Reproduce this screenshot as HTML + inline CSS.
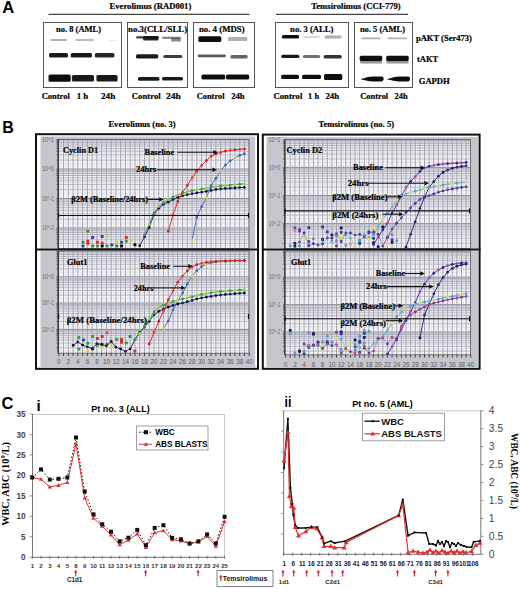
<!DOCTYPE html>
<html><head><meta charset="utf-8"><title>Figure</title>
<style>
html,body{margin:0;padding:0;background:#fff;width:520px;height:589px;overflow:hidden;}
svg.main{display:block;}
</style></head><body>
<svg class="main" width="520" height="589" viewBox="0 0 520 589">
<defs><filter id="bl" x="-20%" y="-80%" width="140%" height="260%"><feGaussianBlur stdDeviation="0.7"/></filter></defs>
<rect width="520" height="589" fill="#fff"/>
<text x="2.2" y="13.0" font-family="'Liberation Sans', sans-serif" font-size="16.5" font-weight="bold" fill="#000" text-anchor="start" >A</text>
<text x="109.5" y="9.0" font-family="'Liberation Serif', serif" font-size="8.6" font-weight="bold" fill="#000" stroke="#000" stroke-width="0.2" textLength="81.8" lengthAdjust="spacingAndGlyphs">Everolimus (RAD001)</text>
<line x1="48.5" y1="14.3" x2="249.5" y2="14.3" stroke="#444" stroke-width="1.2"/>
<text x="311.3" y="9.0" font-family="'Liberation Serif', serif" font-size="8.6" font-weight="bold" fill="#000" stroke="#000" stroke-width="0.2" textLength="89.4" lengthAdjust="spacingAndGlyphs">Temsirolimus (CCI-779)</text>
<line x1="276" y1="14.3" x2="408" y2="14.3" stroke="#444" stroke-width="1.2"/>
<rect x="43.5" y="22.5" width="78.0" height="65.0" fill="#fff" stroke="#555" stroke-width="1"/>
<text x="56.0" y="31.7" font-family="'Liberation Serif', serif" font-size="8.7" font-weight="bold" fill="#000" stroke="#000" stroke-width="0.2" textLength="45.1" lengthAdjust="spacingAndGlyphs">no. 8 (AML)</text>
<rect x="127.5" y="22.5" width="60.0" height="65.0" fill="#fff" stroke="#555" stroke-width="1"/>
<text x="128.1" y="31.7" font-family="'Liberation Serif', serif" font-size="8.7" font-weight="bold" fill="#000" stroke="#000" stroke-width="0.2" textLength="59.0" lengthAdjust="spacingAndGlyphs">no.3(CLL/SLL)</text>
<rect x="193.5" y="22.5" width="61.0" height="65.0" fill="#fff" stroke="#555" stroke-width="1"/>
<text x="198.9" y="31.7" font-family="'Liberation Serif', serif" font-size="8.7" font-weight="bold" fill="#000" stroke="#000" stroke-width="0.2" textLength="45.8" lengthAdjust="spacingAndGlyphs">no. 4 (MDS)</text>
<rect x="275.5" y="22.5" width="73.0" height="65.0" fill="#fff" stroke="#555" stroke-width="1"/>
<text x="290.1" y="31.7" font-family="'Liberation Serif', serif" font-size="8.7" font-weight="bold" fill="#000" stroke="#000" stroke-width="0.2" textLength="43.4" lengthAdjust="spacingAndGlyphs">no. 3 (ALL)</text>
<rect x="354.5" y="22.5" width="58.0" height="65.0" fill="#fff" stroke="#555" stroke-width="1"/>
<text x="359.9" y="31.7" font-family="'Liberation Serif', serif" font-size="8.7" font-weight="bold" fill="#000" stroke="#000" stroke-width="0.2" textLength="45.1" lengthAdjust="spacingAndGlyphs">no. 5 (AML)</text>
<rect x="50.0" y="39.2" width="17.0" height="1.6" rx="1.5" fill="#111" fill-opacity="0.45" filter="url(#bl)"/>
<rect x="75.0" y="39.2" width="19.0" height="1.6" rx="1.5" fill="#111" fill-opacity="0.35" filter="url(#bl)"/>
<rect x="108.0" y="40.0" width="10.0" height="1.0" rx="1.5" fill="#111" fill-opacity="0.08" filter="url(#bl)"/>
<rect x="49.0" y="53.1" width="19.0" height="4.3" rx="1.5" fill="#111" fill-opacity="0.95" filter="url(#bl)"/>
<rect x="70.7" y="53.1" width="21.3" height="4.3" rx="1.5" fill="#111" fill-opacity="0.95" filter="url(#bl)"/>
<rect x="94.8" y="53.1" width="19.6" height="4.3" rx="1.5" fill="#111" fill-opacity="0.9" filter="url(#bl)"/>
<rect x="48.5" y="74.4" width="22.2" height="7.3" rx="1.5" fill="#111" fill-opacity="1" filter="url(#bl)"/>
<rect x="71.9" y="75.0" width="22.1" height="6.5" rx="1.5" fill="#111" fill-opacity="0.95" filter="url(#bl)"/>
<rect x="96.4" y="75.0" width="21.2" height="6.5" rx="1.5" fill="#111" fill-opacity="0.95" filter="url(#bl)"/>
<rect x="136.0" y="36.3" width="23.0" height="2.3" rx="1.5" fill="#111" fill-opacity="0.8" filter="url(#bl)"/>
<rect x="143.0" y="36.0" width="15.5" height="4.6" rx="1.5" fill="#111" fill-opacity="0.9" filter="url(#bl)"/>
<rect x="162.0" y="36.8" width="19.0" height="2.0" rx="1.5" fill="#111" fill-opacity="0.55" filter="url(#bl)"/>
<rect x="171.0" y="38.0" width="10.0" height="3.6" rx="1.5" fill="#111" fill-opacity="0.5" filter="url(#bl)"/>
<rect x="136.0" y="54.2" width="22.3" height="4.4" rx="1.5" fill="#111" fill-opacity="0.95" filter="url(#bl)"/>
<rect x="163.3" y="55.0" width="19.1" height="3.0" rx="1.5" fill="#111" fill-opacity="0.8" filter="url(#bl)"/>
<rect x="138.0" y="77.0" width="21.5" height="3.8" rx="1.5" fill="#111" fill-opacity="0.95" filter="url(#bl)"/>
<rect x="162.0" y="77.0" width="21.0" height="3.5" rx="1.5" fill="#111" fill-opacity="0.95" filter="url(#bl)"/>
<rect x="198.3" y="36.2" width="23.0" height="5.7" rx="1.5" fill="#111" fill-opacity="1" filter="url(#bl)"/>
<rect x="228.0" y="37.0" width="19.3" height="4.0" rx="1.5" fill="#111" fill-opacity="0.35" filter="url(#bl)"/>
<rect x="197.7" y="54.4" width="28.3" height="2.9" rx="1.5" fill="#111" fill-opacity="0.7" filter="url(#bl)"/>
<rect x="230.4" y="55.0" width="17.3" height="3.6" rx="1.5" fill="#111" fill-opacity="0.65" filter="url(#bl)"/>
<rect x="201.5" y="74.6" width="23.7" height="5.0" rx="1.5" fill="#111" fill-opacity="1" filter="url(#bl)"/>
<rect x="226.0" y="74.6" width="23.2" height="5.0" rx="1.5" fill="#111" fill-opacity="1" filter="url(#bl)"/>
<rect x="281.8" y="34.9" width="17.3" height="3.5" rx="1.5" fill="#111" fill-opacity="1" filter="url(#bl)"/>
<rect x="302.9" y="36.0" width="17.3" height="2.0" rx="1.5" fill="#111" fill-opacity="0.15" filter="url(#bl)"/>
<rect x="324.5" y="35.5" width="17.3" height="3.0" rx="1.5" fill="#111" fill-opacity="0.35" filter="url(#bl)"/>
<rect x="281.2" y="54.8" width="18.2" height="3.1" rx="1.5" fill="#111" fill-opacity="0.95" filter="url(#bl)"/>
<rect x="302.9" y="55.0" width="17.3" height="3.0" rx="1.5" fill="#111" fill-opacity="0.6" filter="url(#bl)"/>
<rect x="323.7" y="55.0" width="18.1" height="3.5" rx="1.5" fill="#111" fill-opacity="0.85" filter="url(#bl)"/>
<rect x="281.0" y="74.7" width="18.0" height="4.3" rx="1.5" fill="#111" fill-opacity="1" filter="url(#bl)"/>
<rect x="302.0" y="74.7" width="19.0" height="4.3" rx="1.5" fill="#111" fill-opacity="1" filter="url(#bl)"/>
<rect x="324.0" y="74.0" width="18.3" height="6.0" rx="1.5" fill="#111" fill-opacity="1" filter="url(#bl)"/>
<rect x="361.0" y="37.5" width="19.5" height="1.7" rx="1.5" fill="#111" fill-opacity="0.35" filter="url(#bl)"/>
<rect x="387.4" y="37.5" width="19.9" height="1.7" rx="1.5" fill="#111" fill-opacity="0.3" filter="url(#bl)"/>
<rect x="359.7" y="55.7" width="22.5" height="5.3" rx="1.5" fill="#111" fill-opacity="1" filter="url(#bl)"/>
<rect x="386.2" y="55.7" width="22.5" height="5.3" rx="1.5" fill="#111" fill-opacity="1" filter="url(#bl)"/>
<rect x="360.0" y="60.5" width="22.2" height="3.0" rx="1.5" fill="#111" fill-opacity="0.45" filter="url(#bl)"/>
<rect x="386.2" y="60.5" width="22.5" height="3.0" rx="1.5" fill="#111" fill-opacity="0.45" filter="url(#bl)"/>
<path d="M361,79 C365,77.6 369,76.6 373,76.4 L382,76.6 C384,77 384.5,80.5 382,81.4 L373,81.6 C369,81.4 365,80.4 361,79.6 Z" fill="#111" filter="url(#bl)"/>
<path d="M387.4,79 C391.4,77.6 395.4,76.6 399.4,76.4 L408.4,76.6 C410.4,77 410.9,80.5 408.4,81.4 L399.4,81.6 C395.4,81.4 391.4,80.4 387.4,79.6 Z" fill="#111" filter="url(#bl)"/>
<text x="41.7" y="98.5" font-family="'Liberation Serif', serif" font-size="8.5" font-weight="bold" fill="#000" stroke="#000" stroke-width="0.2" textLength="28.1" lengthAdjust="spacingAndGlyphs">Control</text>
<text x="76.7" y="98.5" font-family="'Liberation Serif', serif" font-size="8.5" font-weight="bold" fill="#000" stroke="#000" stroke-width="0.2" textLength="11.6" lengthAdjust="spacingAndGlyphs">1 h</text>
<text x="100.9" y="98.5" font-family="'Liberation Serif', serif" font-size="8.5" font-weight="bold" fill="#000" stroke="#000" stroke-width="0.2" textLength="14.4" lengthAdjust="spacingAndGlyphs">24h</text>
<text x="131.8" y="98.5" font-family="'Liberation Serif', serif" font-size="8.5" font-weight="bold" fill="#000" stroke="#000" stroke-width="0.2" textLength="28.9" lengthAdjust="spacingAndGlyphs">Control</text>
<text x="166.0" y="98.5" font-family="'Liberation Serif', serif" font-size="8.5" font-weight="bold" fill="#000" stroke="#000" stroke-width="0.2" textLength="14.9" lengthAdjust="spacingAndGlyphs">24h</text>
<text x="196.7" y="98.5" font-family="'Liberation Serif', serif" font-size="8.5" font-weight="bold" fill="#000" stroke="#000" stroke-width="0.2" textLength="27.8" lengthAdjust="spacingAndGlyphs">Control</text>
<text x="231.2" y="98.5" font-family="'Liberation Serif', serif" font-size="8.5" font-weight="bold" fill="#000" stroke="#000" stroke-width="0.2" textLength="13.5" lengthAdjust="spacingAndGlyphs">24h</text>
<text x="273.5" y="98.5" font-family="'Liberation Serif', serif" font-size="8.5" font-weight="bold" fill="#000" stroke="#000" stroke-width="0.2" textLength="28.8" lengthAdjust="spacingAndGlyphs">Control</text>
<text x="308.1" y="98.5" font-family="'Liberation Serif', serif" font-size="8.5" font-weight="bold" fill="#000" stroke="#000" stroke-width="0.2" textLength="11.0" lengthAdjust="spacingAndGlyphs">1 h</text>
<text x="325.4" y="98.5" font-family="'Liberation Serif', serif" font-size="8.5" font-weight="bold" fill="#000" stroke="#000" stroke-width="0.2" textLength="13.8" lengthAdjust="spacingAndGlyphs">24h</text>
<text x="360.3" y="98.5" font-family="'Liberation Serif', serif" font-size="8.5" font-weight="bold" fill="#000" stroke="#000" stroke-width="0.2" textLength="27.9" lengthAdjust="spacingAndGlyphs">Control</text>
<text x="394.5" y="98.5" font-family="'Liberation Serif', serif" font-size="8.5" font-weight="bold" fill="#000" stroke="#000" stroke-width="0.2" textLength="13.1" lengthAdjust="spacingAndGlyphs">24h</text>
<text x="416.0" y="40.6" font-family="'Liberation Serif', serif" font-size="8.5" font-weight="bold" fill="#000" stroke="#000" stroke-width="0.2" textLength="55.8" lengthAdjust="spacingAndGlyphs">pAKT (Ser473)</text>
<text x="416.9" y="62.2" font-family="'Liberation Serif', serif" font-size="8.5" font-weight="bold" fill="#000" stroke="#000" stroke-width="0.2" textLength="21.3" lengthAdjust="spacingAndGlyphs">tAKT</text>
<text x="418.7" y="83.5" font-family="'Liberation Serif', serif" font-size="8.5" font-weight="bold" fill="#000" stroke="#000" stroke-width="0.2" textLength="31.1" lengthAdjust="spacingAndGlyphs">GAPDH</text>
<text x="2.2" y="132.5" font-family="'Liberation Sans', sans-serif" font-size="16" font-weight="bold" fill="#000" text-anchor="start" >B</text>
<text x="108.4" y="127.0" font-family="'Liberation Serif', serif" font-size="8.6" font-weight="bold" fill="#000" stroke="#000" stroke-width="0.2" textLength="67.3" lengthAdjust="spacingAndGlyphs">Everolimus (no. 3)</text>
<text x="318.5" y="127.0" font-family="'Liberation Serif', serif" font-size="8.6" font-weight="bold" fill="#000" stroke="#000" stroke-width="0.2" textLength="75.6" lengthAdjust="spacingAndGlyphs">Temsirolimus (no. 5)</text>
<rect x="36" y="134.2" width="222" height="234.6" fill="#fff" stroke="#111" stroke-width="2"/>
<rect x="262.8" y="134.6" width="216.8" height="234.2" fill="#fff" stroke="#111" stroke-width="2"/>
<rect x="40.5" y="136.5" width="214.7" height="112.0" fill="#c6c6cc"/>
<rect x="58" y="139.5" width="191" height="109.0" fill="#f8f8fb"/>
<svg x="58" y="139.5" width="191" height="109.0" overflow="hidden"><g transform="translate(-58,-139.5)">
<line x1="58" y1="163.81" x2="249" y2="163.81" stroke="#e2e2e8" stroke-width="0.8"/>
<line x1="58" y1="157.26" x2="249" y2="157.26" stroke="#e2e2e8" stroke-width="0.8"/>
<line x1="58" y1="152.95" x2="249" y2="152.95" stroke="#e2e2e8" stroke-width="0.8"/>
<line x1="58" y1="149.73" x2="249" y2="149.73" stroke="#e2e2e8" stroke-width="0.8"/>
<line x1="58" y1="193.31" x2="249" y2="193.31" stroke="#e2e2e8" stroke-width="0.8"/>
<line x1="58" y1="186.76" x2="249" y2="186.76" stroke="#e2e2e8" stroke-width="0.8"/>
<line x1="58" y1="182.45" x2="249" y2="182.45" stroke="#e2e2e8" stroke-width="0.8"/>
<line x1="58" y1="179.23" x2="249" y2="179.23" stroke="#e2e2e8" stroke-width="0.8"/>
<line x1="58" y1="222.81" x2="249" y2="222.81" stroke="#e2e2e8" stroke-width="0.8"/>
<line x1="58" y1="216.26" x2="249" y2="216.26" stroke="#e2e2e8" stroke-width="0.8"/>
<line x1="58" y1="211.95" x2="249" y2="211.95" stroke="#e2e2e8" stroke-width="0.8"/>
<line x1="58" y1="208.73" x2="249" y2="208.73" stroke="#e2e2e8" stroke-width="0.8"/>
<line x1="58" y1="245.76" x2="249" y2="245.76" stroke="#e2e2e8" stroke-width="0.8"/>
<line x1="58" y1="241.45" x2="249" y2="241.45" stroke="#e2e2e8" stroke-width="0.8"/>
<line x1="58" y1="238.23" x2="249" y2="238.23" stroke="#e2e2e8" stroke-width="0.8"/>
<line x1="61.18" y1="139.5" x2="61.18" y2="248.5" stroke="#e2e2e8" stroke-width="0.8"/>
<line x1="65.94" y1="139.5" x2="65.94" y2="248.5" stroke="#e2e2e8" stroke-width="0.8"/>
<line x1="70.70" y1="139.5" x2="70.70" y2="248.5" stroke="#e2e2e8" stroke-width="0.8"/>
<line x1="75.46" y1="139.5" x2="75.46" y2="248.5" stroke="#e2e2e8" stroke-width="0.8"/>
<line x1="80.22" y1="139.5" x2="80.22" y2="248.5" stroke="#e2e2e8" stroke-width="0.8"/>
<line x1="84.98" y1="139.5" x2="84.98" y2="248.5" stroke="#e2e2e8" stroke-width="0.8"/>
<line x1="89.74" y1="139.5" x2="89.74" y2="248.5" stroke="#e2e2e8" stroke-width="0.8"/>
<line x1="94.50" y1="139.5" x2="94.50" y2="248.5" stroke="#e2e2e8" stroke-width="0.8"/>
<line x1="99.26" y1="139.5" x2="99.26" y2="248.5" stroke="#e2e2e8" stroke-width="0.8"/>
<line x1="104.02" y1="139.5" x2="104.02" y2="248.5" stroke="#e2e2e8" stroke-width="0.8"/>
<line x1="108.78" y1="139.5" x2="108.78" y2="248.5" stroke="#e2e2e8" stroke-width="0.8"/>
<line x1="113.54" y1="139.5" x2="113.54" y2="248.5" stroke="#e2e2e8" stroke-width="0.8"/>
<line x1="118.30" y1="139.5" x2="118.30" y2="248.5" stroke="#e2e2e8" stroke-width="0.8"/>
<line x1="123.06" y1="139.5" x2="123.06" y2="248.5" stroke="#e2e2e8" stroke-width="0.8"/>
<line x1="127.82" y1="139.5" x2="127.82" y2="248.5" stroke="#e2e2e8" stroke-width="0.8"/>
<line x1="132.58" y1="139.5" x2="132.58" y2="248.5" stroke="#e2e2e8" stroke-width="0.8"/>
<line x1="137.34" y1="139.5" x2="137.34" y2="248.5" stroke="#e2e2e8" stroke-width="0.8"/>
<line x1="142.10" y1="139.5" x2="142.10" y2="248.5" stroke="#e2e2e8" stroke-width="0.8"/>
<line x1="146.86" y1="139.5" x2="146.86" y2="248.5" stroke="#e2e2e8" stroke-width="0.8"/>
<line x1="151.62" y1="139.5" x2="151.62" y2="248.5" stroke="#e2e2e8" stroke-width="0.8"/>
<line x1="156.38" y1="139.5" x2="156.38" y2="248.5" stroke="#e2e2e8" stroke-width="0.8"/>
<line x1="161.14" y1="139.5" x2="161.14" y2="248.5" stroke="#e2e2e8" stroke-width="0.8"/>
<line x1="165.90" y1="139.5" x2="165.90" y2="248.5" stroke="#e2e2e8" stroke-width="0.8"/>
<line x1="170.66" y1="139.5" x2="170.66" y2="248.5" stroke="#e2e2e8" stroke-width="0.8"/>
<line x1="175.42" y1="139.5" x2="175.42" y2="248.5" stroke="#e2e2e8" stroke-width="0.8"/>
<line x1="180.18" y1="139.5" x2="180.18" y2="248.5" stroke="#e2e2e8" stroke-width="0.8"/>
<line x1="184.94" y1="139.5" x2="184.94" y2="248.5" stroke="#e2e2e8" stroke-width="0.8"/>
<line x1="189.70" y1="139.5" x2="189.70" y2="248.5" stroke="#e2e2e8" stroke-width="0.8"/>
<line x1="194.46" y1="139.5" x2="194.46" y2="248.5" stroke="#e2e2e8" stroke-width="0.8"/>
<line x1="199.22" y1="139.5" x2="199.22" y2="248.5" stroke="#e2e2e8" stroke-width="0.8"/>
<line x1="203.98" y1="139.5" x2="203.98" y2="248.5" stroke="#e2e2e8" stroke-width="0.8"/>
<line x1="208.74" y1="139.5" x2="208.74" y2="248.5" stroke="#e2e2e8" stroke-width="0.8"/>
<line x1="213.50" y1="139.5" x2="213.50" y2="248.5" stroke="#e2e2e8" stroke-width="0.8"/>
<line x1="218.26" y1="139.5" x2="218.26" y2="248.5" stroke="#e2e2e8" stroke-width="0.8"/>
<line x1="223.02" y1="139.5" x2="223.02" y2="248.5" stroke="#e2e2e8" stroke-width="0.8"/>
<line x1="227.78" y1="139.5" x2="227.78" y2="248.5" stroke="#e2e2e8" stroke-width="0.8"/>
<line x1="232.54" y1="139.5" x2="232.54" y2="248.5" stroke="#e2e2e8" stroke-width="0.8"/>
<line x1="237.30" y1="139.5" x2="237.30" y2="248.5" stroke="#e2e2e8" stroke-width="0.8"/>
<line x1="242.06" y1="139.5" x2="242.06" y2="248.5" stroke="#e2e2e8" stroke-width="0.8"/>
<line x1="246.82" y1="139.5" x2="246.82" y2="248.5" stroke="#e2e2e8" stroke-width="0.8"/>
<line x1="58" y1="139.50" x2="249" y2="139.50" stroke="#8c8c98" stroke-width="1"/>
<line x1="58" y1="169.00" x2="249" y2="169.00" stroke="#8c8c98" stroke-width="1"/>
<line x1="58" y1="160.12" x2="249" y2="160.12" stroke="#bcbcc6" stroke-width="1"/>
<line x1="58" y1="154.92" x2="249" y2="154.92" stroke="#bcbcc6" stroke-width="1"/>
<line x1="58" y1="151.24" x2="249" y2="151.24" stroke="#bcbcc6" stroke-width="1"/>
<line x1="58" y1="148.38" x2="249" y2="148.38" stroke="#bcbcc6" stroke-width="1"/>
<line x1="58" y1="146.04" x2="249" y2="146.04" stroke="#b0b0bc" stroke-width="1"/>
<line x1="58" y1="144.07" x2="249" y2="144.07" stroke="#b0b0bc" stroke-width="1"/>
<line x1="58" y1="142.36" x2="249" y2="142.36" stroke="#b0b0bc" stroke-width="1"/>
<line x1="58" y1="140.85" x2="249" y2="140.85" stroke="#b0b0bc" stroke-width="1"/>
<line x1="58" y1="198.50" x2="249" y2="198.50" stroke="#8c8c98" stroke-width="1"/>
<line x1="58" y1="189.62" x2="249" y2="189.62" stroke="#bcbcc6" stroke-width="1"/>
<line x1="58" y1="184.42" x2="249" y2="184.42" stroke="#bcbcc6" stroke-width="1"/>
<line x1="58" y1="180.74" x2="249" y2="180.74" stroke="#bcbcc6" stroke-width="1"/>
<line x1="58" y1="177.88" x2="249" y2="177.88" stroke="#bcbcc6" stroke-width="1"/>
<line x1="58" y1="175.54" x2="249" y2="175.54" stroke="#b0b0bc" stroke-width="1"/>
<line x1="58" y1="173.57" x2="249" y2="173.57" stroke="#b0b0bc" stroke-width="1"/>
<line x1="58" y1="171.86" x2="249" y2="171.86" stroke="#b0b0bc" stroke-width="1"/>
<line x1="58" y1="170.35" x2="249" y2="170.35" stroke="#b0b0bc" stroke-width="1"/>
<line x1="58" y1="228.00" x2="249" y2="228.00" stroke="#8c8c98" stroke-width="1"/>
<line x1="58" y1="219.12" x2="249" y2="219.12" stroke="#bcbcc6" stroke-width="1"/>
<line x1="58" y1="213.92" x2="249" y2="213.92" stroke="#bcbcc6" stroke-width="1"/>
<line x1="58" y1="210.24" x2="249" y2="210.24" stroke="#bcbcc6" stroke-width="1"/>
<line x1="58" y1="207.38" x2="249" y2="207.38" stroke="#bcbcc6" stroke-width="1"/>
<line x1="58" y1="205.04" x2="249" y2="205.04" stroke="#b0b0bc" stroke-width="1"/>
<line x1="58" y1="203.07" x2="249" y2="203.07" stroke="#b0b0bc" stroke-width="1"/>
<line x1="58" y1="201.36" x2="249" y2="201.36" stroke="#b0b0bc" stroke-width="1"/>
<line x1="58" y1="199.85" x2="249" y2="199.85" stroke="#b0b0bc" stroke-width="1"/>
<line x1="58" y1="248.62" x2="249" y2="248.62" stroke="#bcbcc6" stroke-width="1"/>
<line x1="58" y1="243.42" x2="249" y2="243.42" stroke="#bcbcc6" stroke-width="1"/>
<line x1="58" y1="239.74" x2="249" y2="239.74" stroke="#bcbcc6" stroke-width="1"/>
<line x1="58" y1="236.88" x2="249" y2="236.88" stroke="#bcbcc6" stroke-width="1"/>
<line x1="58" y1="234.54" x2="249" y2="234.54" stroke="#b0b0bc" stroke-width="1"/>
<line x1="58" y1="232.57" x2="249" y2="232.57" stroke="#b0b0bc" stroke-width="1"/>
<line x1="58" y1="230.86" x2="249" y2="230.86" stroke="#b0b0bc" stroke-width="1"/>
<line x1="58" y1="229.35" x2="249" y2="229.35" stroke="#b0b0bc" stroke-width="1"/>
<line x1="58.80" y1="139.5" x2="58.80" y2="248.5" stroke="#a2a2ae" stroke-width="1"/>
<line x1="63.56" y1="139.5" x2="63.56" y2="248.5" stroke="#a2a2ae" stroke-width="1"/>
<line x1="68.32" y1="139.5" x2="68.32" y2="248.5" stroke="#a2a2ae" stroke-width="1"/>
<line x1="73.08" y1="139.5" x2="73.08" y2="248.5" stroke="#a2a2ae" stroke-width="1"/>
<line x1="77.84" y1="139.5" x2="77.84" y2="248.5" stroke="#a2a2ae" stroke-width="1"/>
<line x1="82.60" y1="139.5" x2="82.60" y2="248.5" stroke="#a2a2ae" stroke-width="1"/>
<line x1="87.36" y1="139.5" x2="87.36" y2="248.5" stroke="#a2a2ae" stroke-width="1"/>
<line x1="92.12" y1="139.5" x2="92.12" y2="248.5" stroke="#a2a2ae" stroke-width="1"/>
<line x1="96.88" y1="139.5" x2="96.88" y2="248.5" stroke="#a2a2ae" stroke-width="1"/>
<line x1="101.64" y1="139.5" x2="101.64" y2="248.5" stroke="#a2a2ae" stroke-width="1"/>
<line x1="106.40" y1="139.5" x2="106.40" y2="248.5" stroke="#a2a2ae" stroke-width="1"/>
<line x1="111.16" y1="139.5" x2="111.16" y2="248.5" stroke="#a2a2ae" stroke-width="1"/>
<line x1="115.92" y1="139.5" x2="115.92" y2="248.5" stroke="#a2a2ae" stroke-width="1"/>
<line x1="120.68" y1="139.5" x2="120.68" y2="248.5" stroke="#a2a2ae" stroke-width="1"/>
<line x1="125.44" y1="139.5" x2="125.44" y2="248.5" stroke="#a2a2ae" stroke-width="1"/>
<line x1="130.20" y1="139.5" x2="130.20" y2="248.5" stroke="#a2a2ae" stroke-width="1"/>
<line x1="134.96" y1="139.5" x2="134.96" y2="248.5" stroke="#a2a2ae" stroke-width="1"/>
<line x1="139.72" y1="139.5" x2="139.72" y2="248.5" stroke="#a2a2ae" stroke-width="1"/>
<line x1="144.48" y1="139.5" x2="144.48" y2="248.5" stroke="#a2a2ae" stroke-width="1"/>
<line x1="149.24" y1="139.5" x2="149.24" y2="248.5" stroke="#a2a2ae" stroke-width="1"/>
<line x1="154.00" y1="139.5" x2="154.00" y2="248.5" stroke="#a2a2ae" stroke-width="1"/>
<line x1="158.76" y1="139.5" x2="158.76" y2="248.5" stroke="#a2a2ae" stroke-width="1"/>
<line x1="163.52" y1="139.5" x2="163.52" y2="248.5" stroke="#a2a2ae" stroke-width="1"/>
<line x1="168.28" y1="139.5" x2="168.28" y2="248.5" stroke="#a2a2ae" stroke-width="1"/>
<line x1="173.04" y1="139.5" x2="173.04" y2="248.5" stroke="#a2a2ae" stroke-width="1"/>
<line x1="177.80" y1="139.5" x2="177.80" y2="248.5" stroke="#a2a2ae" stroke-width="1"/>
<line x1="182.56" y1="139.5" x2="182.56" y2="248.5" stroke="#a2a2ae" stroke-width="1"/>
<line x1="187.32" y1="139.5" x2="187.32" y2="248.5" stroke="#a2a2ae" stroke-width="1"/>
<line x1="192.08" y1="139.5" x2="192.08" y2="248.5" stroke="#a2a2ae" stroke-width="1"/>
<line x1="196.84" y1="139.5" x2="196.84" y2="248.5" stroke="#a2a2ae" stroke-width="1"/>
<line x1="201.60" y1="139.5" x2="201.60" y2="248.5" stroke="#a2a2ae" stroke-width="1"/>
<line x1="206.36" y1="139.5" x2="206.36" y2="248.5" stroke="#a2a2ae" stroke-width="1"/>
<line x1="211.12" y1="139.5" x2="211.12" y2="248.5" stroke="#a2a2ae" stroke-width="1"/>
<line x1="215.88" y1="139.5" x2="215.88" y2="248.5" stroke="#a2a2ae" stroke-width="1"/>
<line x1="220.64" y1="139.5" x2="220.64" y2="248.5" stroke="#a2a2ae" stroke-width="1"/>
<line x1="225.40" y1="139.5" x2="225.40" y2="248.5" stroke="#a2a2ae" stroke-width="1"/>
<line x1="230.16" y1="139.5" x2="230.16" y2="248.5" stroke="#a2a2ae" stroke-width="1"/>
<line x1="234.92" y1="139.5" x2="234.92" y2="248.5" stroke="#a2a2ae" stroke-width="1"/>
<line x1="239.68" y1="139.5" x2="239.68" y2="248.5" stroke="#a2a2ae" stroke-width="1"/>
<line x1="244.44" y1="139.5" x2="244.44" y2="248.5" stroke="#a2a2ae" stroke-width="1"/>
<line x1="249.20" y1="139.5" x2="249.20" y2="248.5" stroke="#a2a2ae" stroke-width="1"/>
</g></svg>
<rect x="58" y="139.5" width="191" height="109.0" fill="none" stroke="#555" stroke-width="0.8"/>
<line x1="58.3" y1="139.5" x2="58.3" y2="248.5" stroke="#444" stroke-width="1.4"/>
<line x1="56.5" y1="139.50" x2="58.5" y2="139.50" stroke="#444" stroke-width="0.8"/>
<line x1="56.5" y1="169.00" x2="58.5" y2="169.00" stroke="#444" stroke-width="0.8"/>
<line x1="56.5" y1="160.12" x2="58.5" y2="160.12" stroke="#444" stroke-width="0.8"/>
<line x1="56.5" y1="154.92" x2="58.5" y2="154.92" stroke="#444" stroke-width="0.8"/>
<line x1="56.5" y1="151.24" x2="58.5" y2="151.24" stroke="#444" stroke-width="0.8"/>
<line x1="56.5" y1="148.38" x2="58.5" y2="148.38" stroke="#444" stroke-width="0.8"/>
<line x1="56.5" y1="146.04" x2="58.5" y2="146.04" stroke="#444" stroke-width="0.8"/>
<line x1="56.5" y1="144.07" x2="58.5" y2="144.07" stroke="#444" stroke-width="0.8"/>
<line x1="56.5" y1="142.36" x2="58.5" y2="142.36" stroke="#444" stroke-width="0.8"/>
<line x1="56.5" y1="140.85" x2="58.5" y2="140.85" stroke="#444" stroke-width="0.8"/>
<line x1="56.5" y1="198.50" x2="58.5" y2="198.50" stroke="#444" stroke-width="0.8"/>
<line x1="56.5" y1="189.62" x2="58.5" y2="189.62" stroke="#444" stroke-width="0.8"/>
<line x1="56.5" y1="184.42" x2="58.5" y2="184.42" stroke="#444" stroke-width="0.8"/>
<line x1="56.5" y1="180.74" x2="58.5" y2="180.74" stroke="#444" stroke-width="0.8"/>
<line x1="56.5" y1="177.88" x2="58.5" y2="177.88" stroke="#444" stroke-width="0.8"/>
<line x1="56.5" y1="175.54" x2="58.5" y2="175.54" stroke="#444" stroke-width="0.8"/>
<line x1="56.5" y1="173.57" x2="58.5" y2="173.57" stroke="#444" stroke-width="0.8"/>
<line x1="56.5" y1="171.86" x2="58.5" y2="171.86" stroke="#444" stroke-width="0.8"/>
<line x1="56.5" y1="170.35" x2="58.5" y2="170.35" stroke="#444" stroke-width="0.8"/>
<line x1="56.5" y1="228.00" x2="58.5" y2="228.00" stroke="#444" stroke-width="0.8"/>
<line x1="56.5" y1="219.12" x2="58.5" y2="219.12" stroke="#444" stroke-width="0.8"/>
<line x1="56.5" y1="213.92" x2="58.5" y2="213.92" stroke="#444" stroke-width="0.8"/>
<line x1="56.5" y1="210.24" x2="58.5" y2="210.24" stroke="#444" stroke-width="0.8"/>
<line x1="56.5" y1="207.38" x2="58.5" y2="207.38" stroke="#444" stroke-width="0.8"/>
<line x1="56.5" y1="205.04" x2="58.5" y2="205.04" stroke="#444" stroke-width="0.8"/>
<line x1="56.5" y1="203.07" x2="58.5" y2="203.07" stroke="#444" stroke-width="0.8"/>
<line x1="56.5" y1="201.36" x2="58.5" y2="201.36" stroke="#444" stroke-width="0.8"/>
<line x1="56.5" y1="199.85" x2="58.5" y2="199.85" stroke="#444" stroke-width="0.8"/>
<line x1="56.5" y1="243.42" x2="58.5" y2="243.42" stroke="#444" stroke-width="0.8"/>
<line x1="56.5" y1="239.74" x2="58.5" y2="239.74" stroke="#444" stroke-width="0.8"/>
<line x1="56.5" y1="236.88" x2="58.5" y2="236.88" stroke="#444" stroke-width="0.8"/>
<line x1="56.5" y1="234.54" x2="58.5" y2="234.54" stroke="#444" stroke-width="0.8"/>
<line x1="56.5" y1="232.57" x2="58.5" y2="232.57" stroke="#444" stroke-width="0.8"/>
<line x1="56.5" y1="230.86" x2="58.5" y2="230.86" stroke="#444" stroke-width="0.8"/>
<line x1="56.5" y1="229.35" x2="58.5" y2="229.35" stroke="#444" stroke-width="0.8"/>
<text x="54.0" y="141.7" font-family="'Liberation Sans', sans-serif" font-size="6.3" font-weight="normal" fill="#66666e" text-anchor="end" textLength="12" lengthAdjust="spacingAndGlyphs">10^1</text>
<text x="54.0" y="171.2" font-family="'Liberation Sans', sans-serif" font-size="6.3" font-weight="normal" fill="#66666e" text-anchor="end" textLength="12" lengthAdjust="spacingAndGlyphs">10^0</text>
<text x="54.0" y="200.7" font-family="'Liberation Sans', sans-serif" font-size="6.3" font-weight="normal" fill="#66666e" text-anchor="end" textLength="12" lengthAdjust="spacingAndGlyphs">10^-1</text>
<text x="54.0" y="230.2" font-family="'Liberation Sans', sans-serif" font-size="6.3" font-weight="normal" fill="#66666e" text-anchor="end" textLength="12" lengthAdjust="spacingAndGlyphs">10^-2</text>
<rect x="40.5" y="250.5" width="214.7" height="117.0" fill="#c6c6cc"/>
<rect x="58" y="251" width="191" height="102.19999999999999" fill="#f8f8fb"/>
<svg x="58" y="251" width="191" height="102.19999999999999" overflow="hidden"><g transform="translate(-58,-251)">
<line x1="58" y1="272.17" x2="249" y2="272.17" stroke="#e2e2e8" stroke-width="0.8"/>
<line x1="58" y1="266.33" x2="249" y2="266.33" stroke="#e2e2e8" stroke-width="0.8"/>
<line x1="58" y1="262.49" x2="249" y2="262.49" stroke="#e2e2e8" stroke-width="0.8"/>
<line x1="58" y1="259.62" x2="249" y2="259.62" stroke="#e2e2e8" stroke-width="0.8"/>
<line x1="58" y1="298.47" x2="249" y2="298.47" stroke="#e2e2e8" stroke-width="0.8"/>
<line x1="58" y1="292.63" x2="249" y2="292.63" stroke="#e2e2e8" stroke-width="0.8"/>
<line x1="58" y1="288.79" x2="249" y2="288.79" stroke="#e2e2e8" stroke-width="0.8"/>
<line x1="58" y1="285.92" x2="249" y2="285.92" stroke="#e2e2e8" stroke-width="0.8"/>
<line x1="58" y1="324.77" x2="249" y2="324.77" stroke="#e2e2e8" stroke-width="0.8"/>
<line x1="58" y1="318.93" x2="249" y2="318.93" stroke="#e2e2e8" stroke-width="0.8"/>
<line x1="58" y1="315.09" x2="249" y2="315.09" stroke="#e2e2e8" stroke-width="0.8"/>
<line x1="58" y1="312.22" x2="249" y2="312.22" stroke="#e2e2e8" stroke-width="0.8"/>
<line x1="58" y1="351.07" x2="249" y2="351.07" stroke="#e2e2e8" stroke-width="0.8"/>
<line x1="58" y1="345.23" x2="249" y2="345.23" stroke="#e2e2e8" stroke-width="0.8"/>
<line x1="58" y1="341.39" x2="249" y2="341.39" stroke="#e2e2e8" stroke-width="0.8"/>
<line x1="58" y1="338.52" x2="249" y2="338.52" stroke="#e2e2e8" stroke-width="0.8"/>
<line x1="61.18" y1="251" x2="61.18" y2="353.2" stroke="#e2e2e8" stroke-width="0.8"/>
<line x1="65.94" y1="251" x2="65.94" y2="353.2" stroke="#e2e2e8" stroke-width="0.8"/>
<line x1="70.70" y1="251" x2="70.70" y2="353.2" stroke="#e2e2e8" stroke-width="0.8"/>
<line x1="75.46" y1="251" x2="75.46" y2="353.2" stroke="#e2e2e8" stroke-width="0.8"/>
<line x1="80.22" y1="251" x2="80.22" y2="353.2" stroke="#e2e2e8" stroke-width="0.8"/>
<line x1="84.98" y1="251" x2="84.98" y2="353.2" stroke="#e2e2e8" stroke-width="0.8"/>
<line x1="89.74" y1="251" x2="89.74" y2="353.2" stroke="#e2e2e8" stroke-width="0.8"/>
<line x1="94.50" y1="251" x2="94.50" y2="353.2" stroke="#e2e2e8" stroke-width="0.8"/>
<line x1="99.26" y1="251" x2="99.26" y2="353.2" stroke="#e2e2e8" stroke-width="0.8"/>
<line x1="104.02" y1="251" x2="104.02" y2="353.2" stroke="#e2e2e8" stroke-width="0.8"/>
<line x1="108.78" y1="251" x2="108.78" y2="353.2" stroke="#e2e2e8" stroke-width="0.8"/>
<line x1="113.54" y1="251" x2="113.54" y2="353.2" stroke="#e2e2e8" stroke-width="0.8"/>
<line x1="118.30" y1="251" x2="118.30" y2="353.2" stroke="#e2e2e8" stroke-width="0.8"/>
<line x1="123.06" y1="251" x2="123.06" y2="353.2" stroke="#e2e2e8" stroke-width="0.8"/>
<line x1="127.82" y1="251" x2="127.82" y2="353.2" stroke="#e2e2e8" stroke-width="0.8"/>
<line x1="132.58" y1="251" x2="132.58" y2="353.2" stroke="#e2e2e8" stroke-width="0.8"/>
<line x1="137.34" y1="251" x2="137.34" y2="353.2" stroke="#e2e2e8" stroke-width="0.8"/>
<line x1="142.10" y1="251" x2="142.10" y2="353.2" stroke="#e2e2e8" stroke-width="0.8"/>
<line x1="146.86" y1="251" x2="146.86" y2="353.2" stroke="#e2e2e8" stroke-width="0.8"/>
<line x1="151.62" y1="251" x2="151.62" y2="353.2" stroke="#e2e2e8" stroke-width="0.8"/>
<line x1="156.38" y1="251" x2="156.38" y2="353.2" stroke="#e2e2e8" stroke-width="0.8"/>
<line x1="161.14" y1="251" x2="161.14" y2="353.2" stroke="#e2e2e8" stroke-width="0.8"/>
<line x1="165.90" y1="251" x2="165.90" y2="353.2" stroke="#e2e2e8" stroke-width="0.8"/>
<line x1="170.66" y1="251" x2="170.66" y2="353.2" stroke="#e2e2e8" stroke-width="0.8"/>
<line x1="175.42" y1="251" x2="175.42" y2="353.2" stroke="#e2e2e8" stroke-width="0.8"/>
<line x1="180.18" y1="251" x2="180.18" y2="353.2" stroke="#e2e2e8" stroke-width="0.8"/>
<line x1="184.94" y1="251" x2="184.94" y2="353.2" stroke="#e2e2e8" stroke-width="0.8"/>
<line x1="189.70" y1="251" x2="189.70" y2="353.2" stroke="#e2e2e8" stroke-width="0.8"/>
<line x1="194.46" y1="251" x2="194.46" y2="353.2" stroke="#e2e2e8" stroke-width="0.8"/>
<line x1="199.22" y1="251" x2="199.22" y2="353.2" stroke="#e2e2e8" stroke-width="0.8"/>
<line x1="203.98" y1="251" x2="203.98" y2="353.2" stroke="#e2e2e8" stroke-width="0.8"/>
<line x1="208.74" y1="251" x2="208.74" y2="353.2" stroke="#e2e2e8" stroke-width="0.8"/>
<line x1="213.50" y1="251" x2="213.50" y2="353.2" stroke="#e2e2e8" stroke-width="0.8"/>
<line x1="218.26" y1="251" x2="218.26" y2="353.2" stroke="#e2e2e8" stroke-width="0.8"/>
<line x1="223.02" y1="251" x2="223.02" y2="353.2" stroke="#e2e2e8" stroke-width="0.8"/>
<line x1="227.78" y1="251" x2="227.78" y2="353.2" stroke="#e2e2e8" stroke-width="0.8"/>
<line x1="232.54" y1="251" x2="232.54" y2="353.2" stroke="#e2e2e8" stroke-width="0.8"/>
<line x1="237.30" y1="251" x2="237.30" y2="353.2" stroke="#e2e2e8" stroke-width="0.8"/>
<line x1="242.06" y1="251" x2="242.06" y2="353.2" stroke="#e2e2e8" stroke-width="0.8"/>
<line x1="246.82" y1="251" x2="246.82" y2="353.2" stroke="#e2e2e8" stroke-width="0.8"/>
<line x1="58" y1="250.50" x2="249" y2="250.50" stroke="#8c8c98" stroke-width="1"/>
<line x1="58" y1="276.80" x2="249" y2="276.80" stroke="#8c8c98" stroke-width="1"/>
<line x1="58" y1="268.88" x2="249" y2="268.88" stroke="#bcbcc6" stroke-width="1"/>
<line x1="58" y1="264.25" x2="249" y2="264.25" stroke="#bcbcc6" stroke-width="1"/>
<line x1="58" y1="260.97" x2="249" y2="260.97" stroke="#bcbcc6" stroke-width="1"/>
<line x1="58" y1="258.42" x2="249" y2="258.42" stroke="#bcbcc6" stroke-width="1"/>
<line x1="58" y1="256.33" x2="249" y2="256.33" stroke="#b0b0bc" stroke-width="1"/>
<line x1="58" y1="254.57" x2="249" y2="254.57" stroke="#b0b0bc" stroke-width="1"/>
<line x1="58" y1="253.05" x2="249" y2="253.05" stroke="#b0b0bc" stroke-width="1"/>
<line x1="58" y1="251.70" x2="249" y2="251.70" stroke="#b0b0bc" stroke-width="1"/>
<line x1="58" y1="303.10" x2="249" y2="303.10" stroke="#8c8c98" stroke-width="1"/>
<line x1="58" y1="295.18" x2="249" y2="295.18" stroke="#bcbcc6" stroke-width="1"/>
<line x1="58" y1="290.55" x2="249" y2="290.55" stroke="#bcbcc6" stroke-width="1"/>
<line x1="58" y1="287.27" x2="249" y2="287.27" stroke="#bcbcc6" stroke-width="1"/>
<line x1="58" y1="284.72" x2="249" y2="284.72" stroke="#bcbcc6" stroke-width="1"/>
<line x1="58" y1="282.63" x2="249" y2="282.63" stroke="#b0b0bc" stroke-width="1"/>
<line x1="58" y1="280.87" x2="249" y2="280.87" stroke="#b0b0bc" stroke-width="1"/>
<line x1="58" y1="279.35" x2="249" y2="279.35" stroke="#b0b0bc" stroke-width="1"/>
<line x1="58" y1="278.00" x2="249" y2="278.00" stroke="#b0b0bc" stroke-width="1"/>
<line x1="58" y1="329.40" x2="249" y2="329.40" stroke="#8c8c98" stroke-width="1"/>
<line x1="58" y1="321.48" x2="249" y2="321.48" stroke="#bcbcc6" stroke-width="1"/>
<line x1="58" y1="316.85" x2="249" y2="316.85" stroke="#bcbcc6" stroke-width="1"/>
<line x1="58" y1="313.57" x2="249" y2="313.57" stroke="#bcbcc6" stroke-width="1"/>
<line x1="58" y1="311.02" x2="249" y2="311.02" stroke="#bcbcc6" stroke-width="1"/>
<line x1="58" y1="308.93" x2="249" y2="308.93" stroke="#b0b0bc" stroke-width="1"/>
<line x1="58" y1="307.17" x2="249" y2="307.17" stroke="#b0b0bc" stroke-width="1"/>
<line x1="58" y1="305.65" x2="249" y2="305.65" stroke="#b0b0bc" stroke-width="1"/>
<line x1="58" y1="304.30" x2="249" y2="304.30" stroke="#b0b0bc" stroke-width="1"/>
<line x1="58" y1="347.78" x2="249" y2="347.78" stroke="#bcbcc6" stroke-width="1"/>
<line x1="58" y1="343.15" x2="249" y2="343.15" stroke="#bcbcc6" stroke-width="1"/>
<line x1="58" y1="339.87" x2="249" y2="339.87" stroke="#bcbcc6" stroke-width="1"/>
<line x1="58" y1="337.32" x2="249" y2="337.32" stroke="#bcbcc6" stroke-width="1"/>
<line x1="58" y1="335.23" x2="249" y2="335.23" stroke="#b0b0bc" stroke-width="1"/>
<line x1="58" y1="333.47" x2="249" y2="333.47" stroke="#b0b0bc" stroke-width="1"/>
<line x1="58" y1="331.95" x2="249" y2="331.95" stroke="#b0b0bc" stroke-width="1"/>
<line x1="58" y1="330.60" x2="249" y2="330.60" stroke="#b0b0bc" stroke-width="1"/>
<line x1="58.80" y1="251" x2="58.80" y2="353.2" stroke="#a2a2ae" stroke-width="1"/>
<line x1="63.56" y1="251" x2="63.56" y2="353.2" stroke="#a2a2ae" stroke-width="1"/>
<line x1="68.32" y1="251" x2="68.32" y2="353.2" stroke="#a2a2ae" stroke-width="1"/>
<line x1="73.08" y1="251" x2="73.08" y2="353.2" stroke="#a2a2ae" stroke-width="1"/>
<line x1="77.84" y1="251" x2="77.84" y2="353.2" stroke="#a2a2ae" stroke-width="1"/>
<line x1="82.60" y1="251" x2="82.60" y2="353.2" stroke="#a2a2ae" stroke-width="1"/>
<line x1="87.36" y1="251" x2="87.36" y2="353.2" stroke="#a2a2ae" stroke-width="1"/>
<line x1="92.12" y1="251" x2="92.12" y2="353.2" stroke="#a2a2ae" stroke-width="1"/>
<line x1="96.88" y1="251" x2="96.88" y2="353.2" stroke="#a2a2ae" stroke-width="1"/>
<line x1="101.64" y1="251" x2="101.64" y2="353.2" stroke="#a2a2ae" stroke-width="1"/>
<line x1="106.40" y1="251" x2="106.40" y2="353.2" stroke="#a2a2ae" stroke-width="1"/>
<line x1="111.16" y1="251" x2="111.16" y2="353.2" stroke="#a2a2ae" stroke-width="1"/>
<line x1="115.92" y1="251" x2="115.92" y2="353.2" stroke="#a2a2ae" stroke-width="1"/>
<line x1="120.68" y1="251" x2="120.68" y2="353.2" stroke="#a2a2ae" stroke-width="1"/>
<line x1="125.44" y1="251" x2="125.44" y2="353.2" stroke="#a2a2ae" stroke-width="1"/>
<line x1="130.20" y1="251" x2="130.20" y2="353.2" stroke="#a2a2ae" stroke-width="1"/>
<line x1="134.96" y1="251" x2="134.96" y2="353.2" stroke="#a2a2ae" stroke-width="1"/>
<line x1="139.72" y1="251" x2="139.72" y2="353.2" stroke="#a2a2ae" stroke-width="1"/>
<line x1="144.48" y1="251" x2="144.48" y2="353.2" stroke="#a2a2ae" stroke-width="1"/>
<line x1="149.24" y1="251" x2="149.24" y2="353.2" stroke="#a2a2ae" stroke-width="1"/>
<line x1="154.00" y1="251" x2="154.00" y2="353.2" stroke="#a2a2ae" stroke-width="1"/>
<line x1="158.76" y1="251" x2="158.76" y2="353.2" stroke="#a2a2ae" stroke-width="1"/>
<line x1="163.52" y1="251" x2="163.52" y2="353.2" stroke="#a2a2ae" stroke-width="1"/>
<line x1="168.28" y1="251" x2="168.28" y2="353.2" stroke="#a2a2ae" stroke-width="1"/>
<line x1="173.04" y1="251" x2="173.04" y2="353.2" stroke="#a2a2ae" stroke-width="1"/>
<line x1="177.80" y1="251" x2="177.80" y2="353.2" stroke="#a2a2ae" stroke-width="1"/>
<line x1="182.56" y1="251" x2="182.56" y2="353.2" stroke="#a2a2ae" stroke-width="1"/>
<line x1="187.32" y1="251" x2="187.32" y2="353.2" stroke="#a2a2ae" stroke-width="1"/>
<line x1="192.08" y1="251" x2="192.08" y2="353.2" stroke="#a2a2ae" stroke-width="1"/>
<line x1="196.84" y1="251" x2="196.84" y2="353.2" stroke="#a2a2ae" stroke-width="1"/>
<line x1="201.60" y1="251" x2="201.60" y2="353.2" stroke="#a2a2ae" stroke-width="1"/>
<line x1="206.36" y1="251" x2="206.36" y2="353.2" stroke="#a2a2ae" stroke-width="1"/>
<line x1="211.12" y1="251" x2="211.12" y2="353.2" stroke="#a2a2ae" stroke-width="1"/>
<line x1="215.88" y1="251" x2="215.88" y2="353.2" stroke="#a2a2ae" stroke-width="1"/>
<line x1="220.64" y1="251" x2="220.64" y2="353.2" stroke="#a2a2ae" stroke-width="1"/>
<line x1="225.40" y1="251" x2="225.40" y2="353.2" stroke="#a2a2ae" stroke-width="1"/>
<line x1="230.16" y1="251" x2="230.16" y2="353.2" stroke="#a2a2ae" stroke-width="1"/>
<line x1="234.92" y1="251" x2="234.92" y2="353.2" stroke="#a2a2ae" stroke-width="1"/>
<line x1="239.68" y1="251" x2="239.68" y2="353.2" stroke="#a2a2ae" stroke-width="1"/>
<line x1="244.44" y1="251" x2="244.44" y2="353.2" stroke="#a2a2ae" stroke-width="1"/>
<line x1="249.20" y1="251" x2="249.20" y2="353.2" stroke="#a2a2ae" stroke-width="1"/>
</g></svg>
<rect x="58" y="251" width="191" height="102.19999999999999" fill="none" stroke="#555" stroke-width="0.8"/>
<line x1="58.3" y1="251" x2="58.3" y2="353.2" stroke="#444" stroke-width="1.4"/>
<line x1="56.5" y1="276.80" x2="58.5" y2="276.80" stroke="#444" stroke-width="0.8"/>
<line x1="56.5" y1="268.88" x2="58.5" y2="268.88" stroke="#444" stroke-width="0.8"/>
<line x1="56.5" y1="264.25" x2="58.5" y2="264.25" stroke="#444" stroke-width="0.8"/>
<line x1="56.5" y1="260.97" x2="58.5" y2="260.97" stroke="#444" stroke-width="0.8"/>
<line x1="56.5" y1="258.42" x2="58.5" y2="258.42" stroke="#444" stroke-width="0.8"/>
<line x1="56.5" y1="256.33" x2="58.5" y2="256.33" stroke="#444" stroke-width="0.8"/>
<line x1="56.5" y1="254.57" x2="58.5" y2="254.57" stroke="#444" stroke-width="0.8"/>
<line x1="56.5" y1="253.05" x2="58.5" y2="253.05" stroke="#444" stroke-width="0.8"/>
<line x1="56.5" y1="251.70" x2="58.5" y2="251.70" stroke="#444" stroke-width="0.8"/>
<line x1="56.5" y1="303.10" x2="58.5" y2="303.10" stroke="#444" stroke-width="0.8"/>
<line x1="56.5" y1="295.18" x2="58.5" y2="295.18" stroke="#444" stroke-width="0.8"/>
<line x1="56.5" y1="290.55" x2="58.5" y2="290.55" stroke="#444" stroke-width="0.8"/>
<line x1="56.5" y1="287.27" x2="58.5" y2="287.27" stroke="#444" stroke-width="0.8"/>
<line x1="56.5" y1="284.72" x2="58.5" y2="284.72" stroke="#444" stroke-width="0.8"/>
<line x1="56.5" y1="282.63" x2="58.5" y2="282.63" stroke="#444" stroke-width="0.8"/>
<line x1="56.5" y1="280.87" x2="58.5" y2="280.87" stroke="#444" stroke-width="0.8"/>
<line x1="56.5" y1="279.35" x2="58.5" y2="279.35" stroke="#444" stroke-width="0.8"/>
<line x1="56.5" y1="278.00" x2="58.5" y2="278.00" stroke="#444" stroke-width="0.8"/>
<line x1="56.5" y1="329.40" x2="58.5" y2="329.40" stroke="#444" stroke-width="0.8"/>
<line x1="56.5" y1="321.48" x2="58.5" y2="321.48" stroke="#444" stroke-width="0.8"/>
<line x1="56.5" y1="316.85" x2="58.5" y2="316.85" stroke="#444" stroke-width="0.8"/>
<line x1="56.5" y1="313.57" x2="58.5" y2="313.57" stroke="#444" stroke-width="0.8"/>
<line x1="56.5" y1="311.02" x2="58.5" y2="311.02" stroke="#444" stroke-width="0.8"/>
<line x1="56.5" y1="308.93" x2="58.5" y2="308.93" stroke="#444" stroke-width="0.8"/>
<line x1="56.5" y1="307.17" x2="58.5" y2="307.17" stroke="#444" stroke-width="0.8"/>
<line x1="56.5" y1="305.65" x2="58.5" y2="305.65" stroke="#444" stroke-width="0.8"/>
<line x1="56.5" y1="304.30" x2="58.5" y2="304.30" stroke="#444" stroke-width="0.8"/>
<line x1="56.5" y1="347.78" x2="58.5" y2="347.78" stroke="#444" stroke-width="0.8"/>
<line x1="56.5" y1="343.15" x2="58.5" y2="343.15" stroke="#444" stroke-width="0.8"/>
<line x1="56.5" y1="339.87" x2="58.5" y2="339.87" stroke="#444" stroke-width="0.8"/>
<line x1="56.5" y1="337.32" x2="58.5" y2="337.32" stroke="#444" stroke-width="0.8"/>
<line x1="56.5" y1="335.23" x2="58.5" y2="335.23" stroke="#444" stroke-width="0.8"/>
<line x1="56.5" y1="333.47" x2="58.5" y2="333.47" stroke="#444" stroke-width="0.8"/>
<line x1="56.5" y1="331.95" x2="58.5" y2="331.95" stroke="#444" stroke-width="0.8"/>
<line x1="56.5" y1="330.60" x2="58.5" y2="330.60" stroke="#444" stroke-width="0.8"/>
<text x="54.0" y="279.0" font-family="'Liberation Sans', sans-serif" font-size="6.3" font-weight="normal" fill="#66666e" text-anchor="end" textLength="12" lengthAdjust="spacingAndGlyphs">10^0</text>
<text x="54.0" y="305.3" font-family="'Liberation Sans', sans-serif" font-size="6.3" font-weight="normal" fill="#66666e" text-anchor="end" textLength="12" lengthAdjust="spacingAndGlyphs">10^-1</text>
<text x="54.0" y="331.6" font-family="'Liberation Sans', sans-serif" font-size="6.3" font-weight="normal" fill="#66666e" text-anchor="end" textLength="12" lengthAdjust="spacingAndGlyphs">10^-2</text>
<text x="58.8" y="364.1" font-family="'Liberation Sans', sans-serif" font-size="6.3" font-weight="normal" fill="#5c5c64" text-anchor="middle" >0</text>
<text x="68.3" y="364.1" font-family="'Liberation Sans', sans-serif" font-size="6.3" font-weight="normal" fill="#5c5c64" text-anchor="middle" >2</text>
<text x="77.8" y="364.1" font-family="'Liberation Sans', sans-serif" font-size="6.3" font-weight="normal" fill="#5c5c64" text-anchor="middle" >4</text>
<text x="87.4" y="364.1" font-family="'Liberation Sans', sans-serif" font-size="6.3" font-weight="normal" fill="#5c5c64" text-anchor="middle" >6</text>
<text x="96.9" y="364.1" font-family="'Liberation Sans', sans-serif" font-size="6.3" font-weight="normal" fill="#5c5c64" text-anchor="middle" >8</text>
<text x="106.4" y="364.1" font-family="'Liberation Sans', sans-serif" font-size="6.3" font-weight="normal" fill="#5c5c64" text-anchor="middle" >10</text>
<text x="115.9" y="364.1" font-family="'Liberation Sans', sans-serif" font-size="6.3" font-weight="normal" fill="#5c5c64" text-anchor="middle" >12</text>
<text x="125.4" y="364.1" font-family="'Liberation Sans', sans-serif" font-size="6.3" font-weight="normal" fill="#5c5c64" text-anchor="middle" >14</text>
<text x="135.0" y="364.1" font-family="'Liberation Sans', sans-serif" font-size="6.3" font-weight="normal" fill="#5c5c64" text-anchor="middle" >16</text>
<text x="144.5" y="364.1" font-family="'Liberation Sans', sans-serif" font-size="6.3" font-weight="normal" fill="#5c5c64" text-anchor="middle" >18</text>
<text x="154.0" y="364.1" font-family="'Liberation Sans', sans-serif" font-size="6.3" font-weight="normal" fill="#5c5c64" text-anchor="middle" >20</text>
<text x="163.5" y="364.1" font-family="'Liberation Sans', sans-serif" font-size="6.3" font-weight="normal" fill="#5c5c64" text-anchor="middle" >22</text>
<text x="173.0" y="364.1" font-family="'Liberation Sans', sans-serif" font-size="6.3" font-weight="normal" fill="#5c5c64" text-anchor="middle" >24</text>
<text x="182.6" y="364.1" font-family="'Liberation Sans', sans-serif" font-size="6.3" font-weight="normal" fill="#5c5c64" text-anchor="middle" >26</text>
<text x="192.1" y="364.1" font-family="'Liberation Sans', sans-serif" font-size="6.3" font-weight="normal" fill="#5c5c64" text-anchor="middle" >28</text>
<text x="201.6" y="364.1" font-family="'Liberation Sans', sans-serif" font-size="6.3" font-weight="normal" fill="#5c5c64" text-anchor="middle" >30</text>
<text x="211.1" y="364.1" font-family="'Liberation Sans', sans-serif" font-size="6.3" font-weight="normal" fill="#5c5c64" text-anchor="middle" >32</text>
<text x="220.6" y="364.1" font-family="'Liberation Sans', sans-serif" font-size="6.3" font-weight="normal" fill="#5c5c64" text-anchor="middle" >34</text>
<text x="230.2" y="364.1" font-family="'Liberation Sans', sans-serif" font-size="6.3" font-weight="normal" fill="#5c5c64" text-anchor="middle" >36</text>
<text x="239.7" y="364.1" font-family="'Liberation Sans', sans-serif" font-size="6.3" font-weight="normal" fill="#5c5c64" text-anchor="middle" >38</text>
<text x="249.2" y="364.1" font-family="'Liberation Sans', sans-serif" font-size="6.3" font-weight="normal" fill="#5c5c64" text-anchor="middle" >40</text>
<line x1="58.80" y1="353.2" x2="58.80" y2="356.0" stroke="#333" stroke-width="0.9"/>
<line x1="63.56" y1="353.2" x2="63.56" y2="356.0" stroke="#333" stroke-width="0.9"/>
<line x1="68.32" y1="353.2" x2="68.32" y2="356.0" stroke="#333" stroke-width="0.9"/>
<line x1="73.08" y1="353.2" x2="73.08" y2="356.0" stroke="#333" stroke-width="0.9"/>
<line x1="77.84" y1="353.2" x2="77.84" y2="356.0" stroke="#333" stroke-width="0.9"/>
<line x1="82.60" y1="353.2" x2="82.60" y2="356.0" stroke="#333" stroke-width="0.9"/>
<line x1="87.36" y1="353.2" x2="87.36" y2="356.0" stroke="#333" stroke-width="0.9"/>
<line x1="92.12" y1="353.2" x2="92.12" y2="356.0" stroke="#333" stroke-width="0.9"/>
<line x1="96.88" y1="353.2" x2="96.88" y2="356.0" stroke="#333" stroke-width="0.9"/>
<line x1="101.64" y1="353.2" x2="101.64" y2="356.0" stroke="#333" stroke-width="0.9"/>
<line x1="106.40" y1="353.2" x2="106.40" y2="356.0" stroke="#333" stroke-width="0.9"/>
<line x1="111.16" y1="353.2" x2="111.16" y2="356.0" stroke="#333" stroke-width="0.9"/>
<line x1="115.92" y1="353.2" x2="115.92" y2="356.0" stroke="#333" stroke-width="0.9"/>
<line x1="120.68" y1="353.2" x2="120.68" y2="356.0" stroke="#333" stroke-width="0.9"/>
<line x1="125.44" y1="353.2" x2="125.44" y2="356.0" stroke="#333" stroke-width="0.9"/>
<line x1="130.20" y1="353.2" x2="130.20" y2="356.0" stroke="#333" stroke-width="0.9"/>
<line x1="134.96" y1="353.2" x2="134.96" y2="356.0" stroke="#333" stroke-width="0.9"/>
<line x1="139.72" y1="353.2" x2="139.72" y2="356.0" stroke="#333" stroke-width="0.9"/>
<line x1="144.48" y1="353.2" x2="144.48" y2="356.0" stroke="#333" stroke-width="0.9"/>
<line x1="149.24" y1="353.2" x2="149.24" y2="356.0" stroke="#333" stroke-width="0.9"/>
<line x1="154.00" y1="353.2" x2="154.00" y2="356.0" stroke="#333" stroke-width="0.9"/>
<line x1="158.76" y1="353.2" x2="158.76" y2="356.0" stroke="#333" stroke-width="0.9"/>
<line x1="163.52" y1="353.2" x2="163.52" y2="356.0" stroke="#333" stroke-width="0.9"/>
<line x1="168.28" y1="353.2" x2="168.28" y2="356.0" stroke="#333" stroke-width="0.9"/>
<line x1="173.04" y1="353.2" x2="173.04" y2="356.0" stroke="#333" stroke-width="0.9"/>
<line x1="177.80" y1="353.2" x2="177.80" y2="356.0" stroke="#333" stroke-width="0.9"/>
<line x1="182.56" y1="353.2" x2="182.56" y2="356.0" stroke="#333" stroke-width="0.9"/>
<line x1="187.32" y1="353.2" x2="187.32" y2="356.0" stroke="#333" stroke-width="0.9"/>
<line x1="192.08" y1="353.2" x2="192.08" y2="356.0" stroke="#333" stroke-width="0.9"/>
<line x1="196.84" y1="353.2" x2="196.84" y2="356.0" stroke="#333" stroke-width="0.9"/>
<line x1="201.60" y1="353.2" x2="201.60" y2="356.0" stroke="#333" stroke-width="0.9"/>
<line x1="206.36" y1="353.2" x2="206.36" y2="356.0" stroke="#333" stroke-width="0.9"/>
<line x1="211.12" y1="353.2" x2="211.12" y2="356.0" stroke="#333" stroke-width="0.9"/>
<line x1="215.88" y1="353.2" x2="215.88" y2="356.0" stroke="#333" stroke-width="0.9"/>
<line x1="220.64" y1="353.2" x2="220.64" y2="356.0" stroke="#333" stroke-width="0.9"/>
<line x1="225.40" y1="353.2" x2="225.40" y2="356.0" stroke="#333" stroke-width="0.9"/>
<line x1="230.16" y1="353.2" x2="230.16" y2="356.0" stroke="#333" stroke-width="0.9"/>
<line x1="234.92" y1="353.2" x2="234.92" y2="356.0" stroke="#333" stroke-width="0.9"/>
<line x1="239.68" y1="353.2" x2="239.68" y2="356.0" stroke="#333" stroke-width="0.9"/>
<line x1="244.44" y1="353.2" x2="244.44" y2="356.0" stroke="#333" stroke-width="0.9"/>
<line x1="249.20" y1="353.2" x2="249.20" y2="356.0" stroke="#333" stroke-width="0.9"/>
<rect x="266.5" y="137" width="211.5" height="111.5" fill="#c6c6cc"/>
<rect x="284.5" y="139.5" width="186.0" height="109.0" fill="#f8f8fb"/>
<svg x="284.5" y="139.5" width="186.0" height="109.0" overflow="hidden"><g transform="translate(-284.5,-139.5)">
<line x1="284.5" y1="162.45" x2="470.5" y2="162.45" stroke="#e2e2e8" stroke-width="0.8"/>
<line x1="284.5" y1="156.22" x2="470.5" y2="156.22" stroke="#e2e2e8" stroke-width="0.8"/>
<line x1="284.5" y1="152.11" x2="470.5" y2="152.11" stroke="#e2e2e8" stroke-width="0.8"/>
<line x1="284.5" y1="149.04" x2="470.5" y2="149.04" stroke="#e2e2e8" stroke-width="0.8"/>
<line x1="284.5" y1="190.55" x2="470.5" y2="190.55" stroke="#e2e2e8" stroke-width="0.8"/>
<line x1="284.5" y1="184.32" x2="470.5" y2="184.32" stroke="#e2e2e8" stroke-width="0.8"/>
<line x1="284.5" y1="180.21" x2="470.5" y2="180.21" stroke="#e2e2e8" stroke-width="0.8"/>
<line x1="284.5" y1="177.14" x2="470.5" y2="177.14" stroke="#e2e2e8" stroke-width="0.8"/>
<line x1="284.5" y1="218.65" x2="470.5" y2="218.65" stroke="#e2e2e8" stroke-width="0.8"/>
<line x1="284.5" y1="212.42" x2="470.5" y2="212.42" stroke="#e2e2e8" stroke-width="0.8"/>
<line x1="284.5" y1="208.31" x2="470.5" y2="208.31" stroke="#e2e2e8" stroke-width="0.8"/>
<line x1="284.5" y1="205.24" x2="470.5" y2="205.24" stroke="#e2e2e8" stroke-width="0.8"/>
<line x1="284.5" y1="246.75" x2="470.5" y2="246.75" stroke="#e2e2e8" stroke-width="0.8"/>
<line x1="284.5" y1="240.52" x2="470.5" y2="240.52" stroke="#e2e2e8" stroke-width="0.8"/>
<line x1="284.5" y1="236.41" x2="470.5" y2="236.41" stroke="#e2e2e8" stroke-width="0.8"/>
<line x1="284.5" y1="233.34" x2="470.5" y2="233.34" stroke="#e2e2e8" stroke-width="0.8"/>
<line x1="287.92" y1="139.5" x2="287.92" y2="248.5" stroke="#e2e2e8" stroke-width="0.8"/>
<line x1="292.55" y1="139.5" x2="292.55" y2="248.5" stroke="#e2e2e8" stroke-width="0.8"/>
<line x1="297.18" y1="139.5" x2="297.18" y2="248.5" stroke="#e2e2e8" stroke-width="0.8"/>
<line x1="301.81" y1="139.5" x2="301.81" y2="248.5" stroke="#e2e2e8" stroke-width="0.8"/>
<line x1="306.44" y1="139.5" x2="306.44" y2="248.5" stroke="#e2e2e8" stroke-width="0.8"/>
<line x1="311.06" y1="139.5" x2="311.06" y2="248.5" stroke="#e2e2e8" stroke-width="0.8"/>
<line x1="315.70" y1="139.5" x2="315.70" y2="248.5" stroke="#e2e2e8" stroke-width="0.8"/>
<line x1="320.33" y1="139.5" x2="320.33" y2="248.5" stroke="#e2e2e8" stroke-width="0.8"/>
<line x1="324.96" y1="139.5" x2="324.96" y2="248.5" stroke="#e2e2e8" stroke-width="0.8"/>
<line x1="329.59" y1="139.5" x2="329.59" y2="248.5" stroke="#e2e2e8" stroke-width="0.8"/>
<line x1="334.22" y1="139.5" x2="334.22" y2="248.5" stroke="#e2e2e8" stroke-width="0.8"/>
<line x1="338.85" y1="139.5" x2="338.85" y2="248.5" stroke="#e2e2e8" stroke-width="0.8"/>
<line x1="343.48" y1="139.5" x2="343.48" y2="248.5" stroke="#e2e2e8" stroke-width="0.8"/>
<line x1="348.11" y1="139.5" x2="348.11" y2="248.5" stroke="#e2e2e8" stroke-width="0.8"/>
<line x1="352.74" y1="139.5" x2="352.74" y2="248.5" stroke="#e2e2e8" stroke-width="0.8"/>
<line x1="357.37" y1="139.5" x2="357.37" y2="248.5" stroke="#e2e2e8" stroke-width="0.8"/>
<line x1="362.00" y1="139.5" x2="362.00" y2="248.5" stroke="#e2e2e8" stroke-width="0.8"/>
<line x1="366.62" y1="139.5" x2="366.62" y2="248.5" stroke="#e2e2e8" stroke-width="0.8"/>
<line x1="371.25" y1="139.5" x2="371.25" y2="248.5" stroke="#e2e2e8" stroke-width="0.8"/>
<line x1="375.88" y1="139.5" x2="375.88" y2="248.5" stroke="#e2e2e8" stroke-width="0.8"/>
<line x1="380.51" y1="139.5" x2="380.51" y2="248.5" stroke="#e2e2e8" stroke-width="0.8"/>
<line x1="385.15" y1="139.5" x2="385.15" y2="248.5" stroke="#e2e2e8" stroke-width="0.8"/>
<line x1="389.78" y1="139.5" x2="389.78" y2="248.5" stroke="#e2e2e8" stroke-width="0.8"/>
<line x1="394.41" y1="139.5" x2="394.41" y2="248.5" stroke="#e2e2e8" stroke-width="0.8"/>
<line x1="399.04" y1="139.5" x2="399.04" y2="248.5" stroke="#e2e2e8" stroke-width="0.8"/>
<line x1="403.67" y1="139.5" x2="403.67" y2="248.5" stroke="#e2e2e8" stroke-width="0.8"/>
<line x1="408.30" y1="139.5" x2="408.30" y2="248.5" stroke="#e2e2e8" stroke-width="0.8"/>
<line x1="412.93" y1="139.5" x2="412.93" y2="248.5" stroke="#e2e2e8" stroke-width="0.8"/>
<line x1="417.56" y1="139.5" x2="417.56" y2="248.5" stroke="#e2e2e8" stroke-width="0.8"/>
<line x1="422.19" y1="139.5" x2="422.19" y2="248.5" stroke="#e2e2e8" stroke-width="0.8"/>
<line x1="426.82" y1="139.5" x2="426.82" y2="248.5" stroke="#e2e2e8" stroke-width="0.8"/>
<line x1="431.45" y1="139.5" x2="431.45" y2="248.5" stroke="#e2e2e8" stroke-width="0.8"/>
<line x1="436.08" y1="139.5" x2="436.08" y2="248.5" stroke="#e2e2e8" stroke-width="0.8"/>
<line x1="440.71" y1="139.5" x2="440.71" y2="248.5" stroke="#e2e2e8" stroke-width="0.8"/>
<line x1="445.34" y1="139.5" x2="445.34" y2="248.5" stroke="#e2e2e8" stroke-width="0.8"/>
<line x1="449.97" y1="139.5" x2="449.97" y2="248.5" stroke="#e2e2e8" stroke-width="0.8"/>
<line x1="454.60" y1="139.5" x2="454.60" y2="248.5" stroke="#e2e2e8" stroke-width="0.8"/>
<line x1="459.23" y1="139.5" x2="459.23" y2="248.5" stroke="#e2e2e8" stroke-width="0.8"/>
<line x1="463.86" y1="139.5" x2="463.86" y2="248.5" stroke="#e2e2e8" stroke-width="0.8"/>
<line x1="468.49" y1="139.5" x2="468.49" y2="248.5" stroke="#e2e2e8" stroke-width="0.8"/>
<line x1="284.5" y1="139.30" x2="470.5" y2="139.30" stroke="#8c8c98" stroke-width="1"/>
<line x1="284.5" y1="167.40" x2="470.5" y2="167.40" stroke="#8c8c98" stroke-width="1"/>
<line x1="284.5" y1="158.94" x2="470.5" y2="158.94" stroke="#bcbcc6" stroke-width="1"/>
<line x1="284.5" y1="153.99" x2="470.5" y2="153.99" stroke="#bcbcc6" stroke-width="1"/>
<line x1="284.5" y1="150.48" x2="470.5" y2="150.48" stroke="#bcbcc6" stroke-width="1"/>
<line x1="284.5" y1="147.76" x2="470.5" y2="147.76" stroke="#bcbcc6" stroke-width="1"/>
<line x1="284.5" y1="145.53" x2="470.5" y2="145.53" stroke="#b0b0bc" stroke-width="1"/>
<line x1="284.5" y1="143.65" x2="470.5" y2="143.65" stroke="#b0b0bc" stroke-width="1"/>
<line x1="284.5" y1="142.02" x2="470.5" y2="142.02" stroke="#b0b0bc" stroke-width="1"/>
<line x1="284.5" y1="140.59" x2="470.5" y2="140.59" stroke="#b0b0bc" stroke-width="1"/>
<line x1="284.5" y1="195.50" x2="470.5" y2="195.50" stroke="#8c8c98" stroke-width="1"/>
<line x1="284.5" y1="187.04" x2="470.5" y2="187.04" stroke="#bcbcc6" stroke-width="1"/>
<line x1="284.5" y1="182.09" x2="470.5" y2="182.09" stroke="#bcbcc6" stroke-width="1"/>
<line x1="284.5" y1="178.58" x2="470.5" y2="178.58" stroke="#bcbcc6" stroke-width="1"/>
<line x1="284.5" y1="175.86" x2="470.5" y2="175.86" stroke="#bcbcc6" stroke-width="1"/>
<line x1="284.5" y1="173.63" x2="470.5" y2="173.63" stroke="#b0b0bc" stroke-width="1"/>
<line x1="284.5" y1="171.75" x2="470.5" y2="171.75" stroke="#b0b0bc" stroke-width="1"/>
<line x1="284.5" y1="170.12" x2="470.5" y2="170.12" stroke="#b0b0bc" stroke-width="1"/>
<line x1="284.5" y1="168.69" x2="470.5" y2="168.69" stroke="#b0b0bc" stroke-width="1"/>
<line x1="284.5" y1="223.60" x2="470.5" y2="223.60" stroke="#8c8c98" stroke-width="1"/>
<line x1="284.5" y1="215.14" x2="470.5" y2="215.14" stroke="#bcbcc6" stroke-width="1"/>
<line x1="284.5" y1="210.19" x2="470.5" y2="210.19" stroke="#bcbcc6" stroke-width="1"/>
<line x1="284.5" y1="206.68" x2="470.5" y2="206.68" stroke="#bcbcc6" stroke-width="1"/>
<line x1="284.5" y1="203.96" x2="470.5" y2="203.96" stroke="#bcbcc6" stroke-width="1"/>
<line x1="284.5" y1="201.73" x2="470.5" y2="201.73" stroke="#b0b0bc" stroke-width="1"/>
<line x1="284.5" y1="199.85" x2="470.5" y2="199.85" stroke="#b0b0bc" stroke-width="1"/>
<line x1="284.5" y1="198.22" x2="470.5" y2="198.22" stroke="#b0b0bc" stroke-width="1"/>
<line x1="284.5" y1="196.79" x2="470.5" y2="196.79" stroke="#b0b0bc" stroke-width="1"/>
<line x1="284.5" y1="243.24" x2="470.5" y2="243.24" stroke="#bcbcc6" stroke-width="1"/>
<line x1="284.5" y1="238.29" x2="470.5" y2="238.29" stroke="#bcbcc6" stroke-width="1"/>
<line x1="284.5" y1="234.78" x2="470.5" y2="234.78" stroke="#bcbcc6" stroke-width="1"/>
<line x1="284.5" y1="232.06" x2="470.5" y2="232.06" stroke="#bcbcc6" stroke-width="1"/>
<line x1="284.5" y1="229.83" x2="470.5" y2="229.83" stroke="#b0b0bc" stroke-width="1"/>
<line x1="284.5" y1="227.95" x2="470.5" y2="227.95" stroke="#b0b0bc" stroke-width="1"/>
<line x1="284.5" y1="226.32" x2="470.5" y2="226.32" stroke="#b0b0bc" stroke-width="1"/>
<line x1="284.5" y1="224.89" x2="470.5" y2="224.89" stroke="#b0b0bc" stroke-width="1"/>
<line x1="285.60" y1="139.5" x2="285.60" y2="248.5" stroke="#a2a2ae" stroke-width="1"/>
<line x1="290.23" y1="139.5" x2="290.23" y2="248.5" stroke="#a2a2ae" stroke-width="1"/>
<line x1="294.86" y1="139.5" x2="294.86" y2="248.5" stroke="#a2a2ae" stroke-width="1"/>
<line x1="299.49" y1="139.5" x2="299.49" y2="248.5" stroke="#a2a2ae" stroke-width="1"/>
<line x1="304.12" y1="139.5" x2="304.12" y2="248.5" stroke="#a2a2ae" stroke-width="1"/>
<line x1="308.75" y1="139.5" x2="308.75" y2="248.5" stroke="#a2a2ae" stroke-width="1"/>
<line x1="313.38" y1="139.5" x2="313.38" y2="248.5" stroke="#a2a2ae" stroke-width="1"/>
<line x1="318.01" y1="139.5" x2="318.01" y2="248.5" stroke="#a2a2ae" stroke-width="1"/>
<line x1="322.64" y1="139.5" x2="322.64" y2="248.5" stroke="#a2a2ae" stroke-width="1"/>
<line x1="327.27" y1="139.5" x2="327.27" y2="248.5" stroke="#a2a2ae" stroke-width="1"/>
<line x1="331.90" y1="139.5" x2="331.90" y2="248.5" stroke="#a2a2ae" stroke-width="1"/>
<line x1="336.53" y1="139.5" x2="336.53" y2="248.5" stroke="#a2a2ae" stroke-width="1"/>
<line x1="341.16" y1="139.5" x2="341.16" y2="248.5" stroke="#a2a2ae" stroke-width="1"/>
<line x1="345.79" y1="139.5" x2="345.79" y2="248.5" stroke="#a2a2ae" stroke-width="1"/>
<line x1="350.42" y1="139.5" x2="350.42" y2="248.5" stroke="#a2a2ae" stroke-width="1"/>
<line x1="355.05" y1="139.5" x2="355.05" y2="248.5" stroke="#a2a2ae" stroke-width="1"/>
<line x1="359.68" y1="139.5" x2="359.68" y2="248.5" stroke="#a2a2ae" stroke-width="1"/>
<line x1="364.31" y1="139.5" x2="364.31" y2="248.5" stroke="#a2a2ae" stroke-width="1"/>
<line x1="368.94" y1="139.5" x2="368.94" y2="248.5" stroke="#a2a2ae" stroke-width="1"/>
<line x1="373.57" y1="139.5" x2="373.57" y2="248.5" stroke="#a2a2ae" stroke-width="1"/>
<line x1="378.20" y1="139.5" x2="378.20" y2="248.5" stroke="#a2a2ae" stroke-width="1"/>
<line x1="382.83" y1="139.5" x2="382.83" y2="248.5" stroke="#a2a2ae" stroke-width="1"/>
<line x1="387.46" y1="139.5" x2="387.46" y2="248.5" stroke="#a2a2ae" stroke-width="1"/>
<line x1="392.09" y1="139.5" x2="392.09" y2="248.5" stroke="#a2a2ae" stroke-width="1"/>
<line x1="396.72" y1="139.5" x2="396.72" y2="248.5" stroke="#a2a2ae" stroke-width="1"/>
<line x1="401.35" y1="139.5" x2="401.35" y2="248.5" stroke="#a2a2ae" stroke-width="1"/>
<line x1="405.98" y1="139.5" x2="405.98" y2="248.5" stroke="#a2a2ae" stroke-width="1"/>
<line x1="410.61" y1="139.5" x2="410.61" y2="248.5" stroke="#a2a2ae" stroke-width="1"/>
<line x1="415.24" y1="139.5" x2="415.24" y2="248.5" stroke="#a2a2ae" stroke-width="1"/>
<line x1="419.87" y1="139.5" x2="419.87" y2="248.5" stroke="#a2a2ae" stroke-width="1"/>
<line x1="424.50" y1="139.5" x2="424.50" y2="248.5" stroke="#a2a2ae" stroke-width="1"/>
<line x1="429.13" y1="139.5" x2="429.13" y2="248.5" stroke="#a2a2ae" stroke-width="1"/>
<line x1="433.76" y1="139.5" x2="433.76" y2="248.5" stroke="#a2a2ae" stroke-width="1"/>
<line x1="438.39" y1="139.5" x2="438.39" y2="248.5" stroke="#a2a2ae" stroke-width="1"/>
<line x1="443.02" y1="139.5" x2="443.02" y2="248.5" stroke="#a2a2ae" stroke-width="1"/>
<line x1="447.65" y1="139.5" x2="447.65" y2="248.5" stroke="#a2a2ae" stroke-width="1"/>
<line x1="452.28" y1="139.5" x2="452.28" y2="248.5" stroke="#a2a2ae" stroke-width="1"/>
<line x1="456.91" y1="139.5" x2="456.91" y2="248.5" stroke="#a2a2ae" stroke-width="1"/>
<line x1="461.54" y1="139.5" x2="461.54" y2="248.5" stroke="#a2a2ae" stroke-width="1"/>
<line x1="466.17" y1="139.5" x2="466.17" y2="248.5" stroke="#a2a2ae" stroke-width="1"/>
<line x1="470.80" y1="139.5" x2="470.80" y2="248.5" stroke="#a2a2ae" stroke-width="1"/>
</g></svg>
<rect x="284.5" y="139.5" width="186.0" height="109.0" fill="none" stroke="#555" stroke-width="0.8"/>
<line x1="284.8" y1="139.5" x2="284.8" y2="248.5" stroke="#444" stroke-width="1.4"/>
<line x1="283.0" y1="167.40" x2="285.0" y2="167.40" stroke="#444" stroke-width="0.8"/>
<line x1="283.0" y1="158.94" x2="285.0" y2="158.94" stroke="#444" stroke-width="0.8"/>
<line x1="283.0" y1="153.99" x2="285.0" y2="153.99" stroke="#444" stroke-width="0.8"/>
<line x1="283.0" y1="150.48" x2="285.0" y2="150.48" stroke="#444" stroke-width="0.8"/>
<line x1="283.0" y1="147.76" x2="285.0" y2="147.76" stroke="#444" stroke-width="0.8"/>
<line x1="283.0" y1="145.53" x2="285.0" y2="145.53" stroke="#444" stroke-width="0.8"/>
<line x1="283.0" y1="143.65" x2="285.0" y2="143.65" stroke="#444" stroke-width="0.8"/>
<line x1="283.0" y1="142.02" x2="285.0" y2="142.02" stroke="#444" stroke-width="0.8"/>
<line x1="283.0" y1="140.59" x2="285.0" y2="140.59" stroke="#444" stroke-width="0.8"/>
<line x1="283.0" y1="195.50" x2="285.0" y2="195.50" stroke="#444" stroke-width="0.8"/>
<line x1="283.0" y1="187.04" x2="285.0" y2="187.04" stroke="#444" stroke-width="0.8"/>
<line x1="283.0" y1="182.09" x2="285.0" y2="182.09" stroke="#444" stroke-width="0.8"/>
<line x1="283.0" y1="178.58" x2="285.0" y2="178.58" stroke="#444" stroke-width="0.8"/>
<line x1="283.0" y1="175.86" x2="285.0" y2="175.86" stroke="#444" stroke-width="0.8"/>
<line x1="283.0" y1="173.63" x2="285.0" y2="173.63" stroke="#444" stroke-width="0.8"/>
<line x1="283.0" y1="171.75" x2="285.0" y2="171.75" stroke="#444" stroke-width="0.8"/>
<line x1="283.0" y1="170.12" x2="285.0" y2="170.12" stroke="#444" stroke-width="0.8"/>
<line x1="283.0" y1="168.69" x2="285.0" y2="168.69" stroke="#444" stroke-width="0.8"/>
<line x1="283.0" y1="223.60" x2="285.0" y2="223.60" stroke="#444" stroke-width="0.8"/>
<line x1="283.0" y1="215.14" x2="285.0" y2="215.14" stroke="#444" stroke-width="0.8"/>
<line x1="283.0" y1="210.19" x2="285.0" y2="210.19" stroke="#444" stroke-width="0.8"/>
<line x1="283.0" y1="206.68" x2="285.0" y2="206.68" stroke="#444" stroke-width="0.8"/>
<line x1="283.0" y1="203.96" x2="285.0" y2="203.96" stroke="#444" stroke-width="0.8"/>
<line x1="283.0" y1="201.73" x2="285.0" y2="201.73" stroke="#444" stroke-width="0.8"/>
<line x1="283.0" y1="199.85" x2="285.0" y2="199.85" stroke="#444" stroke-width="0.8"/>
<line x1="283.0" y1="198.22" x2="285.0" y2="198.22" stroke="#444" stroke-width="0.8"/>
<line x1="283.0" y1="196.79" x2="285.0" y2="196.79" stroke="#444" stroke-width="0.8"/>
<line x1="283.0" y1="243.24" x2="285.0" y2="243.24" stroke="#444" stroke-width="0.8"/>
<line x1="283.0" y1="238.29" x2="285.0" y2="238.29" stroke="#444" stroke-width="0.8"/>
<line x1="283.0" y1="234.78" x2="285.0" y2="234.78" stroke="#444" stroke-width="0.8"/>
<line x1="283.0" y1="232.06" x2="285.0" y2="232.06" stroke="#444" stroke-width="0.8"/>
<line x1="283.0" y1="229.83" x2="285.0" y2="229.83" stroke="#444" stroke-width="0.8"/>
<line x1="283.0" y1="227.95" x2="285.0" y2="227.95" stroke="#444" stroke-width="0.8"/>
<line x1="283.0" y1="226.32" x2="285.0" y2="226.32" stroke="#444" stroke-width="0.8"/>
<line x1="283.0" y1="224.89" x2="285.0" y2="224.89" stroke="#444" stroke-width="0.8"/>
<text x="280.5" y="141.5" font-family="'Liberation Sans', sans-serif" font-size="6.3" font-weight="normal" fill="#66666e" text-anchor="end" textLength="12" lengthAdjust="spacingAndGlyphs">10^1</text>
<text x="280.5" y="169.6" font-family="'Liberation Sans', sans-serif" font-size="6.3" font-weight="normal" fill="#66666e" text-anchor="end" textLength="12" lengthAdjust="spacingAndGlyphs">10^0</text>
<text x="280.5" y="197.7" font-family="'Liberation Sans', sans-serif" font-size="6.3" font-weight="normal" fill="#66666e" text-anchor="end" textLength="12" lengthAdjust="spacingAndGlyphs">10^-1</text>
<text x="280.5" y="225.8" font-family="'Liberation Sans', sans-serif" font-size="6.3" font-weight="normal" fill="#66666e" text-anchor="end" textLength="12" lengthAdjust="spacingAndGlyphs">10^-2</text>
<rect x="266.5" y="250.5" width="211.5" height="117.0" fill="#c6c6cc"/>
<rect x="284.5" y="251" width="186.0" height="103.80000000000001" fill="#f8f8fb"/>
<svg x="284.5" y="251" width="186.0" height="103.80000000000001" overflow="hidden"><g transform="translate(-284.5,-251)">
<line x1="284.5" y1="272.38" x2="470.5" y2="272.38" stroke="#e2e2e8" stroke-width="0.8"/>
<line x1="284.5" y1="266.30" x2="470.5" y2="266.30" stroke="#e2e2e8" stroke-width="0.8"/>
<line x1="284.5" y1="262.29" x2="470.5" y2="262.29" stroke="#e2e2e8" stroke-width="0.8"/>
<line x1="284.5" y1="259.30" x2="470.5" y2="259.30" stroke="#e2e2e8" stroke-width="0.8"/>
<line x1="284.5" y1="299.78" x2="470.5" y2="299.78" stroke="#e2e2e8" stroke-width="0.8"/>
<line x1="284.5" y1="293.70" x2="470.5" y2="293.70" stroke="#e2e2e8" stroke-width="0.8"/>
<line x1="284.5" y1="289.69" x2="470.5" y2="289.69" stroke="#e2e2e8" stroke-width="0.8"/>
<line x1="284.5" y1="286.70" x2="470.5" y2="286.70" stroke="#e2e2e8" stroke-width="0.8"/>
<line x1="284.5" y1="327.18" x2="470.5" y2="327.18" stroke="#e2e2e8" stroke-width="0.8"/>
<line x1="284.5" y1="321.10" x2="470.5" y2="321.10" stroke="#e2e2e8" stroke-width="0.8"/>
<line x1="284.5" y1="317.09" x2="470.5" y2="317.09" stroke="#e2e2e8" stroke-width="0.8"/>
<line x1="284.5" y1="314.10" x2="470.5" y2="314.10" stroke="#e2e2e8" stroke-width="0.8"/>
<line x1="284.5" y1="354.58" x2="470.5" y2="354.58" stroke="#e2e2e8" stroke-width="0.8"/>
<line x1="284.5" y1="348.50" x2="470.5" y2="348.50" stroke="#e2e2e8" stroke-width="0.8"/>
<line x1="284.5" y1="344.49" x2="470.5" y2="344.49" stroke="#e2e2e8" stroke-width="0.8"/>
<line x1="284.5" y1="341.50" x2="470.5" y2="341.50" stroke="#e2e2e8" stroke-width="0.8"/>
<line x1="287.92" y1="251" x2="287.92" y2="354.8" stroke="#e2e2e8" stroke-width="0.8"/>
<line x1="292.55" y1="251" x2="292.55" y2="354.8" stroke="#e2e2e8" stroke-width="0.8"/>
<line x1="297.18" y1="251" x2="297.18" y2="354.8" stroke="#e2e2e8" stroke-width="0.8"/>
<line x1="301.81" y1="251" x2="301.81" y2="354.8" stroke="#e2e2e8" stroke-width="0.8"/>
<line x1="306.44" y1="251" x2="306.44" y2="354.8" stroke="#e2e2e8" stroke-width="0.8"/>
<line x1="311.06" y1="251" x2="311.06" y2="354.8" stroke="#e2e2e8" stroke-width="0.8"/>
<line x1="315.70" y1="251" x2="315.70" y2="354.8" stroke="#e2e2e8" stroke-width="0.8"/>
<line x1="320.33" y1="251" x2="320.33" y2="354.8" stroke="#e2e2e8" stroke-width="0.8"/>
<line x1="324.96" y1="251" x2="324.96" y2="354.8" stroke="#e2e2e8" stroke-width="0.8"/>
<line x1="329.59" y1="251" x2="329.59" y2="354.8" stroke="#e2e2e8" stroke-width="0.8"/>
<line x1="334.22" y1="251" x2="334.22" y2="354.8" stroke="#e2e2e8" stroke-width="0.8"/>
<line x1="338.85" y1="251" x2="338.85" y2="354.8" stroke="#e2e2e8" stroke-width="0.8"/>
<line x1="343.48" y1="251" x2="343.48" y2="354.8" stroke="#e2e2e8" stroke-width="0.8"/>
<line x1="348.11" y1="251" x2="348.11" y2="354.8" stroke="#e2e2e8" stroke-width="0.8"/>
<line x1="352.74" y1="251" x2="352.74" y2="354.8" stroke="#e2e2e8" stroke-width="0.8"/>
<line x1="357.37" y1="251" x2="357.37" y2="354.8" stroke="#e2e2e8" stroke-width="0.8"/>
<line x1="362.00" y1="251" x2="362.00" y2="354.8" stroke="#e2e2e8" stroke-width="0.8"/>
<line x1="366.62" y1="251" x2="366.62" y2="354.8" stroke="#e2e2e8" stroke-width="0.8"/>
<line x1="371.25" y1="251" x2="371.25" y2="354.8" stroke="#e2e2e8" stroke-width="0.8"/>
<line x1="375.88" y1="251" x2="375.88" y2="354.8" stroke="#e2e2e8" stroke-width="0.8"/>
<line x1="380.51" y1="251" x2="380.51" y2="354.8" stroke="#e2e2e8" stroke-width="0.8"/>
<line x1="385.15" y1="251" x2="385.15" y2="354.8" stroke="#e2e2e8" stroke-width="0.8"/>
<line x1="389.78" y1="251" x2="389.78" y2="354.8" stroke="#e2e2e8" stroke-width="0.8"/>
<line x1="394.41" y1="251" x2="394.41" y2="354.8" stroke="#e2e2e8" stroke-width="0.8"/>
<line x1="399.04" y1="251" x2="399.04" y2="354.8" stroke="#e2e2e8" stroke-width="0.8"/>
<line x1="403.67" y1="251" x2="403.67" y2="354.8" stroke="#e2e2e8" stroke-width="0.8"/>
<line x1="408.30" y1="251" x2="408.30" y2="354.8" stroke="#e2e2e8" stroke-width="0.8"/>
<line x1="412.93" y1="251" x2="412.93" y2="354.8" stroke="#e2e2e8" stroke-width="0.8"/>
<line x1="417.56" y1="251" x2="417.56" y2="354.8" stroke="#e2e2e8" stroke-width="0.8"/>
<line x1="422.19" y1="251" x2="422.19" y2="354.8" stroke="#e2e2e8" stroke-width="0.8"/>
<line x1="426.82" y1="251" x2="426.82" y2="354.8" stroke="#e2e2e8" stroke-width="0.8"/>
<line x1="431.45" y1="251" x2="431.45" y2="354.8" stroke="#e2e2e8" stroke-width="0.8"/>
<line x1="436.08" y1="251" x2="436.08" y2="354.8" stroke="#e2e2e8" stroke-width="0.8"/>
<line x1="440.71" y1="251" x2="440.71" y2="354.8" stroke="#e2e2e8" stroke-width="0.8"/>
<line x1="445.34" y1="251" x2="445.34" y2="354.8" stroke="#e2e2e8" stroke-width="0.8"/>
<line x1="449.97" y1="251" x2="449.97" y2="354.8" stroke="#e2e2e8" stroke-width="0.8"/>
<line x1="454.60" y1="251" x2="454.60" y2="354.8" stroke="#e2e2e8" stroke-width="0.8"/>
<line x1="459.23" y1="251" x2="459.23" y2="354.8" stroke="#e2e2e8" stroke-width="0.8"/>
<line x1="463.86" y1="251" x2="463.86" y2="354.8" stroke="#e2e2e8" stroke-width="0.8"/>
<line x1="468.49" y1="251" x2="468.49" y2="354.8" stroke="#e2e2e8" stroke-width="0.8"/>
<line x1="284.5" y1="277.20" x2="470.5" y2="277.20" stroke="#8c8c98" stroke-width="1"/>
<line x1="284.5" y1="268.95" x2="470.5" y2="268.95" stroke="#bcbcc6" stroke-width="1"/>
<line x1="284.5" y1="264.13" x2="470.5" y2="264.13" stroke="#bcbcc6" stroke-width="1"/>
<line x1="284.5" y1="260.70" x2="470.5" y2="260.70" stroke="#bcbcc6" stroke-width="1"/>
<line x1="284.5" y1="258.05" x2="470.5" y2="258.05" stroke="#bcbcc6" stroke-width="1"/>
<line x1="284.5" y1="255.88" x2="470.5" y2="255.88" stroke="#b0b0bc" stroke-width="1"/>
<line x1="284.5" y1="254.04" x2="470.5" y2="254.04" stroke="#b0b0bc" stroke-width="1"/>
<line x1="284.5" y1="252.46" x2="470.5" y2="252.46" stroke="#b0b0bc" stroke-width="1"/>
<line x1="284.5" y1="251.05" x2="470.5" y2="251.05" stroke="#b0b0bc" stroke-width="1"/>
<line x1="284.5" y1="304.60" x2="470.5" y2="304.60" stroke="#8c8c98" stroke-width="1"/>
<line x1="284.5" y1="296.35" x2="470.5" y2="296.35" stroke="#bcbcc6" stroke-width="1"/>
<line x1="284.5" y1="291.53" x2="470.5" y2="291.53" stroke="#bcbcc6" stroke-width="1"/>
<line x1="284.5" y1="288.10" x2="470.5" y2="288.10" stroke="#bcbcc6" stroke-width="1"/>
<line x1="284.5" y1="285.45" x2="470.5" y2="285.45" stroke="#bcbcc6" stroke-width="1"/>
<line x1="284.5" y1="283.28" x2="470.5" y2="283.28" stroke="#b0b0bc" stroke-width="1"/>
<line x1="284.5" y1="281.44" x2="470.5" y2="281.44" stroke="#b0b0bc" stroke-width="1"/>
<line x1="284.5" y1="279.86" x2="470.5" y2="279.86" stroke="#b0b0bc" stroke-width="1"/>
<line x1="284.5" y1="278.45" x2="470.5" y2="278.45" stroke="#b0b0bc" stroke-width="1"/>
<line x1="284.5" y1="332.00" x2="470.5" y2="332.00" stroke="#8c8c98" stroke-width="1"/>
<line x1="284.5" y1="323.75" x2="470.5" y2="323.75" stroke="#bcbcc6" stroke-width="1"/>
<line x1="284.5" y1="318.93" x2="470.5" y2="318.93" stroke="#bcbcc6" stroke-width="1"/>
<line x1="284.5" y1="315.50" x2="470.5" y2="315.50" stroke="#bcbcc6" stroke-width="1"/>
<line x1="284.5" y1="312.85" x2="470.5" y2="312.85" stroke="#bcbcc6" stroke-width="1"/>
<line x1="284.5" y1="310.68" x2="470.5" y2="310.68" stroke="#b0b0bc" stroke-width="1"/>
<line x1="284.5" y1="308.84" x2="470.5" y2="308.84" stroke="#b0b0bc" stroke-width="1"/>
<line x1="284.5" y1="307.26" x2="470.5" y2="307.26" stroke="#b0b0bc" stroke-width="1"/>
<line x1="284.5" y1="305.85" x2="470.5" y2="305.85" stroke="#b0b0bc" stroke-width="1"/>
<line x1="284.5" y1="351.15" x2="470.5" y2="351.15" stroke="#bcbcc6" stroke-width="1"/>
<line x1="284.5" y1="346.33" x2="470.5" y2="346.33" stroke="#bcbcc6" stroke-width="1"/>
<line x1="284.5" y1="342.90" x2="470.5" y2="342.90" stroke="#bcbcc6" stroke-width="1"/>
<line x1="284.5" y1="340.25" x2="470.5" y2="340.25" stroke="#bcbcc6" stroke-width="1"/>
<line x1="284.5" y1="338.08" x2="470.5" y2="338.08" stroke="#b0b0bc" stroke-width="1"/>
<line x1="284.5" y1="336.24" x2="470.5" y2="336.24" stroke="#b0b0bc" stroke-width="1"/>
<line x1="284.5" y1="334.66" x2="470.5" y2="334.66" stroke="#b0b0bc" stroke-width="1"/>
<line x1="284.5" y1="333.25" x2="470.5" y2="333.25" stroke="#b0b0bc" stroke-width="1"/>
<line x1="285.60" y1="251" x2="285.60" y2="354.8" stroke="#a2a2ae" stroke-width="1"/>
<line x1="290.23" y1="251" x2="290.23" y2="354.8" stroke="#a2a2ae" stroke-width="1"/>
<line x1="294.86" y1="251" x2="294.86" y2="354.8" stroke="#a2a2ae" stroke-width="1"/>
<line x1="299.49" y1="251" x2="299.49" y2="354.8" stroke="#a2a2ae" stroke-width="1"/>
<line x1="304.12" y1="251" x2="304.12" y2="354.8" stroke="#a2a2ae" stroke-width="1"/>
<line x1="308.75" y1="251" x2="308.75" y2="354.8" stroke="#a2a2ae" stroke-width="1"/>
<line x1="313.38" y1="251" x2="313.38" y2="354.8" stroke="#a2a2ae" stroke-width="1"/>
<line x1="318.01" y1="251" x2="318.01" y2="354.8" stroke="#a2a2ae" stroke-width="1"/>
<line x1="322.64" y1="251" x2="322.64" y2="354.8" stroke="#a2a2ae" stroke-width="1"/>
<line x1="327.27" y1="251" x2="327.27" y2="354.8" stroke="#a2a2ae" stroke-width="1"/>
<line x1="331.90" y1="251" x2="331.90" y2="354.8" stroke="#a2a2ae" stroke-width="1"/>
<line x1="336.53" y1="251" x2="336.53" y2="354.8" stroke="#a2a2ae" stroke-width="1"/>
<line x1="341.16" y1="251" x2="341.16" y2="354.8" stroke="#a2a2ae" stroke-width="1"/>
<line x1="345.79" y1="251" x2="345.79" y2="354.8" stroke="#a2a2ae" stroke-width="1"/>
<line x1="350.42" y1="251" x2="350.42" y2="354.8" stroke="#a2a2ae" stroke-width="1"/>
<line x1="355.05" y1="251" x2="355.05" y2="354.8" stroke="#a2a2ae" stroke-width="1"/>
<line x1="359.68" y1="251" x2="359.68" y2="354.8" stroke="#a2a2ae" stroke-width="1"/>
<line x1="364.31" y1="251" x2="364.31" y2="354.8" stroke="#a2a2ae" stroke-width="1"/>
<line x1="368.94" y1="251" x2="368.94" y2="354.8" stroke="#a2a2ae" stroke-width="1"/>
<line x1="373.57" y1="251" x2="373.57" y2="354.8" stroke="#a2a2ae" stroke-width="1"/>
<line x1="378.20" y1="251" x2="378.20" y2="354.8" stroke="#a2a2ae" stroke-width="1"/>
<line x1="382.83" y1="251" x2="382.83" y2="354.8" stroke="#a2a2ae" stroke-width="1"/>
<line x1="387.46" y1="251" x2="387.46" y2="354.8" stroke="#a2a2ae" stroke-width="1"/>
<line x1="392.09" y1="251" x2="392.09" y2="354.8" stroke="#a2a2ae" stroke-width="1"/>
<line x1="396.72" y1="251" x2="396.72" y2="354.8" stroke="#a2a2ae" stroke-width="1"/>
<line x1="401.35" y1="251" x2="401.35" y2="354.8" stroke="#a2a2ae" stroke-width="1"/>
<line x1="405.98" y1="251" x2="405.98" y2="354.8" stroke="#a2a2ae" stroke-width="1"/>
<line x1="410.61" y1="251" x2="410.61" y2="354.8" stroke="#a2a2ae" stroke-width="1"/>
<line x1="415.24" y1="251" x2="415.24" y2="354.8" stroke="#a2a2ae" stroke-width="1"/>
<line x1="419.87" y1="251" x2="419.87" y2="354.8" stroke="#a2a2ae" stroke-width="1"/>
<line x1="424.50" y1="251" x2="424.50" y2="354.8" stroke="#a2a2ae" stroke-width="1"/>
<line x1="429.13" y1="251" x2="429.13" y2="354.8" stroke="#a2a2ae" stroke-width="1"/>
<line x1="433.76" y1="251" x2="433.76" y2="354.8" stroke="#a2a2ae" stroke-width="1"/>
<line x1="438.39" y1="251" x2="438.39" y2="354.8" stroke="#a2a2ae" stroke-width="1"/>
<line x1="443.02" y1="251" x2="443.02" y2="354.8" stroke="#a2a2ae" stroke-width="1"/>
<line x1="447.65" y1="251" x2="447.65" y2="354.8" stroke="#a2a2ae" stroke-width="1"/>
<line x1="452.28" y1="251" x2="452.28" y2="354.8" stroke="#a2a2ae" stroke-width="1"/>
<line x1="456.91" y1="251" x2="456.91" y2="354.8" stroke="#a2a2ae" stroke-width="1"/>
<line x1="461.54" y1="251" x2="461.54" y2="354.8" stroke="#a2a2ae" stroke-width="1"/>
<line x1="466.17" y1="251" x2="466.17" y2="354.8" stroke="#a2a2ae" stroke-width="1"/>
<line x1="470.80" y1="251" x2="470.80" y2="354.8" stroke="#a2a2ae" stroke-width="1"/>
</g></svg>
<rect x="284.5" y="251" width="186.0" height="103.80000000000001" fill="none" stroke="#555" stroke-width="0.8"/>
<line x1="284.8" y1="251" x2="284.8" y2="354.8" stroke="#444" stroke-width="1.4"/>
<line x1="283.0" y1="277.20" x2="285.0" y2="277.20" stroke="#444" stroke-width="0.8"/>
<line x1="283.0" y1="268.95" x2="285.0" y2="268.95" stroke="#444" stroke-width="0.8"/>
<line x1="283.0" y1="264.13" x2="285.0" y2="264.13" stroke="#444" stroke-width="0.8"/>
<line x1="283.0" y1="260.70" x2="285.0" y2="260.70" stroke="#444" stroke-width="0.8"/>
<line x1="283.0" y1="258.05" x2="285.0" y2="258.05" stroke="#444" stroke-width="0.8"/>
<line x1="283.0" y1="255.88" x2="285.0" y2="255.88" stroke="#444" stroke-width="0.8"/>
<line x1="283.0" y1="254.04" x2="285.0" y2="254.04" stroke="#444" stroke-width="0.8"/>
<line x1="283.0" y1="252.46" x2="285.0" y2="252.46" stroke="#444" stroke-width="0.8"/>
<line x1="283.0" y1="251.05" x2="285.0" y2="251.05" stroke="#444" stroke-width="0.8"/>
<line x1="283.0" y1="304.60" x2="285.0" y2="304.60" stroke="#444" stroke-width="0.8"/>
<line x1="283.0" y1="296.35" x2="285.0" y2="296.35" stroke="#444" stroke-width="0.8"/>
<line x1="283.0" y1="291.53" x2="285.0" y2="291.53" stroke="#444" stroke-width="0.8"/>
<line x1="283.0" y1="288.10" x2="285.0" y2="288.10" stroke="#444" stroke-width="0.8"/>
<line x1="283.0" y1="285.45" x2="285.0" y2="285.45" stroke="#444" stroke-width="0.8"/>
<line x1="283.0" y1="283.28" x2="285.0" y2="283.28" stroke="#444" stroke-width="0.8"/>
<line x1="283.0" y1="281.44" x2="285.0" y2="281.44" stroke="#444" stroke-width="0.8"/>
<line x1="283.0" y1="279.86" x2="285.0" y2="279.86" stroke="#444" stroke-width="0.8"/>
<line x1="283.0" y1="278.45" x2="285.0" y2="278.45" stroke="#444" stroke-width="0.8"/>
<line x1="283.0" y1="332.00" x2="285.0" y2="332.00" stroke="#444" stroke-width="0.8"/>
<line x1="283.0" y1="323.75" x2="285.0" y2="323.75" stroke="#444" stroke-width="0.8"/>
<line x1="283.0" y1="318.93" x2="285.0" y2="318.93" stroke="#444" stroke-width="0.8"/>
<line x1="283.0" y1="315.50" x2="285.0" y2="315.50" stroke="#444" stroke-width="0.8"/>
<line x1="283.0" y1="312.85" x2="285.0" y2="312.85" stroke="#444" stroke-width="0.8"/>
<line x1="283.0" y1="310.68" x2="285.0" y2="310.68" stroke="#444" stroke-width="0.8"/>
<line x1="283.0" y1="308.84" x2="285.0" y2="308.84" stroke="#444" stroke-width="0.8"/>
<line x1="283.0" y1="307.26" x2="285.0" y2="307.26" stroke="#444" stroke-width="0.8"/>
<line x1="283.0" y1="305.85" x2="285.0" y2="305.85" stroke="#444" stroke-width="0.8"/>
<line x1="283.0" y1="351.15" x2="285.0" y2="351.15" stroke="#444" stroke-width="0.8"/>
<line x1="283.0" y1="346.33" x2="285.0" y2="346.33" stroke="#444" stroke-width="0.8"/>
<line x1="283.0" y1="342.90" x2="285.0" y2="342.90" stroke="#444" stroke-width="0.8"/>
<line x1="283.0" y1="340.25" x2="285.0" y2="340.25" stroke="#444" stroke-width="0.8"/>
<line x1="283.0" y1="338.08" x2="285.0" y2="338.08" stroke="#444" stroke-width="0.8"/>
<line x1="283.0" y1="336.24" x2="285.0" y2="336.24" stroke="#444" stroke-width="0.8"/>
<line x1="283.0" y1="334.66" x2="285.0" y2="334.66" stroke="#444" stroke-width="0.8"/>
<line x1="283.0" y1="333.25" x2="285.0" y2="333.25" stroke="#444" stroke-width="0.8"/>
<text x="280.5" y="279.4" font-family="'Liberation Sans', sans-serif" font-size="6.3" font-weight="normal" fill="#66666e" text-anchor="end" textLength="12" lengthAdjust="spacingAndGlyphs">10^0</text>
<text x="280.5" y="306.8" font-family="'Liberation Sans', sans-serif" font-size="6.3" font-weight="normal" fill="#66666e" text-anchor="end" textLength="12" lengthAdjust="spacingAndGlyphs">10^-1</text>
<text x="280.5" y="334.2" font-family="'Liberation Sans', sans-serif" font-size="6.3" font-weight="normal" fill="#66666e" text-anchor="end" textLength="12" lengthAdjust="spacingAndGlyphs">10^-2</text>
<text x="285.6" y="366.9" font-family="'Liberation Sans', sans-serif" font-size="6.3" font-weight="normal" fill="#5c5c64" text-anchor="middle" >0</text>
<text x="294.9" y="366.9" font-family="'Liberation Sans', sans-serif" font-size="6.3" font-weight="normal" fill="#5c5c64" text-anchor="middle" >2</text>
<text x="304.1" y="366.9" font-family="'Liberation Sans', sans-serif" font-size="6.3" font-weight="normal" fill="#5c5c64" text-anchor="middle" >4</text>
<text x="313.4" y="366.9" font-family="'Liberation Sans', sans-serif" font-size="6.3" font-weight="normal" fill="#5c5c64" text-anchor="middle" >6</text>
<text x="322.6" y="366.9" font-family="'Liberation Sans', sans-serif" font-size="6.3" font-weight="normal" fill="#5c5c64" text-anchor="middle" >8</text>
<text x="331.9" y="366.9" font-family="'Liberation Sans', sans-serif" font-size="6.3" font-weight="normal" fill="#5c5c64" text-anchor="middle" >10</text>
<text x="341.2" y="366.9" font-family="'Liberation Sans', sans-serif" font-size="6.3" font-weight="normal" fill="#5c5c64" text-anchor="middle" >12</text>
<text x="350.4" y="366.9" font-family="'Liberation Sans', sans-serif" font-size="6.3" font-weight="normal" fill="#5c5c64" text-anchor="middle" >14</text>
<text x="359.7" y="366.9" font-family="'Liberation Sans', sans-serif" font-size="6.3" font-weight="normal" fill="#5c5c64" text-anchor="middle" >16</text>
<text x="368.9" y="366.9" font-family="'Liberation Sans', sans-serif" font-size="6.3" font-weight="normal" fill="#5c5c64" text-anchor="middle" >18</text>
<text x="378.2" y="366.9" font-family="'Liberation Sans', sans-serif" font-size="6.3" font-weight="normal" fill="#5c5c64" text-anchor="middle" >20</text>
<text x="387.5" y="366.9" font-family="'Liberation Sans', sans-serif" font-size="6.3" font-weight="normal" fill="#5c5c64" text-anchor="middle" >22</text>
<text x="396.7" y="366.9" font-family="'Liberation Sans', sans-serif" font-size="6.3" font-weight="normal" fill="#5c5c64" text-anchor="middle" >24</text>
<text x="406.0" y="366.9" font-family="'Liberation Sans', sans-serif" font-size="6.3" font-weight="normal" fill="#5c5c64" text-anchor="middle" >26</text>
<text x="415.2" y="366.9" font-family="'Liberation Sans', sans-serif" font-size="6.3" font-weight="normal" fill="#5c5c64" text-anchor="middle" >28</text>
<text x="424.5" y="366.9" font-family="'Liberation Sans', sans-serif" font-size="6.3" font-weight="normal" fill="#5c5c64" text-anchor="middle" >30</text>
<text x="433.8" y="366.9" font-family="'Liberation Sans', sans-serif" font-size="6.3" font-weight="normal" fill="#5c5c64" text-anchor="middle" >32</text>
<text x="443.0" y="366.9" font-family="'Liberation Sans', sans-serif" font-size="6.3" font-weight="normal" fill="#5c5c64" text-anchor="middle" >34</text>
<text x="452.3" y="366.9" font-family="'Liberation Sans', sans-serif" font-size="6.3" font-weight="normal" fill="#5c5c64" text-anchor="middle" >36</text>
<text x="461.5" y="366.9" font-family="'Liberation Sans', sans-serif" font-size="6.3" font-weight="normal" fill="#5c5c64" text-anchor="middle" >38</text>
<text x="470.8" y="366.9" font-family="'Liberation Sans', sans-serif" font-size="6.3" font-weight="normal" fill="#5c5c64" text-anchor="middle" >40</text>
<line x1="285.60" y1="354.8" x2="285.60" y2="357.6" stroke="#333" stroke-width="0.9"/>
<line x1="290.23" y1="354.8" x2="290.23" y2="357.6" stroke="#333" stroke-width="0.9"/>
<line x1="294.86" y1="354.8" x2="294.86" y2="357.6" stroke="#333" stroke-width="0.9"/>
<line x1="299.49" y1="354.8" x2="299.49" y2="357.6" stroke="#333" stroke-width="0.9"/>
<line x1="304.12" y1="354.8" x2="304.12" y2="357.6" stroke="#333" stroke-width="0.9"/>
<line x1="308.75" y1="354.8" x2="308.75" y2="357.6" stroke="#333" stroke-width="0.9"/>
<line x1="313.38" y1="354.8" x2="313.38" y2="357.6" stroke="#333" stroke-width="0.9"/>
<line x1="318.01" y1="354.8" x2="318.01" y2="357.6" stroke="#333" stroke-width="0.9"/>
<line x1="322.64" y1="354.8" x2="322.64" y2="357.6" stroke="#333" stroke-width="0.9"/>
<line x1="327.27" y1="354.8" x2="327.27" y2="357.6" stroke="#333" stroke-width="0.9"/>
<line x1="331.90" y1="354.8" x2="331.90" y2="357.6" stroke="#333" stroke-width="0.9"/>
<line x1="336.53" y1="354.8" x2="336.53" y2="357.6" stroke="#333" stroke-width="0.9"/>
<line x1="341.16" y1="354.8" x2="341.16" y2="357.6" stroke="#333" stroke-width="0.9"/>
<line x1="345.79" y1="354.8" x2="345.79" y2="357.6" stroke="#333" stroke-width="0.9"/>
<line x1="350.42" y1="354.8" x2="350.42" y2="357.6" stroke="#333" stroke-width="0.9"/>
<line x1="355.05" y1="354.8" x2="355.05" y2="357.6" stroke="#333" stroke-width="0.9"/>
<line x1="359.68" y1="354.8" x2="359.68" y2="357.6" stroke="#333" stroke-width="0.9"/>
<line x1="364.31" y1="354.8" x2="364.31" y2="357.6" stroke="#333" stroke-width="0.9"/>
<line x1="368.94" y1="354.8" x2="368.94" y2="357.6" stroke="#333" stroke-width="0.9"/>
<line x1="373.57" y1="354.8" x2="373.57" y2="357.6" stroke="#333" stroke-width="0.9"/>
<line x1="378.20" y1="354.8" x2="378.20" y2="357.6" stroke="#333" stroke-width="0.9"/>
<line x1="382.83" y1="354.8" x2="382.83" y2="357.6" stroke="#333" stroke-width="0.9"/>
<line x1="387.46" y1="354.8" x2="387.46" y2="357.6" stroke="#333" stroke-width="0.9"/>
<line x1="392.09" y1="354.8" x2="392.09" y2="357.6" stroke="#333" stroke-width="0.9"/>
<line x1="396.72" y1="354.8" x2="396.72" y2="357.6" stroke="#333" stroke-width="0.9"/>
<line x1="401.35" y1="354.8" x2="401.35" y2="357.6" stroke="#333" stroke-width="0.9"/>
<line x1="405.98" y1="354.8" x2="405.98" y2="357.6" stroke="#333" stroke-width="0.9"/>
<line x1="410.61" y1="354.8" x2="410.61" y2="357.6" stroke="#333" stroke-width="0.9"/>
<line x1="415.24" y1="354.8" x2="415.24" y2="357.6" stroke="#333" stroke-width="0.9"/>
<line x1="419.87" y1="354.8" x2="419.87" y2="357.6" stroke="#333" stroke-width="0.9"/>
<line x1="424.50" y1="354.8" x2="424.50" y2="357.6" stroke="#333" stroke-width="0.9"/>
<line x1="429.13" y1="354.8" x2="429.13" y2="357.6" stroke="#333" stroke-width="0.9"/>
<line x1="433.76" y1="354.8" x2="433.76" y2="357.6" stroke="#333" stroke-width="0.9"/>
<line x1="438.39" y1="354.8" x2="438.39" y2="357.6" stroke="#333" stroke-width="0.9"/>
<line x1="443.02" y1="354.8" x2="443.02" y2="357.6" stroke="#333" stroke-width="0.9"/>
<line x1="447.65" y1="354.8" x2="447.65" y2="357.6" stroke="#333" stroke-width="0.9"/>
<line x1="452.28" y1="354.8" x2="452.28" y2="357.6" stroke="#333" stroke-width="0.9"/>
<line x1="456.91" y1="354.8" x2="456.91" y2="357.6" stroke="#333" stroke-width="0.9"/>
<line x1="461.54" y1="354.8" x2="461.54" y2="357.6" stroke="#333" stroke-width="0.9"/>
<line x1="466.17" y1="354.8" x2="466.17" y2="357.6" stroke="#333" stroke-width="0.9"/>
<line x1="470.80" y1="354.8" x2="470.80" y2="357.6" stroke="#333" stroke-width="0.9"/>
<line x1="35" y1="249.5" x2="258.5" y2="249.5" stroke="#111" stroke-width="2"/>
<line x1="262" y1="249.5" x2="480.5" y2="249.5" stroke="#111" stroke-width="2"/>
<svg x="58" y="139.5" width="191" height="109" overflow="hidden"><g transform="translate(-58,-139.5)">
<rect x="86.3" y="229.7" width="3" height="3" rx="0.7" fill="#3a9a3a"/>
<rect x="86.3" y="239.7" width="3" height="3" rx="0.7" fill="#d03030"/>
<rect x="86.3" y="242.0" width="3" height="3" rx="0.7" fill="#d03030"/>
<rect x="81.5" y="240.7" width="3" height="3" rx="0.7" fill="#2a8a7a"/>
<rect x="91.1" y="235.9" width="3" height="3" rx="0.7" fill="#2a4aa0"/>
<rect x="91.1" y="244.5" width="3" height="3" rx="0.7" fill="#3a9a3a"/>
<rect x="95.9" y="240.7" width="3" height="3" rx="0.7" fill="#d03030"/>
<rect x="95.9" y="244.5" width="3" height="3" rx="0.7" fill="#3a9a3a"/>
<rect x="100.7" y="234.9" width="3" height="3" rx="0.7" fill="#2a4aa0"/>
<rect x="100.7" y="244.5" width="3" height="3" rx="0.7" fill="#111"/>
<rect x="100.7" y="241.7" width="3" height="3" rx="0.7" fill="#d03030"/>
<rect x="105.5" y="234.9" width="3" height="3" rx="0.7" fill="#e0d040"/>
<rect x="105.5" y="244.5" width="3" height="3" rx="0.7" fill="#3a9a3a"/>
<rect x="115.2" y="240.7" width="3" height="3" rx="0.7" fill="#e0d040"/>
<rect x="115.2" y="244.5" width="3" height="3" rx="0.7" fill="#2a8a7a"/>
<rect x="120.0" y="240.7" width="3" height="3" rx="0.7" fill="#2a4aa0"/>
<rect x="120.0" y="244.5" width="3" height="3" rx="0.7" fill="#111"/>
<rect x="124.8" y="235.9" width="3" height="3" rx="0.7" fill="#d03030"/>
<rect x="124.8" y="239.7" width="3" height="3" rx="0.7" fill="#3a9a3a"/>
<rect x="133.4" y="243.2" width="3" height="3" rx="0.7" fill="#111"/>
<rect x="110.3" y="243.5" width="3" height="3" rx="0.7" fill="#2a4aa0"/>
<rect x="129.5" y="238.5" width="3" height="3" rx="0.7" fill="#e0d040"/>
<rect x="81.5" y="244.5" width="3" height="3" rx="0.7" fill="#2a4aa0"/>
<path d="M139.7,245.7 L144.5,237.0 L149.2,227.4 L154.0,214.6 L158.8,208.2 L163.5,204.3 L168.3,202.0 L173.0,199.5 L177.8,197.3 L182.6,195.8 L187.3,194.6 L192.1,193.7 L196.8,192.9 L201.6,192.2 L206.4,191.4 L211.1,190.5 L215.9,189.5 L220.6,188.9 L225.4,188.5 L230.2,188.2 L234.9,188.0 L239.7,187.6 L244.4,187.4" fill="none" stroke="#1a1a60" stroke-width="0.9"/>
<circle cx="139.7" cy="245.7" r="1.4" fill="#111"/>
<circle cx="144.5" cy="237.0" r="1.4" fill="#1a1a80"/>
<circle cx="149.2" cy="227.4" r="1.4" fill="#111"/>
<circle cx="154.0" cy="214.6" r="1.4" fill="#1a1a80"/>
<circle cx="158.8" cy="208.2" r="1.4" fill="#111"/>
<circle cx="163.5" cy="204.3" r="1.4" fill="#1a1a80"/>
<circle cx="168.3" cy="202.0" r="1.4" fill="#111"/>
<circle cx="173.0" cy="199.5" r="1.4" fill="#1a1a80"/>
<circle cx="177.8" cy="197.3" r="1.4" fill="#111"/>
<circle cx="182.6" cy="195.8" r="1.4" fill="#1a1a80"/>
<circle cx="187.3" cy="194.6" r="1.4" fill="#111"/>
<circle cx="192.1" cy="193.7" r="1.4" fill="#1a1a80"/>
<circle cx="196.8" cy="192.9" r="1.4" fill="#111"/>
<circle cx="201.6" cy="192.2" r="1.4" fill="#1a1a80"/>
<circle cx="206.4" cy="191.4" r="1.4" fill="#111"/>
<circle cx="211.1" cy="190.5" r="1.4" fill="#1a1a80"/>
<circle cx="215.9" cy="189.5" r="1.4" fill="#111"/>
<circle cx="220.6" cy="188.9" r="1.4" fill="#1a1a80"/>
<circle cx="225.4" cy="188.5" r="1.4" fill="#111"/>
<circle cx="230.2" cy="188.2" r="1.4" fill="#1a1a80"/>
<circle cx="234.9" cy="188.0" r="1.4" fill="#111"/>
<circle cx="239.7" cy="187.6" r="1.4" fill="#1a1a80"/>
<circle cx="244.4" cy="187.4" r="1.4" fill="#111"/>
<path d="M144.5,234.9 L149.2,224.4 L154.0,213.0 L158.8,206.4 L163.5,202.7 L168.3,199.8 L173.0,197.0 L177.8,195.1 L182.6,193.2 L187.3,191.7 L192.1,190.7 L196.8,189.7 L201.6,189.1 L206.4,188.3 L211.1,187.4 L215.9,186.6 L220.6,186.0 L225.4,185.6 L230.2,185.1 L234.9,184.6 L239.7,184.2 L244.4,183.9" fill="none" stroke="#3a9a3a" stroke-width="0.9"/>
<circle cx="144.5" cy="234.9" r="1.4" fill="#3aa03a"/>
<circle cx="149.2" cy="224.4" r="1.4" fill="#9ad040"/>
<circle cx="154.0" cy="213.0" r="1.4" fill="#3aa03a"/>
<circle cx="158.8" cy="206.4" r="1.4" fill="#9ad040"/>
<circle cx="163.5" cy="202.7" r="1.4" fill="#3aa03a"/>
<circle cx="168.3" cy="199.8" r="1.4" fill="#9ad040"/>
<circle cx="173.0" cy="197.0" r="1.4" fill="#3aa03a"/>
<circle cx="177.8" cy="195.1" r="1.4" fill="#9ad040"/>
<circle cx="182.6" cy="193.2" r="1.4" fill="#3aa03a"/>
<circle cx="187.3" cy="191.7" r="1.4" fill="#9ad040"/>
<circle cx="192.1" cy="190.7" r="1.4" fill="#3aa03a"/>
<circle cx="196.8" cy="189.7" r="1.4" fill="#9ad040"/>
<circle cx="201.6" cy="189.1" r="1.4" fill="#3aa03a"/>
<circle cx="206.4" cy="188.3" r="1.4" fill="#9ad040"/>
<circle cx="211.1" cy="187.4" r="1.4" fill="#3aa03a"/>
<circle cx="215.9" cy="186.6" r="1.4" fill="#9ad040"/>
<circle cx="220.6" cy="186.0" r="1.4" fill="#3aa03a"/>
<circle cx="225.4" cy="185.6" r="1.4" fill="#9ad040"/>
<circle cx="230.2" cy="185.1" r="1.4" fill="#3aa03a"/>
<circle cx="234.9" cy="184.6" r="1.4" fill="#9ad040"/>
<circle cx="239.7" cy="184.2" r="1.4" fill="#3aa03a"/>
<circle cx="244.4" cy="183.9" r="1.4" fill="#9ad040"/>
<path d="M168.3,231.2 L173.0,214.9 L177.8,201.4 L182.6,192.2 L187.3,185.4 L192.1,177.9 L196.8,171.2 L201.6,165.5 L206.4,160.6 L211.1,156.4 L215.9,153.9 L220.6,152.4 L225.4,151.2 L230.2,150.4 L234.9,149.9 L239.7,149.4 L244.4,149.1" fill="none" stroke="#d02020" stroke-width="0.9"/>
<circle cx="168.3" cy="231.2" r="1.4" fill="#d02020"/>
<circle cx="173.0" cy="214.9" r="1.4" fill="#e04030"/>
<circle cx="177.8" cy="201.4" r="1.4" fill="#d02020"/>
<circle cx="182.6" cy="192.2" r="1.4" fill="#e04030"/>
<circle cx="187.3" cy="185.4" r="1.4" fill="#d02020"/>
<circle cx="192.1" cy="177.9" r="1.4" fill="#e04030"/>
<circle cx="196.8" cy="171.2" r="1.4" fill="#d02020"/>
<circle cx="201.6" cy="165.5" r="1.4" fill="#e04030"/>
<circle cx="206.4" cy="160.6" r="1.4" fill="#d02020"/>
<circle cx="211.1" cy="156.4" r="1.4" fill="#e04030"/>
<circle cx="215.9" cy="153.9" r="1.4" fill="#d02020"/>
<circle cx="220.6" cy="152.4" r="1.4" fill="#e04030"/>
<circle cx="225.4" cy="151.2" r="1.4" fill="#d02020"/>
<circle cx="230.2" cy="150.4" r="1.4" fill="#e04030"/>
<circle cx="234.9" cy="149.9" r="1.4" fill="#d02020"/>
<circle cx="239.7" cy="149.4" r="1.4" fill="#e04030"/>
<circle cx="244.4" cy="149.1" r="1.4" fill="#d02020"/>
<path d="M192.1,240.1 L196.8,217.3 L201.6,206.7 L206.4,197.9 L211.1,185.6 L215.9,178.3 L220.6,171.2 L225.4,165.1 L230.2,160.9 L234.9,157.9 L239.7,155.3 L244.4,153.7" fill="none" stroke="#3a6ab0" stroke-width="0.9"/>
<circle cx="192.1" cy="240.1" r="1.4" fill="#e0d040"/>
<circle cx="196.8" cy="217.3" r="1.4" fill="#3a6ab0"/>
<circle cx="201.6" cy="206.7" r="1.4" fill="#3a6ab0"/>
<circle cx="206.4" cy="197.9" r="1.4" fill="#e0d040"/>
<circle cx="211.1" cy="185.6" r="1.4" fill="#3a6ab0"/>
<circle cx="215.9" cy="178.3" r="1.4" fill="#3a6ab0"/>
<circle cx="220.6" cy="171.2" r="1.4" fill="#e0d040"/>
<circle cx="225.4" cy="165.1" r="1.4" fill="#3a6ab0"/>
<circle cx="230.2" cy="160.9" r="1.4" fill="#3a6ab0"/>
<circle cx="234.9" cy="157.9" r="1.4" fill="#e0d040"/>
<circle cx="239.7" cy="155.3" r="1.4" fill="#3a6ab0"/>
<circle cx="244.4" cy="153.7" r="1.4" fill="#3a6ab0"/>
</g></svg>
<line x1="58" y1="215.5" x2="249" y2="215.5" stroke="#111" stroke-width="1.1"/>
<line x1="58.5" y1="213.0" x2="58.5" y2="218.0" stroke="#111" stroke-width="1.2"/>
<line x1="248.5" y1="213.0" x2="248.5" y2="218.0" stroke="#111" stroke-width="1.2"/>
<text x="63.0" y="153.2" font-family="'Liberation Serif', serif" font-size="8.5" font-weight="bold" fill="#000" stroke="#000" stroke-width="0.2" textLength="35.2" lengthAdjust="spacingAndGlyphs">Cyclin D1</text>
<text x="144.6" y="155.0" font-family="'Liberation Serif', serif" font-size="8.5" font-weight="bold" fill="#000" stroke="#000" stroke-width="0.2" textLength="29.5" lengthAdjust="spacingAndGlyphs">Baseline</text>
<line x1="177.0" y1="152.2" x2="215.0" y2="152.2" stroke="#111" stroke-width="1.1"/>
<path d="M218.0,152.2 L213.5,150.0 L213.5,154.4 Z" fill="#111"/>
<text x="135.9" y="171.9" font-family="'Liberation Serif', serif" font-size="8.5" font-weight="bold" fill="#000" stroke="#000" stroke-width="0.2" textLength="20.4" lengthAdjust="spacingAndGlyphs">24hrs</text>
<line x1="157.0" y1="169.8" x2="214.0" y2="169.8" stroke="#111" stroke-width="1.1"/>
<path d="M217.0,169.8 L212.5,167.6 L212.5,172.0 Z" fill="#111"/>
<text x="71.3" y="201.6" font-family="'Liberation Serif', serif" font-size="8.4" font-weight="bold" fill="#000" stroke="#000" stroke-width="0.2" textLength="76.8" lengthAdjust="spacingAndGlyphs">β2M (Baseline/24hrs)</text>
<line x1="148.0" y1="199.4" x2="160.7" y2="199.4" stroke="#111" stroke-width="1.1"/>
<path d="M163.7,199.4 L159.2,197.2 L159.2,201.6 Z" fill="#111"/>
<svg x="58" y="251" width="191" height="102.2" overflow="hidden"><g transform="translate(-58,-251)">
<rect x="77.3" y="336.0" width="3" height="3" rx="0.7" fill="#3a9a3a"/>
<rect x="77.3" y="347.5" width="3" height="3" rx="0.7" fill="#3a9a3a"/>
<rect x="86.3" y="341.8" width="3" height="3" rx="0.7" fill="#3a9a3a"/>
<rect x="86.3" y="349.5" width="3" height="3" rx="0.7" fill="#e0d040"/>
<rect x="91.1" y="335.0" width="3" height="3" rx="0.7" fill="#3a9a3a"/>
<rect x="91.1" y="347.5" width="3" height="3" rx="0.7" fill="#2a4aa0"/>
<rect x="95.9" y="337.0" width="3" height="3" rx="0.7" fill="#d03030"/>
<rect x="95.9" y="343.7" width="3" height="3" rx="0.7" fill="#3a9a3a"/>
<rect x="100.7" y="335.0" width="3" height="3" rx="0.7" fill="#d03030"/>
<rect x="100.7" y="342.7" width="3" height="3" rx="0.7" fill="#d03030"/>
<rect x="100.7" y="345.5" width="3" height="3" rx="0.7" fill="#e0d040"/>
<rect x="105.5" y="331.2" width="3" height="3" rx="0.7" fill="#e04070"/>
<rect x="105.5" y="342.7" width="3" height="3" rx="0.7" fill="#3a9a3a"/>
<rect x="115.2" y="337.9" width="3" height="3" rx="0.7" fill="#3a9a3a"/>
<rect x="120.0" y="337.9" width="3" height="3" rx="0.7" fill="#d03030"/>
<rect x="120.0" y="340.8" width="3" height="3" rx="0.7" fill="#d03030"/>
<rect x="128.6" y="335.0" width="3" height="3" rx="0.7" fill="#2a8a7a"/>
<rect x="133.4" y="349.5" width="3" height="3" rx="0.7" fill="#d03030"/>
<rect x="82.0" y="338.5" width="3" height="3" rx="0.7" fill="#2a4aa0"/>
<rect x="110.3" y="345.5" width="3" height="3" rx="0.7" fill="#e0d040"/>
<rect x="124.8" y="341.5" width="3" height="3" rx="0.7" fill="#3a9a3a"/>
<path d="M73.1,345.4 L77.8,342.0 L82.6,345.1 L87.4,346.8 L92.1,348.6 L96.9,343.6 L101.6,344.5 L106.4,345.8 L111.2,341.5 L115.9,347.2 L120.7,349.0 L125.4,351.4 L130.2,348.8 L135.0,339.6 L139.7,332.3 L144.5,327.1 L149.2,321.3 L154.0,314.8 L158.8,311.3 L163.5,309.2 L168.3,307.0 L173.0,305.5 L177.8,303.9 L182.6,303.0 L187.3,301.7 L192.1,300.5 L196.8,298.9 L201.6,297.9 L206.4,297.1 L211.1,296.4 L215.9,295.6 L220.6,295.0 L225.4,294.5 L230.2,294.1 L234.9,293.7 L239.7,293.3 L244.4,293.0" fill="none" stroke="#1a1a60" stroke-width="0.9"/>
<circle cx="73.1" cy="345.4" r="1.4" fill="#111"/>
<circle cx="77.8" cy="342.0" r="1.4" fill="#1a1a80"/>
<circle cx="82.6" cy="345.1" r="1.4" fill="#111"/>
<circle cx="87.4" cy="346.8" r="1.4" fill="#1a1a80"/>
<circle cx="92.1" cy="348.6" r="1.4" fill="#111"/>
<circle cx="96.9" cy="343.6" r="1.4" fill="#1a1a80"/>
<circle cx="101.6" cy="344.5" r="1.4" fill="#111"/>
<circle cx="106.4" cy="345.8" r="1.4" fill="#1a1a80"/>
<circle cx="111.2" cy="341.5" r="1.4" fill="#111"/>
<circle cx="115.9" cy="347.2" r="1.4" fill="#1a1a80"/>
<circle cx="120.7" cy="349.0" r="1.4" fill="#111"/>
<circle cx="125.4" cy="351.4" r="1.4" fill="#1a1a80"/>
<circle cx="130.2" cy="348.8" r="1.4" fill="#111"/>
<circle cx="135.0" cy="339.6" r="1.4" fill="#1a1a80"/>
<circle cx="139.7" cy="332.3" r="1.4" fill="#111"/>
<circle cx="144.5" cy="327.1" r="1.4" fill="#1a1a80"/>
<circle cx="149.2" cy="321.3" r="1.4" fill="#111"/>
<circle cx="154.0" cy="314.8" r="1.4" fill="#1a1a80"/>
<circle cx="158.8" cy="311.3" r="1.4" fill="#111"/>
<circle cx="163.5" cy="309.2" r="1.4" fill="#1a1a80"/>
<circle cx="168.3" cy="307.0" r="1.4" fill="#111"/>
<circle cx="173.0" cy="305.5" r="1.4" fill="#1a1a80"/>
<circle cx="177.8" cy="303.9" r="1.4" fill="#111"/>
<circle cx="182.6" cy="303.0" r="1.4" fill="#1a1a80"/>
<circle cx="187.3" cy="301.7" r="1.4" fill="#111"/>
<circle cx="192.1" cy="300.5" r="1.4" fill="#1a1a80"/>
<circle cx="196.8" cy="298.9" r="1.4" fill="#111"/>
<circle cx="201.6" cy="297.9" r="1.4" fill="#1a1a80"/>
<circle cx="206.4" cy="297.1" r="1.4" fill="#111"/>
<circle cx="211.1" cy="296.4" r="1.4" fill="#1a1a80"/>
<circle cx="215.9" cy="295.6" r="1.4" fill="#111"/>
<circle cx="220.6" cy="295.0" r="1.4" fill="#1a1a80"/>
<circle cx="225.4" cy="294.5" r="1.4" fill="#111"/>
<circle cx="230.2" cy="294.1" r="1.4" fill="#1a1a80"/>
<circle cx="234.9" cy="293.7" r="1.4" fill="#111"/>
<circle cx="239.7" cy="293.3" r="1.4" fill="#1a1a80"/>
<circle cx="244.4" cy="293.0" r="1.4" fill="#111"/>
<path d="M135.0,339.6 L139.7,333.4 L144.5,326.3 L149.2,319.1 L154.0,311.9 L158.8,307.4 L163.5,305.2 L168.3,303.0 L173.0,301.5 L177.8,300.2 L182.6,299.0 L187.3,297.9 L192.1,296.8 L196.8,295.5 L201.6,294.4 L206.4,293.5 L211.1,292.8 L215.9,292.0 L220.6,291.5 L225.4,291.1 L230.2,290.7 L234.9,290.4 L239.7,290.1 L244.4,289.8" fill="none" stroke="#3a9a3a" stroke-width="0.9"/>
<circle cx="135.0" cy="339.6" r="1.4" fill="#3aa03a"/>
<circle cx="139.7" cy="333.4" r="1.4" fill="#9ad040"/>
<circle cx="144.5" cy="326.3" r="1.4" fill="#3aa03a"/>
<circle cx="149.2" cy="319.1" r="1.4" fill="#9ad040"/>
<circle cx="154.0" cy="311.9" r="1.4" fill="#3aa03a"/>
<circle cx="158.8" cy="307.4" r="1.4" fill="#9ad040"/>
<circle cx="163.5" cy="305.2" r="1.4" fill="#3aa03a"/>
<circle cx="168.3" cy="303.0" r="1.4" fill="#9ad040"/>
<circle cx="173.0" cy="301.5" r="1.4" fill="#3aa03a"/>
<circle cx="177.8" cy="300.2" r="1.4" fill="#9ad040"/>
<circle cx="182.6" cy="299.0" r="1.4" fill="#3aa03a"/>
<circle cx="187.3" cy="297.9" r="1.4" fill="#9ad040"/>
<circle cx="192.1" cy="296.8" r="1.4" fill="#3aa03a"/>
<circle cx="196.8" cy="295.5" r="1.4" fill="#9ad040"/>
<circle cx="201.6" cy="294.4" r="1.4" fill="#3aa03a"/>
<circle cx="206.4" cy="293.5" r="1.4" fill="#9ad040"/>
<circle cx="211.1" cy="292.8" r="1.4" fill="#3aa03a"/>
<circle cx="215.9" cy="292.0" r="1.4" fill="#9ad040"/>
<circle cx="220.6" cy="291.5" r="1.4" fill="#3aa03a"/>
<circle cx="225.4" cy="291.1" r="1.4" fill="#9ad040"/>
<circle cx="230.2" cy="290.7" r="1.4" fill="#3aa03a"/>
<circle cx="234.9" cy="290.4" r="1.4" fill="#9ad040"/>
<circle cx="239.7" cy="290.1" r="1.4" fill="#3aa03a"/>
<circle cx="244.4" cy="289.8" r="1.4" fill="#9ad040"/>
<path d="M163.5,328.7 L168.3,320.9 L173.0,309.9 L177.8,300.9 L182.6,292.9 L187.3,284.0 L192.1,276.2 L196.8,270.7 L201.6,266.6 L206.4,264.1 L211.1,262.6 L215.9,261.8 L220.6,261.4 L225.4,261.1 L230.2,260.9 L234.9,260.8 L239.7,260.7 L244.4,260.6" fill="none" stroke="#3a6ab0" stroke-width="0.9"/>
<circle cx="163.5" cy="328.7" r="1.4" fill="#e0d040"/>
<circle cx="168.3" cy="320.9" r="1.4" fill="#3a6ab0"/>
<circle cx="173.0" cy="309.9" r="1.4" fill="#3a6ab0"/>
<circle cx="177.8" cy="300.9" r="1.4" fill="#e0d040"/>
<circle cx="182.6" cy="292.9" r="1.4" fill="#3a6ab0"/>
<circle cx="187.3" cy="284.0" r="1.4" fill="#3a6ab0"/>
<circle cx="192.1" cy="276.2" r="1.4" fill="#e0d040"/>
<circle cx="196.8" cy="270.7" r="1.4" fill="#3a6ab0"/>
<circle cx="201.6" cy="266.6" r="1.4" fill="#3a6ab0"/>
<circle cx="206.4" cy="264.1" r="1.4" fill="#e0d040"/>
<circle cx="211.1" cy="262.6" r="1.4" fill="#3a6ab0"/>
<circle cx="215.9" cy="261.8" r="1.4" fill="#3a6ab0"/>
<circle cx="220.6" cy="261.4" r="1.4" fill="#e0d040"/>
<circle cx="225.4" cy="261.1" r="1.4" fill="#3a6ab0"/>
<circle cx="230.2" cy="260.9" r="1.4" fill="#3a6ab0"/>
<circle cx="234.9" cy="260.8" r="1.4" fill="#e0d040"/>
<circle cx="239.7" cy="260.7" r="1.4" fill="#3a6ab0"/>
<circle cx="244.4" cy="260.6" r="1.4" fill="#3a6ab0"/>
<path d="M149.2,344.0 L154.0,332.4 L158.8,321.3 L163.5,311.0 L168.3,299.9 L173.0,290.9 L177.8,282.2 L182.6,276.1 L187.3,270.8 L192.1,267.0 L196.8,264.7 L201.6,263.3 L206.4,262.3 L211.1,261.7 L215.9,261.3 L220.6,261.1 L225.4,261.0 L230.2,260.8 L234.9,260.7 L239.7,260.6 L244.4,260.6" fill="none" stroke="#d02020" stroke-width="0.9"/>
<circle cx="149.2" cy="344.0" r="1.4" fill="#d02020"/>
<circle cx="154.0" cy="332.4" r="1.4" fill="#e04030"/>
<circle cx="158.8" cy="321.3" r="1.4" fill="#d02020"/>
<circle cx="163.5" cy="311.0" r="1.4" fill="#e04030"/>
<circle cx="168.3" cy="299.9" r="1.4" fill="#d02020"/>
<circle cx="173.0" cy="290.9" r="1.4" fill="#e04030"/>
<circle cx="177.8" cy="282.2" r="1.4" fill="#d02020"/>
<circle cx="182.6" cy="276.1" r="1.4" fill="#e04030"/>
<circle cx="187.3" cy="270.8" r="1.4" fill="#d02020"/>
<circle cx="192.1" cy="267.0" r="1.4" fill="#e04030"/>
<circle cx="196.8" cy="264.7" r="1.4" fill="#d02020"/>
<circle cx="201.6" cy="263.3" r="1.4" fill="#e04030"/>
<circle cx="206.4" cy="262.3" r="1.4" fill="#d02020"/>
<circle cx="211.1" cy="261.7" r="1.4" fill="#e04030"/>
<circle cx="215.9" cy="261.3" r="1.4" fill="#d02020"/>
<circle cx="220.6" cy="261.1" r="1.4" fill="#e04030"/>
<circle cx="225.4" cy="261.0" r="1.4" fill="#d02020"/>
<circle cx="230.2" cy="260.8" r="1.4" fill="#e04030"/>
<circle cx="234.9" cy="260.7" r="1.4" fill="#d02020"/>
<circle cx="239.7" cy="260.6" r="1.4" fill="#e04030"/>
<circle cx="244.4" cy="260.6" r="1.4" fill="#d02020"/>
</g></svg>
<line x1="58.5" y1="314" x2="58.5" y2="319" stroke="#111" stroke-width="1.2"/>
<line x1="248.5" y1="314" x2="248.5" y2="319" stroke="#111" stroke-width="1.2"/>
<text x="67.1" y="264.8" font-family="'Liberation Serif', serif" font-size="8.5" font-weight="bold" fill="#000" stroke="#000" stroke-width="0.2" textLength="20.2" lengthAdjust="spacingAndGlyphs">Glut1</text>
<text x="140.3" y="269.1" font-family="'Liberation Serif', serif" font-size="8.5" font-weight="bold" fill="#000" stroke="#000" stroke-width="0.2" textLength="29.7" lengthAdjust="spacingAndGlyphs">Baseline</text>
<line x1="173.3" y1="266.3" x2="189.8" y2="266.3" stroke="#111" stroke-width="1.1"/>
<path d="M192.8,266.3 L188.3,264.1 L188.3,268.5 Z" fill="#111"/>
<text x="133.7" y="291.1" font-family="'Liberation Serif', serif" font-size="8.5" font-weight="bold" fill="#000" stroke="#000" stroke-width="0.2" textLength="19.7" lengthAdjust="spacingAndGlyphs">24hrs</text>
<line x1="153.0" y1="287.9" x2="182.6" y2="287.9" stroke="#111" stroke-width="1.1"/>
<path d="M185.6,287.9 L181.1,285.7 L181.1,290.1 Z" fill="#111"/>
<text x="66.7" y="322.6" font-family="'Liberation Serif', serif" font-size="8.4" font-weight="bold" fill="#000" stroke="#000" stroke-width="0.2" textLength="80.2" lengthAdjust="spacingAndGlyphs">β2M (Baseline/24hrs)</text>
<svg x="284.5" y="139.5" width="186" height="109" overflow="hidden"><g transform="translate(-284.5,-139.5)">
<rect x="335.1" y="244.5" width="2.8" height="2.8" rx="0.6" fill="#6a40a0"/>
<rect x="381.4" y="225.6" width="2.8" height="2.8" rx="0.6" fill="#1a1a60"/>
<rect x="339.8" y="236.8" width="2.8" height="2.8" rx="0.6" fill="#e0e060"/>
<rect x="293.5" y="226.4" width="2.8" height="2.8" rx="0.6" fill="#6a40a0"/>
<rect x="298.1" y="229.7" width="2.8" height="2.8" rx="0.6" fill="#6a40a0"/>
<rect x="293.5" y="242.0" width="2.8" height="2.8" rx="0.6" fill="#1a1a60"/>
<rect x="321.2" y="237.8" width="2.8" height="2.8" rx="0.6" fill="#2a3a9a"/>
<rect x="372.2" y="236.9" width="2.8" height="2.8" rx="0.6" fill="#2a3a9a"/>
<rect x="321.2" y="225.6" width="2.8" height="2.8" rx="0.6" fill="#2a3a9a"/>
<rect x="330.5" y="233.4" width="2.8" height="2.8" rx="0.6" fill="#1a1a60"/>
<rect x="372.2" y="231.1" width="2.8" height="2.8" rx="0.6" fill="#2a3a9a"/>
<rect x="302.7" y="236.8" width="2.8" height="2.8" rx="0.6" fill="#e0e060"/>
<rect x="339.8" y="226.6" width="2.8" height="2.8" rx="0.6" fill="#1a1a60"/>
<rect x="372.2" y="225.9" width="2.8" height="2.8" rx="0.6" fill="#e0e060"/>
<rect x="358.3" y="238.9" width="2.8" height="2.8" rx="0.6" fill="#6a40a0"/>
<rect x="335.1" y="234.4" width="2.8" height="2.8" rx="0.6" fill="#60a0a0"/>
<rect x="339.8" y="230.9" width="2.8" height="2.8" rx="0.6" fill="#2a3a9a"/>
<rect x="390.7" y="241.0" width="2.8" height="2.8" rx="0.6" fill="#1a1a60"/>
<rect x="372.2" y="230.9" width="2.8" height="2.8" rx="0.6" fill="#60a0a0"/>
<rect x="335.1" y="239.9" width="2.8" height="2.8" rx="0.6" fill="#e080c0"/>
<rect x="376.8" y="245.2" width="2.8" height="2.8" rx="0.6" fill="#1a1a60"/>
<rect x="362.9" y="233.4" width="2.8" height="2.8" rx="0.6" fill="#5a9ad8"/>
<rect x="307.4" y="244.2" width="2.8" height="2.8" rx="0.6" fill="#6a40a0"/>
<rect x="293.5" y="244.8" width="2.8" height="2.8" rx="0.6" fill="#1a1a60"/>
<rect x="367.5" y="236.6" width="2.8" height="2.8" rx="0.6" fill="#5a9ad8"/>
<rect x="335.1" y="239.2" width="2.8" height="2.8" rx="0.6" fill="#60a0a0"/>
<rect x="372.2" y="241.3" width="2.8" height="2.8" rx="0.6" fill="#1a1a60"/>
<rect x="298.1" y="244.4" width="2.8" height="2.8" rx="0.6" fill="#60a0a0"/>
<rect x="390.7" y="238.5" width="2.8" height="2.8" rx="0.6" fill="#2a3a9a"/>
<rect x="395.3" y="239.3" width="2.8" height="2.8" rx="0.6" fill="#60a0a0"/>
<rect x="330.5" y="239.6" width="2.8" height="2.8" rx="0.6" fill="#5a9ad8"/>
<rect x="288.8" y="244.4" width="2.8" height="2.8" rx="0.6" fill="#5a9ad8"/>
<rect x="312.0" y="237.4" width="2.8" height="2.8" rx="0.6" fill="#60a0a0"/>
<rect x="293.5" y="229.2" width="2.8" height="2.8" rx="0.6" fill="#e080c0"/>
<rect x="307.4" y="240.1" width="2.8" height="2.8" rx="0.6" fill="#6a40a0"/>
<rect x="344.4" y="243.9" width="2.8" height="2.8" rx="0.6" fill="#60a0a0"/>
<rect x="298.1" y="228.1" width="2.8" height="2.8" rx="0.6" fill="#6a40a0"/>
<rect x="367.5" y="230.4" width="2.8" height="2.8" rx="0.6" fill="#2a3a9a"/>
<rect x="349.0" y="242.7" width="2.8" height="2.8" rx="0.6" fill="#e080c0"/>
<rect x="390.7" y="233.3" width="2.8" height="2.8" rx="0.6" fill="#5a9ad8"/>
<rect x="386.1" y="243.2" width="2.8" height="2.8" rx="0.6" fill="#e0e060"/>
<rect x="307.4" y="226.3" width="2.8" height="2.8" rx="0.6" fill="#2a3a9a"/>
<rect x="321.2" y="238.4" width="2.8" height="2.8" rx="0.6" fill="#2a3a9a"/>
<rect x="358.3" y="242.1" width="2.8" height="2.8" rx="0.6" fill="#2a3a9a"/>
<rect x="325.9" y="230.5" width="2.8" height="2.8" rx="0.6" fill="#2a3a9a"/>
<path d="M373.6,244.5 L378.2,237.2 L382.8,229.9 L387.5,223.1 L392.1,213.1 L396.7,204.9 L401.4,195.9 L406.0,187.7 L410.6,181.4 L415.2,176.7 L419.9,171.3 L424.5,167.9 L429.1,166.3 L433.8,165.3 L438.4,164.6 L443.0,164.0 L447.6,163.6 L452.3,163.3 L456.9,163.1 L461.5,162.8 L466.2,162.5" fill="none" stroke="#2a2a90" stroke-width="0.9"/>
<circle cx="373.6" cy="244.5" r="1.4" fill="#2a2a90"/>
<circle cx="378.2" cy="237.2" r="1.4" fill="#c040a0"/>
<circle cx="382.8" cy="229.9" r="1.4" fill="#2a2a90"/>
<circle cx="387.5" cy="223.1" r="1.4" fill="#c040a0"/>
<circle cx="392.1" cy="213.1" r="1.4" fill="#2a2a90"/>
<circle cx="396.7" cy="204.9" r="1.4" fill="#c040a0"/>
<circle cx="401.4" cy="195.9" r="1.4" fill="#2a2a90"/>
<circle cx="406.0" cy="187.7" r="1.4" fill="#c040a0"/>
<circle cx="410.6" cy="181.4" r="1.4" fill="#2a2a90"/>
<circle cx="415.2" cy="176.7" r="1.4" fill="#c040a0"/>
<circle cx="419.9" cy="171.3" r="1.4" fill="#2a2a90"/>
<circle cx="424.5" cy="167.9" r="1.4" fill="#c040a0"/>
<circle cx="429.1" cy="166.3" r="1.4" fill="#2a2a90"/>
<circle cx="433.8" cy="165.3" r="1.4" fill="#c040a0"/>
<circle cx="438.4" cy="164.6" r="1.4" fill="#2a2a90"/>
<circle cx="443.0" cy="164.0" r="1.4" fill="#c040a0"/>
<circle cx="447.6" cy="163.6" r="1.4" fill="#2a2a90"/>
<circle cx="452.3" cy="163.3" r="1.4" fill="#c040a0"/>
<circle cx="456.9" cy="163.1" r="1.4" fill="#2a2a90"/>
<circle cx="461.5" cy="162.8" r="1.4" fill="#c040a0"/>
<circle cx="466.2" cy="162.5" r="1.4" fill="#2a2a90"/>
<path d="M406.0,247.1 L410.6,234.3 L415.2,221.8 L419.9,208.6 L424.5,197.2 L429.1,187.2 L433.8,181.7 L438.4,176.2 L443.0,172.4 L447.6,170.0 L452.3,168.3 L456.9,167.2 L461.5,166.4 L466.2,165.8" fill="none" stroke="#1a1a60" stroke-width="0.9"/>
<circle cx="406.0" cy="247.1" r="1.4" fill="#1a1a60"/>
<circle cx="410.6" cy="234.3" r="1.4" fill="#2a2a90"/>
<circle cx="415.2" cy="221.8" r="1.4" fill="#1a1a60"/>
<circle cx="419.9" cy="208.6" r="1.4" fill="#2a2a90"/>
<circle cx="424.5" cy="197.2" r="1.4" fill="#1a1a60"/>
<circle cx="429.1" cy="187.2" r="1.4" fill="#2a2a90"/>
<circle cx="433.8" cy="181.7" r="1.4" fill="#1a1a60"/>
<circle cx="438.4" cy="176.2" r="1.4" fill="#2a2a90"/>
<circle cx="443.0" cy="172.4" r="1.4" fill="#1a1a60"/>
<circle cx="447.6" cy="170.0" r="1.4" fill="#2a2a90"/>
<circle cx="452.3" cy="168.3" r="1.4" fill="#1a1a60"/>
<circle cx="456.9" cy="167.2" r="1.4" fill="#2a2a90"/>
<circle cx="461.5" cy="166.4" r="1.4" fill="#1a1a60"/>
<circle cx="466.2" cy="165.8" r="1.4" fill="#2a2a90"/>
<path d="M341.2,235.5 L345.8,234.6 L350.4,238.2 L355.1,245.2 L359.7,240.4 L364.3,237.3 L368.9,239.1 L373.6,235.1" fill="none" stroke="#6aa0c0" stroke-width="0.7" stroke-opacity="0.6"/>
<path d="M373.6,235.1 L378.2,226.5 L382.8,219.3 L387.5,213.1 L392.1,206.8 L396.7,200.2 L401.4,196.0 L406.0,193.9 L410.6,192.5 L415.2,191.2 L419.9,190.0 L424.5,188.6 L429.1,187.6 L433.8,186.6 L438.4,185.8 L443.0,184.9 L447.6,184.2 L452.3,183.6 L456.9,183.1 L461.5,182.6 L466.2,182.3" fill="none" stroke="#6aa0c0" stroke-width="0.9"/>
<circle cx="341.2" cy="235.5" r="1.4" fill="#e0e040"/>
<circle cx="345.8" cy="234.6" r="1.4" fill="#5a9ad8"/>
<circle cx="350.4" cy="238.2" r="1.4" fill="#60c0c0"/>
<circle cx="355.1" cy="245.2" r="1.4" fill="#e0e040"/>
<circle cx="359.7" cy="240.4" r="1.4" fill="#5a9ad8"/>
<circle cx="364.3" cy="237.3" r="1.4" fill="#60c0c0"/>
<circle cx="368.9" cy="239.1" r="1.4" fill="#e0e040"/>
<circle cx="373.6" cy="235.1" r="1.4" fill="#5a9ad8"/>
<circle cx="378.2" cy="226.5" r="1.4" fill="#60c0c0"/>
<circle cx="382.8" cy="219.3" r="1.4" fill="#e0e040"/>
<circle cx="387.5" cy="213.1" r="1.4" fill="#5a9ad8"/>
<circle cx="392.1" cy="206.8" r="1.4" fill="#60c0c0"/>
<circle cx="396.7" cy="200.2" r="1.4" fill="#e0e040"/>
<circle cx="401.4" cy="196.0" r="1.4" fill="#5a9ad8"/>
<circle cx="406.0" cy="193.9" r="1.4" fill="#60c0c0"/>
<circle cx="410.6" cy="192.5" r="1.4" fill="#e0e040"/>
<circle cx="415.2" cy="191.2" r="1.4" fill="#5a9ad8"/>
<circle cx="419.9" cy="190.0" r="1.4" fill="#60c0c0"/>
<circle cx="424.5" cy="188.6" r="1.4" fill="#e0e040"/>
<circle cx="429.1" cy="187.6" r="1.4" fill="#5a9ad8"/>
<circle cx="433.8" cy="186.6" r="1.4" fill="#60c0c0"/>
<circle cx="438.4" cy="185.8" r="1.4" fill="#e0e040"/>
<circle cx="443.0" cy="184.9" r="1.4" fill="#5a9ad8"/>
<circle cx="447.6" cy="184.2" r="1.4" fill="#60c0c0"/>
<circle cx="452.3" cy="183.6" r="1.4" fill="#e0e040"/>
<circle cx="456.9" cy="183.1" r="1.4" fill="#5a9ad8"/>
<circle cx="461.5" cy="182.6" r="1.4" fill="#60c0c0"/>
<circle cx="466.2" cy="182.3" r="1.4" fill="#e0e040"/>
<path d="M299.5,242.1 L304.1,232.8 L308.8,245.5 L313.4,243.7 L318.0,245.1 L322.6,244.0 L327.3,237.9 L331.9,238.0 L336.5,233.6 L341.2,241.5 L345.8,232.9 L350.4,233.0 L355.1,235.1 L359.7,234.4 L364.3,237.1 L368.9,232.8 L373.6,232.0 L378.2,234.3 L382.8,246.2" fill="none" stroke="#6a40a0" stroke-width="0.7" stroke-opacity="0.6"/>
<path d="M382.8,246.2 L387.5,237.2 L392.1,229.1 L396.7,223.2 L401.4,217.9 L406.0,212.5 L410.6,207.8 L415.2,203.3 L419.9,199.5 L424.5,197.2 L429.1,195.6 L433.8,193.9 L438.4,192.2 L443.0,190.8 L447.6,189.7 L452.3,188.9 L456.9,188.2 L461.5,187.4 L466.2,186.8" fill="none" stroke="#6a40a0" stroke-width="0.9"/>
<circle cx="299.5" cy="242.1" r="1.4" fill="#6a40a0"/>
<circle cx="304.1" cy="232.8" r="1.4" fill="#3a3aa0"/>
<circle cx="308.8" cy="245.5" r="1.4" fill="#6a40a0"/>
<circle cx="313.4" cy="243.7" r="1.4" fill="#3a3aa0"/>
<circle cx="318.0" cy="245.1" r="1.4" fill="#6a40a0"/>
<circle cx="322.6" cy="244.0" r="1.4" fill="#3a3aa0"/>
<circle cx="327.3" cy="237.9" r="1.4" fill="#6a40a0"/>
<circle cx="331.9" cy="238.0" r="1.4" fill="#3a3aa0"/>
<circle cx="336.5" cy="233.6" r="1.4" fill="#6a40a0"/>
<circle cx="341.2" cy="241.5" r="1.4" fill="#3a3aa0"/>
<circle cx="345.8" cy="232.9" r="1.4" fill="#6a40a0"/>
<circle cx="350.4" cy="233.0" r="1.4" fill="#3a3aa0"/>
<circle cx="355.1" cy="235.1" r="1.4" fill="#6a40a0"/>
<circle cx="359.7" cy="234.4" r="1.4" fill="#3a3aa0"/>
<circle cx="364.3" cy="237.1" r="1.4" fill="#6a40a0"/>
<circle cx="368.9" cy="232.8" r="1.4" fill="#3a3aa0"/>
<circle cx="373.6" cy="232.0" r="1.4" fill="#6a40a0"/>
<circle cx="378.2" cy="234.3" r="1.4" fill="#3a3aa0"/>
<circle cx="382.8" cy="246.2" r="1.4" fill="#6a40a0"/>
<circle cx="387.5" cy="237.2" r="1.4" fill="#3a3aa0"/>
<circle cx="392.1" cy="229.1" r="1.4" fill="#6a40a0"/>
<circle cx="396.7" cy="223.2" r="1.4" fill="#3a3aa0"/>
<circle cx="401.4" cy="217.9" r="1.4" fill="#6a40a0"/>
<circle cx="406.0" cy="212.5" r="1.4" fill="#3a3aa0"/>
<circle cx="410.6" cy="207.8" r="1.4" fill="#6a40a0"/>
<circle cx="415.2" cy="203.3" r="1.4" fill="#3a3aa0"/>
<circle cx="419.9" cy="199.5" r="1.4" fill="#6a40a0"/>
<circle cx="424.5" cy="197.2" r="1.4" fill="#3a3aa0"/>
<circle cx="429.1" cy="195.6" r="1.4" fill="#6a40a0"/>
<circle cx="433.8" cy="193.9" r="1.4" fill="#3a3aa0"/>
<circle cx="438.4" cy="192.2" r="1.4" fill="#6a40a0"/>
<circle cx="443.0" cy="190.8" r="1.4" fill="#3a3aa0"/>
<circle cx="447.6" cy="189.7" r="1.4" fill="#6a40a0"/>
<circle cx="452.3" cy="188.9" r="1.4" fill="#3a3aa0"/>
<circle cx="456.9" cy="188.2" r="1.4" fill="#6a40a0"/>
<circle cx="461.5" cy="187.4" r="1.4" fill="#3a3aa0"/>
<circle cx="466.2" cy="186.8" r="1.4" fill="#6a40a0"/>
</g></svg>
<line x1="284.5" y1="210.9" x2="470" y2="210.9" stroke="#111" stroke-width="1.1"/>
<line x1="285.0" y1="208.4" x2="285.0" y2="213.4" stroke="#111" stroke-width="1.2"/>
<line x1="469.5" y1="208.4" x2="469.5" y2="213.4" stroke="#111" stroke-width="1.2"/>
<text x="286.5" y="153.4" font-family="'Liberation Serif', serif" font-size="8.5" font-weight="bold" fill="#000" stroke="#000" stroke-width="0.2" textLength="35.8" lengthAdjust="spacingAndGlyphs">Cyclin D2</text>
<text x="353.1" y="170.2" font-family="'Liberation Serif', serif" font-size="8.5" font-weight="bold" fill="#000" stroke="#000" stroke-width="0.2" textLength="29.8" lengthAdjust="spacingAndGlyphs">Baseline</text>
<line x1="385.7" y1="167.7" x2="422.0" y2="167.7" stroke="#111" stroke-width="1.1"/>
<path d="M425.0,167.7 L420.5,165.5 L420.5,169.9 Z" fill="#111"/>
<text x="347.7" y="186.2" font-family="'Liberation Serif', serif" font-size="8.5" font-weight="bold" fill="#000" stroke="#000" stroke-width="0.2" textLength="20.9" lengthAdjust="spacingAndGlyphs">24hrs</text>
<line x1="368.0" y1="183.2" x2="426.0" y2="183.2" stroke="#111" stroke-width="1.1"/>
<path d="M429.0,183.2 L424.5,181.0 L424.5,185.4 Z" fill="#111"/>
<text x="332.3" y="199.5" font-family="'Liberation Serif', serif" font-size="8.4" font-weight="bold" fill="#000" stroke="#000" stroke-width="0.2" textLength="55.2" lengthAdjust="spacingAndGlyphs">β2M (Baseline)</text>
<line x1="387.2" y1="196.8" x2="399.6" y2="196.8" stroke="#111" stroke-width="1.1"/>
<path d="M402.6,196.8 L398.1,194.6 L398.1,199.0 Z" fill="#111"/>
<text x="332.3" y="217.6" font-family="'Liberation Serif', serif" font-size="8.4" font-weight="bold" fill="#000" stroke="#000" stroke-width="0.2" textLength="46.0" lengthAdjust="spacingAndGlyphs">β2M (24hrs)</text>
<line x1="382.6" y1="214.2" x2="400.4" y2="214.2" stroke="#111" stroke-width="1.1"/>
<path d="M403.4,214.2 L398.9,212.0 L398.9,216.4 Z" fill="#111"/>
<svg x="284.5" y="251" width="186" height="103.8" overflow="hidden"><g transform="translate(-284.5,-251)">
<rect x="302.7" y="352.3" width="2.8" height="2.8" rx="0.6" fill="#2a3a9a"/>
<rect x="298.1" y="350.5" width="2.8" height="2.8" rx="0.6" fill="#6a40a0"/>
<rect x="307.4" y="344.5" width="2.8" height="2.8" rx="0.6" fill="#5a9ad8"/>
<rect x="376.8" y="337.7" width="2.8" height="2.8" rx="0.6" fill="#1a1a60"/>
<rect x="302.7" y="349.8" width="2.8" height="2.8" rx="0.6" fill="#60a0a0"/>
<rect x="358.3" y="340.7" width="2.8" height="2.8" rx="0.6" fill="#1a1a60"/>
<rect x="307.4" y="331.2" width="2.8" height="2.8" rx="0.6" fill="#5a9ad8"/>
<rect x="325.9" y="340.6" width="2.8" height="2.8" rx="0.6" fill="#2a3a9a"/>
<rect x="362.9" y="329.2" width="2.8" height="2.8" rx="0.6" fill="#5a9ad8"/>
<rect x="307.4" y="345.9" width="2.8" height="2.8" rx="0.6" fill="#2a3a9a"/>
<rect x="362.9" y="336.1" width="2.8" height="2.8" rx="0.6" fill="#1a1a60"/>
<rect x="325.9" y="341.6" width="2.8" height="2.8" rx="0.6" fill="#2a3a9a"/>
<rect x="339.8" y="347.9" width="2.8" height="2.8" rx="0.6" fill="#5a9ad8"/>
<rect x="321.2" y="343.9" width="2.8" height="2.8" rx="0.6" fill="#e0e060"/>
<rect x="321.2" y="349.1" width="2.8" height="2.8" rx="0.6" fill="#e0e060"/>
<rect x="316.6" y="341.5" width="2.8" height="2.8" rx="0.6" fill="#5a9ad8"/>
<rect x="288.8" y="353.3" width="2.8" height="2.8" rx="0.6" fill="#e080c0"/>
<rect x="358.3" y="335.1" width="2.8" height="2.8" rx="0.6" fill="#5a9ad8"/>
<rect x="353.7" y="348.8" width="2.8" height="2.8" rx="0.6" fill="#5a9ad8"/>
<rect x="339.8" y="330.6" width="2.8" height="2.8" rx="0.6" fill="#1a1a60"/>
<rect x="321.2" y="340.4" width="2.8" height="2.8" rx="0.6" fill="#5a9ad8"/>
<rect x="316.6" y="340.7" width="2.8" height="2.8" rx="0.6" fill="#2a3a9a"/>
<rect x="358.3" y="351.3" width="2.8" height="2.8" rx="0.6" fill="#5a9ad8"/>
<rect x="298.1" y="349.5" width="2.8" height="2.8" rx="0.6" fill="#1a1a60"/>
<rect x="344.4" y="348.2" width="2.8" height="2.8" rx="0.6" fill="#e0e060"/>
<rect x="358.3" y="350.8" width="2.8" height="2.8" rx="0.6" fill="#6a40a0"/>
<rect x="335.1" y="330.8" width="2.8" height="2.8" rx="0.6" fill="#6a40a0"/>
<rect x="353.7" y="338.6" width="2.8" height="2.8" rx="0.6" fill="#1a1a60"/>
<rect x="312.0" y="332.9" width="2.8" height="2.8" rx="0.6" fill="#2a3a9a"/>
<rect x="288.8" y="332.4" width="2.8" height="2.8" rx="0.6" fill="#60a0a0"/>
<rect x="307.4" y="343.9" width="2.8" height="2.8" rx="0.6" fill="#60a0a0"/>
<rect x="339.8" y="332.5" width="2.8" height="2.8" rx="0.6" fill="#2a3a9a"/>
<rect x="288.8" y="329.0" width="2.8" height="2.8" rx="0.6" fill="#1a1a60"/>
<rect x="362.9" y="347.3" width="2.8" height="2.8" rx="0.6" fill="#2a3a9a"/>
<rect x="349.0" y="353.3" width="2.8" height="2.8" rx="0.6" fill="#e0e060"/>
<rect x="316.6" y="329.3" width="2.8" height="2.8" rx="0.6" fill="#e0e060"/>
<rect x="330.5" y="341.1" width="2.8" height="2.8" rx="0.6" fill="#5a9ad8"/>
<rect x="325.9" y="342.2" width="2.8" height="2.8" rx="0.6" fill="#2a3a9a"/>
<rect x="293.5" y="351.4" width="2.8" height="2.8" rx="0.6" fill="#5a9ad8"/>
<rect x="353.7" y="345.2" width="2.8" height="2.8" rx="0.6" fill="#6a40a0"/>
<rect x="362.9" y="331.9" width="2.8" height="2.8" rx="0.6" fill="#2a3a9a"/>
<rect x="362.9" y="341.4" width="2.8" height="2.8" rx="0.6" fill="#60a0a0"/>
<rect x="312.0" y="343.8" width="2.8" height="2.8" rx="0.6" fill="#2a3a9a"/>
<rect x="312.0" y="332.1" width="2.8" height="2.8" rx="0.6" fill="#1a1a60"/>
<rect x="367.5" y="330.1" width="2.8" height="2.8" rx="0.6" fill="#60a0a0"/>
<path d="M387.5,354.1 L392.1,346.5 L396.7,338.7 L401.4,329.4 L406.0,320.4 L410.6,311.3 L415.2,302.8 L419.9,291.7 L424.5,284.2 L429.1,277.7 L433.8,273.2 L438.4,269.9 L443.0,267.5 L447.6,265.6 L452.3,264.4 L456.9,263.6 L461.5,263.0 L466.2,262.6" fill="none" stroke="#2a2a90" stroke-width="0.9"/>
<circle cx="387.5" cy="354.1" r="1.4" fill="#2a2a90"/>
<circle cx="392.1" cy="346.5" r="1.4" fill="#c040a0"/>
<circle cx="396.7" cy="338.7" r="1.4" fill="#2a2a90"/>
<circle cx="401.4" cy="329.4" r="1.4" fill="#c040a0"/>
<circle cx="406.0" cy="320.4" r="1.4" fill="#2a2a90"/>
<circle cx="410.6" cy="311.3" r="1.4" fill="#c040a0"/>
<circle cx="415.2" cy="302.8" r="1.4" fill="#2a2a90"/>
<circle cx="419.9" cy="291.7" r="1.4" fill="#c040a0"/>
<circle cx="424.5" cy="284.2" r="1.4" fill="#2a2a90"/>
<circle cx="429.1" cy="277.7" r="1.4" fill="#c040a0"/>
<circle cx="433.8" cy="273.2" r="1.4" fill="#2a2a90"/>
<circle cx="438.4" cy="269.9" r="1.4" fill="#c040a0"/>
<circle cx="443.0" cy="267.5" r="1.4" fill="#2a2a90"/>
<circle cx="447.6" cy="265.6" r="1.4" fill="#c040a0"/>
<circle cx="452.3" cy="264.4" r="1.4" fill="#2a2a90"/>
<circle cx="456.9" cy="263.6" r="1.4" fill="#c040a0"/>
<circle cx="461.5" cy="263.0" r="1.4" fill="#2a2a90"/>
<circle cx="466.2" cy="262.6" r="1.4" fill="#c040a0"/>
<path d="M419.9,338.0 L424.5,315.0 L429.1,304.6 L433.8,293.8 L438.4,284.8 L443.0,277.6 L447.6,272.1 L452.3,268.4 L456.9,266.3 L461.5,264.9 L466.2,264.0" fill="none" stroke="#1a1a60" stroke-width="0.9"/>
<circle cx="419.9" cy="338.0" r="1.4" fill="#1a1a60"/>
<circle cx="424.5" cy="315.0" r="1.4" fill="#2a2a90"/>
<circle cx="429.1" cy="304.6" r="1.4" fill="#1a1a60"/>
<circle cx="433.8" cy="293.8" r="1.4" fill="#2a2a90"/>
<circle cx="438.4" cy="284.8" r="1.4" fill="#1a1a60"/>
<circle cx="443.0" cy="277.6" r="1.4" fill="#2a2a90"/>
<circle cx="447.6" cy="272.1" r="1.4" fill="#1a1a60"/>
<circle cx="452.3" cy="268.4" r="1.4" fill="#2a2a90"/>
<circle cx="456.9" cy="266.3" r="1.4" fill="#1a1a60"/>
<circle cx="461.5" cy="264.9" r="1.4" fill="#2a2a90"/>
<circle cx="466.2" cy="264.0" r="1.4" fill="#1a1a60"/>
<path d="M322.6,348.1 L327.3,335.9 L331.9,344.1 L336.5,338.5 L341.2,339.0 L345.8,347.9 L350.4,343.1 L355.1,344.1 L359.7,347.7 L364.3,350.4 L368.9,348.6" fill="none" stroke="#6aa0c0" stroke-width="0.7" stroke-opacity="0.6"/>
<path d="M368.9,348.6 L373.6,343.7 L378.2,339.9 L382.8,336.8 L387.5,330.1 L392.1,323.0 L396.7,317.0 L401.4,312.2 L406.0,308.7 L410.6,305.7 L415.2,304.2 L419.9,303.1 L424.5,302.2 L429.1,301.2 L433.8,300.1 L438.4,299.1 L443.0,298.1 L447.6,297.3 L452.3,296.3 L456.9,295.4 L461.5,294.5 L466.2,293.6" fill="none" stroke="#6aa0c0" stroke-width="0.9"/>
<circle cx="322.6" cy="348.1" r="1.4" fill="#e0e040"/>
<circle cx="327.3" cy="335.9" r="1.4" fill="#5a9ad8"/>
<circle cx="331.9" cy="344.1" r="1.4" fill="#60c0c0"/>
<circle cx="336.5" cy="338.5" r="1.4" fill="#e0e040"/>
<circle cx="341.2" cy="339.0" r="1.4" fill="#5a9ad8"/>
<circle cx="345.8" cy="347.9" r="1.4" fill="#60c0c0"/>
<circle cx="350.4" cy="343.1" r="1.4" fill="#e0e040"/>
<circle cx="355.1" cy="344.1" r="1.4" fill="#5a9ad8"/>
<circle cx="359.7" cy="347.7" r="1.4" fill="#60c0c0"/>
<circle cx="364.3" cy="350.4" r="1.4" fill="#e0e040"/>
<circle cx="368.9" cy="348.6" r="1.4" fill="#5a9ad8"/>
<circle cx="373.6" cy="343.7" r="1.4" fill="#60c0c0"/>
<circle cx="378.2" cy="339.9" r="1.4" fill="#e0e040"/>
<circle cx="382.8" cy="336.8" r="1.4" fill="#5a9ad8"/>
<circle cx="387.5" cy="330.1" r="1.4" fill="#60c0c0"/>
<circle cx="392.1" cy="323.0" r="1.4" fill="#e0e040"/>
<circle cx="396.7" cy="317.0" r="1.4" fill="#5a9ad8"/>
<circle cx="401.4" cy="312.2" r="1.4" fill="#60c0c0"/>
<circle cx="406.0" cy="308.7" r="1.4" fill="#e0e040"/>
<circle cx="410.6" cy="305.7" r="1.4" fill="#5a9ad8"/>
<circle cx="415.2" cy="304.2" r="1.4" fill="#60c0c0"/>
<circle cx="419.9" cy="303.1" r="1.4" fill="#e0e040"/>
<circle cx="424.5" cy="302.2" r="1.4" fill="#5a9ad8"/>
<circle cx="429.1" cy="301.2" r="1.4" fill="#60c0c0"/>
<circle cx="433.8" cy="300.1" r="1.4" fill="#e0e040"/>
<circle cx="438.4" cy="299.1" r="1.4" fill="#5a9ad8"/>
<circle cx="443.0" cy="298.1" r="1.4" fill="#60c0c0"/>
<circle cx="447.6" cy="297.3" r="1.4" fill="#e0e040"/>
<circle cx="452.3" cy="296.3" r="1.4" fill="#5a9ad8"/>
<circle cx="456.9" cy="295.4" r="1.4" fill="#60c0c0"/>
<circle cx="461.5" cy="294.5" r="1.4" fill="#e0e040"/>
<circle cx="466.2" cy="293.6" r="1.4" fill="#5a9ad8"/>
<path d="M304.1,344.0 L308.8,347.0 L313.4,345.1 L318.0,345.2 L322.6,348.5 L327.3,344.1 L331.9,345.6 L336.5,344.6 L341.2,352.9 L345.8,348.6 L350.4,351.8 L355.1,353.0 L359.7,340.7 L364.3,346.1 L368.9,353.0 L373.6,351.1 L378.2,338.5 L382.8,338.2 L387.5,344.0 L392.1,337.3 L396.7,340.0" fill="none" stroke="#6a40a0" stroke-width="0.7" stroke-opacity="0.6"/>
<path d="M396.7,340.0 L401.4,326.4 L406.0,318.9 L410.6,315.0 L415.2,312.0 L419.9,309.3 L424.5,306.8 L429.1,304.6 L433.8,303.1 L438.4,302.0 L443.0,300.8 L447.6,299.8 L452.3,298.8 L456.9,298.0 L461.5,297.2 L466.2,296.5" fill="none" stroke="#6a40a0" stroke-width="0.9"/>
<circle cx="304.1" cy="344.0" r="1.4" fill="#6a40a0"/>
<circle cx="308.8" cy="347.0" r="1.4" fill="#c04080"/>
<circle cx="313.4" cy="345.1" r="1.4" fill="#6a40a0"/>
<circle cx="318.0" cy="345.2" r="1.4" fill="#c04080"/>
<circle cx="322.6" cy="348.5" r="1.4" fill="#6a40a0"/>
<circle cx="327.3" cy="344.1" r="1.4" fill="#c04080"/>
<circle cx="331.9" cy="345.6" r="1.4" fill="#6a40a0"/>
<circle cx="336.5" cy="344.6" r="1.4" fill="#c04080"/>
<circle cx="341.2" cy="352.9" r="1.4" fill="#6a40a0"/>
<circle cx="345.8" cy="348.6" r="1.4" fill="#c04080"/>
<circle cx="350.4" cy="351.8" r="1.4" fill="#6a40a0"/>
<circle cx="355.1" cy="353.0" r="1.4" fill="#c04080"/>
<circle cx="359.7" cy="340.7" r="1.4" fill="#6a40a0"/>
<circle cx="364.3" cy="346.1" r="1.4" fill="#c04080"/>
<circle cx="368.9" cy="353.0" r="1.4" fill="#6a40a0"/>
<circle cx="373.6" cy="351.1" r="1.4" fill="#c04080"/>
<circle cx="378.2" cy="338.5" r="1.4" fill="#6a40a0"/>
<circle cx="382.8" cy="338.2" r="1.4" fill="#c04080"/>
<circle cx="387.5" cy="344.0" r="1.4" fill="#6a40a0"/>
<circle cx="392.1" cy="337.3" r="1.4" fill="#c04080"/>
<circle cx="396.7" cy="340.0" r="1.4" fill="#6a40a0"/>
<circle cx="401.4" cy="326.4" r="1.4" fill="#c04080"/>
<circle cx="406.0" cy="318.9" r="1.4" fill="#6a40a0"/>
<circle cx="410.6" cy="315.0" r="1.4" fill="#c04080"/>
<circle cx="415.2" cy="312.0" r="1.4" fill="#6a40a0"/>
<circle cx="419.9" cy="309.3" r="1.4" fill="#c04080"/>
<circle cx="424.5" cy="306.8" r="1.4" fill="#6a40a0"/>
<circle cx="429.1" cy="304.6" r="1.4" fill="#c04080"/>
<circle cx="433.8" cy="303.1" r="1.4" fill="#6a40a0"/>
<circle cx="438.4" cy="302.0" r="1.4" fill="#c04080"/>
<circle cx="443.0" cy="300.8" r="1.4" fill="#6a40a0"/>
<circle cx="447.6" cy="299.8" r="1.4" fill="#c04080"/>
<circle cx="452.3" cy="298.8" r="1.4" fill="#6a40a0"/>
<circle cx="456.9" cy="298.0" r="1.4" fill="#c04080"/>
<circle cx="461.5" cy="297.2" r="1.4" fill="#6a40a0"/>
<circle cx="466.2" cy="296.5" r="1.4" fill="#c04080"/>
</g></svg>
<line x1="284.5" y1="318.7" x2="470" y2="318.7" stroke="#111" stroke-width="1.1"/>
<line x1="285.0" y1="316.2" x2="285.0" y2="321.2" stroke="#111" stroke-width="1.2"/>
<line x1="469.5" y1="316.2" x2="469.5" y2="321.2" stroke="#111" stroke-width="1.2"/>
<text x="291.0" y="265.2" font-family="'Liberation Serif', serif" font-size="8.5" font-weight="bold" fill="#000" stroke="#000" stroke-width="0.2" textLength="20.2" lengthAdjust="spacingAndGlyphs">Glut1</text>
<text x="375.7" y="276.3" font-family="'Liberation Serif', serif" font-size="8.5" font-weight="bold" fill="#000" stroke="#000" stroke-width="0.2" textLength="29.4" lengthAdjust="spacingAndGlyphs">Baseline</text>
<line x1="404.8" y1="273.5" x2="421.8" y2="273.5" stroke="#111" stroke-width="1.1"/>
<path d="M424.8,273.5 L420.3,271.3 L420.3,275.7 Z" fill="#111"/>
<text x="366.1" y="289.4" font-family="'Liberation Serif', serif" font-size="8.5" font-weight="bold" fill="#000" stroke="#000" stroke-width="0.2" textLength="20.6" lengthAdjust="spacingAndGlyphs">24hrs</text>
<line x1="386.4" y1="286.6" x2="430.7" y2="286.6" stroke="#111" stroke-width="1.1"/>
<path d="M433.7,286.6 L429.2,284.4 L429.2,288.8 Z" fill="#111"/>
<text x="340.5" y="308.8" font-family="'Liberation Serif', serif" font-size="8.4" font-weight="bold" fill="#000" stroke="#000" stroke-width="0.2" textLength="54.5" lengthAdjust="spacingAndGlyphs">β2M (Baseline)</text>
<line x1="394.7" y1="305.8" x2="400.3" y2="305.8" stroke="#111" stroke-width="1.1"/>
<path d="M403.3,305.8 L398.8,303.6 L398.8,308.0 Z" fill="#111"/>
<text x="340.5" y="325.8" font-family="'Liberation Serif', serif" font-size="8.4" font-weight="bold" fill="#000" stroke="#000" stroke-width="0.2" textLength="45.4" lengthAdjust="spacingAndGlyphs">β2M (24hrs)</text>
<line x1="385.6" y1="320.7" x2="400.3" y2="320.7" stroke="#111" stroke-width="1.1"/>
<path d="M403.3,320.7 L398.8,318.5 L398.8,322.9 Z" fill="#111"/>
<text x="1.5" y="408.5" font-family="'Liberation Sans', sans-serif" font-size="16.5" font-weight="bold" fill="#000" text-anchor="start" >C</text>
<text x="36.6" y="410.8" font-family="'Liberation Sans', sans-serif" font-size="15" font-weight="bold" fill="#000" text-anchor="start" >i</text>
<text x="284.6" y="406.8" font-family="'Liberation Sans', sans-serif" font-size="14.5" font-weight="bold" fill="#000" textLength="6.8" lengthAdjust="spacingAndGlyphs">ii</text>
<rect x="32.5" y="414.5" width="192" height="142.8" fill="none" stroke="#bbb" stroke-width="0.8"/>
<line x1="32.5" y1="414" x2="32.5" y2="557.5" stroke="#777" stroke-width="1"/>
<line x1="32" y1="557.3" x2="224.8" y2="557.3" stroke="#777" stroke-width="1"/>
<line x1="29.5" y1="557.3" x2="32.5" y2="557.3" stroke="#777" stroke-width="0.8"/>
<text x="25.6" y="560.2" font-family="'Liberation Sans', sans-serif" font-size="8.2" font-weight="bold" fill="#444" text-anchor="end" >0</text>
<line x1="29.5" y1="536.8" x2="32.5" y2="536.8" stroke="#777" stroke-width="0.8"/>
<text x="25.6" y="539.7" font-family="'Liberation Sans', sans-serif" font-size="8.2" font-weight="bold" fill="#444" text-anchor="end" >5</text>
<line x1="29.5" y1="516.4" x2="32.5" y2="516.4" stroke="#777" stroke-width="0.8"/>
<text x="25.6" y="519.3" font-family="'Liberation Sans', sans-serif" font-size="8.2" font-weight="bold" fill="#444" text-anchor="end" >10</text>
<line x1="29.5" y1="495.9" x2="32.5" y2="495.9" stroke="#777" stroke-width="0.8"/>
<text x="25.6" y="498.8" font-family="'Liberation Sans', sans-serif" font-size="8.2" font-weight="bold" fill="#444" text-anchor="end" >15</text>
<line x1="29.5" y1="475.5" x2="32.5" y2="475.5" stroke="#777" stroke-width="0.8"/>
<text x="25.6" y="478.4" font-family="'Liberation Sans', sans-serif" font-size="8.2" font-weight="bold" fill="#444" text-anchor="end" >20</text>
<line x1="29.5" y1="455.0" x2="32.5" y2="455.0" stroke="#777" stroke-width="0.8"/>
<text x="25.6" y="457.9" font-family="'Liberation Sans', sans-serif" font-size="8.2" font-weight="bold" fill="#444" text-anchor="end" >25</text>
<line x1="29.5" y1="434.6" x2="32.5" y2="434.6" stroke="#777" stroke-width="0.8"/>
<text x="25.6" y="437.5" font-family="'Liberation Sans', sans-serif" font-size="8.2" font-weight="bold" fill="#444" text-anchor="end" >30</text>
<line x1="29.5" y1="414.1" x2="32.5" y2="414.1" stroke="#777" stroke-width="0.8"/>
<text x="25.6" y="417.0" font-family="'Liberation Sans', sans-serif" font-size="8.2" font-weight="bold" fill="#444" text-anchor="end" >35</text>
<line x1="32.3" y1="555.8" x2="32.3" y2="558.8" stroke="#666" stroke-width="0.8"/>
<text x="32.3" y="567.8" font-family="'Liberation Sans', sans-serif" font-size="6.0" font-weight="bold" fill="#333" text-anchor="middle" >1</text>
<line x1="41.0" y1="555.8" x2="41.0" y2="558.8" stroke="#666" stroke-width="0.8"/>
<text x="41.0" y="567.8" font-family="'Liberation Sans', sans-serif" font-size="6.0" font-weight="bold" fill="#333" text-anchor="middle" >2</text>
<line x1="49.8" y1="555.8" x2="49.8" y2="558.8" stroke="#666" stroke-width="0.8"/>
<text x="49.8" y="567.8" font-family="'Liberation Sans', sans-serif" font-size="6.0" font-weight="bold" fill="#333" text-anchor="middle" >3</text>
<line x1="58.5" y1="555.8" x2="58.5" y2="558.8" stroke="#666" stroke-width="0.8"/>
<text x="58.5" y="567.8" font-family="'Liberation Sans', sans-serif" font-size="6.0" font-weight="bold" fill="#333" text-anchor="middle" >4</text>
<line x1="67.3" y1="555.8" x2="67.3" y2="558.8" stroke="#666" stroke-width="0.8"/>
<text x="67.3" y="567.8" font-family="'Liberation Sans', sans-serif" font-size="6.0" font-weight="bold" fill="#333" text-anchor="middle" >5</text>
<line x1="76.0" y1="555.8" x2="76.0" y2="558.8" stroke="#666" stroke-width="0.8"/>
<text x="76.0" y="567.8" font-family="'Liberation Sans', sans-serif" font-size="6.0" font-weight="bold" fill="#333" text-anchor="middle" >8</text>
<line x1="84.7" y1="555.8" x2="84.7" y2="558.8" stroke="#666" stroke-width="0.8"/>
<text x="84.7" y="567.8" font-family="'Liberation Sans', sans-serif" font-size="6.0" font-weight="bold" fill="#333" text-anchor="middle" >9</text>
<line x1="93.5" y1="555.8" x2="93.5" y2="558.8" stroke="#666" stroke-width="0.8"/>
<text x="93.5" y="567.8" font-family="'Liberation Sans', sans-serif" font-size="6.0" font-weight="bold" fill="#333" text-anchor="middle" >10</text>
<line x1="102.2" y1="555.8" x2="102.2" y2="558.8" stroke="#666" stroke-width="0.8"/>
<text x="102.2" y="567.8" font-family="'Liberation Sans', sans-serif" font-size="6.0" font-weight="bold" fill="#333" text-anchor="middle" >11</text>
<line x1="111.0" y1="555.8" x2="111.0" y2="558.8" stroke="#666" stroke-width="0.8"/>
<text x="111.0" y="567.8" font-family="'Liberation Sans', sans-serif" font-size="6.0" font-weight="bold" fill="#333" text-anchor="middle" >12</text>
<line x1="119.7" y1="555.8" x2="119.7" y2="558.8" stroke="#666" stroke-width="0.8"/>
<text x="119.7" y="567.8" font-family="'Liberation Sans', sans-serif" font-size="6.0" font-weight="bold" fill="#333" text-anchor="middle" >13</text>
<line x1="128.4" y1="555.8" x2="128.4" y2="558.8" stroke="#666" stroke-width="0.8"/>
<text x="128.4" y="567.8" font-family="'Liberation Sans', sans-serif" font-size="6.0" font-weight="bold" fill="#333" text-anchor="middle" >14</text>
<line x1="137.2" y1="555.8" x2="137.2" y2="558.8" stroke="#666" stroke-width="0.8"/>
<text x="137.2" y="567.8" font-family="'Liberation Sans', sans-serif" font-size="6.0" font-weight="bold" fill="#333" text-anchor="middle" >15</text>
<line x1="145.9" y1="555.8" x2="145.9" y2="558.8" stroke="#666" stroke-width="0.8"/>
<text x="145.9" y="567.8" font-family="'Liberation Sans', sans-serif" font-size="6.0" font-weight="bold" fill="#333" text-anchor="middle" >16</text>
<line x1="154.7" y1="555.8" x2="154.7" y2="558.8" stroke="#666" stroke-width="0.8"/>
<text x="154.7" y="567.8" font-family="'Liberation Sans', sans-serif" font-size="6.0" font-weight="bold" fill="#333" text-anchor="middle" >17</text>
<line x1="163.4" y1="555.8" x2="163.4" y2="558.8" stroke="#666" stroke-width="0.8"/>
<text x="163.4" y="567.8" font-family="'Liberation Sans', sans-serif" font-size="6.0" font-weight="bold" fill="#333" text-anchor="middle" >18</text>
<line x1="172.1" y1="555.8" x2="172.1" y2="558.8" stroke="#666" stroke-width="0.8"/>
<text x="172.1" y="567.8" font-family="'Liberation Sans', sans-serif" font-size="6.0" font-weight="bold" fill="#333" text-anchor="middle" >19</text>
<line x1="180.9" y1="555.8" x2="180.9" y2="558.8" stroke="#666" stroke-width="0.8"/>
<text x="180.9" y="567.8" font-family="'Liberation Sans', sans-serif" font-size="6.0" font-weight="bold" fill="#333" text-anchor="middle" >20</text>
<line x1="189.6" y1="555.8" x2="189.6" y2="558.8" stroke="#666" stroke-width="0.8"/>
<text x="189.6" y="567.8" font-family="'Liberation Sans', sans-serif" font-size="6.0" font-weight="bold" fill="#333" text-anchor="middle" >21</text>
<line x1="198.4" y1="555.8" x2="198.4" y2="558.8" stroke="#666" stroke-width="0.8"/>
<text x="198.4" y="567.8" font-family="'Liberation Sans', sans-serif" font-size="6.0" font-weight="bold" fill="#333" text-anchor="middle" >22</text>
<line x1="207.1" y1="555.8" x2="207.1" y2="558.8" stroke="#666" stroke-width="0.8"/>
<text x="207.1" y="567.8" font-family="'Liberation Sans', sans-serif" font-size="6.0" font-weight="bold" fill="#333" text-anchor="middle" >23</text>
<line x1="215.8" y1="555.8" x2="215.8" y2="558.8" stroke="#666" stroke-width="0.8"/>
<text x="215.8" y="567.8" font-family="'Liberation Sans', sans-serif" font-size="6.0" font-weight="bold" fill="#333" text-anchor="middle" >24</text>
<line x1="224.6" y1="555.8" x2="224.6" y2="558.8" stroke="#666" stroke-width="0.8"/>
<text x="224.6" y="567.8" font-family="'Liberation Sans', sans-serif" font-size="6.0" font-weight="bold" fill="#333" text-anchor="middle" >25</text>
<path d="M32.3,477.5 L41.0,479.2 L49.8,487.0 L58.5,485.3 L67.3,482.5 L76.0,444.0 L84.7,498.0 L93.5,518.2 L102.2,526.2 L111.0,535.0 L119.7,544.6 L128.4,540.1 L137.2,534.0 L145.9,547.3 L154.7,532.6 L163.4,530.7 L172.1,539.7 L180.9,540.9 L189.6,543.8 L198.4,542.0 L207.1,536.4 L215.8,546.1 L224.6,521.7" fill="none" stroke="#e03030" stroke-width="1"/>
<path d="M32.3,477.5 L41.0,469.4 L49.8,479.6 L58.5,478.8 L67.3,477.5 L76.0,437.5 L84.7,491.5 L93.5,514.4 L102.2,524.2 L111.0,531.7 L119.7,541.3 L128.4,537.7 L137.2,529.9 L145.9,545.2 L154.7,527.9 L163.4,525.2 L172.1,537.9 L180.9,539.3 L189.6,543.4 L198.4,541.3 L207.1,534.4 L215.8,543.4 L224.6,516.8" fill="none" stroke="#111" stroke-width="1" stroke-dasharray="1.5,2"/>
<path d="M32.3,475.3 L34.5,479.1 L30.1,479.1 Z" fill="#e03030"/>
<path d="M41.0,477.0 L43.2,480.8 L38.8,480.8 Z" fill="#e03030"/>
<path d="M49.8,484.8 L52.0,488.6 L47.6,488.6 Z" fill="#e03030"/>
<path d="M58.5,483.1 L60.7,486.9 L56.3,486.9 Z" fill="#e03030"/>
<path d="M67.3,480.3 L69.5,484.1 L65.1,484.1 Z" fill="#e03030"/>
<path d="M76.0,441.8 L78.2,445.6 L73.8,445.6 Z" fill="#e03030"/>
<path d="M84.7,495.8 L86.9,499.6 L82.5,499.6 Z" fill="#e03030"/>
<path d="M93.5,516.0 L95.7,519.8 L91.3,519.8 Z" fill="#e03030"/>
<path d="M102.2,524.0 L104.4,527.8 L100.0,527.8 Z" fill="#e03030"/>
<path d="M111.0,532.8 L113.2,536.6 L108.8,536.6 Z" fill="#e03030"/>
<path d="M119.7,542.4 L121.9,546.2 L117.5,546.2 Z" fill="#e03030"/>
<path d="M128.4,537.9 L130.6,541.7 L126.2,541.7 Z" fill="#e03030"/>
<path d="M137.2,531.8 L139.4,535.6 L135.0,535.6 Z" fill="#e03030"/>
<path d="M145.9,545.1 L148.1,548.9 L143.7,548.9 Z" fill="#e03030"/>
<path d="M154.7,530.4 L156.9,534.2 L152.5,534.2 Z" fill="#e03030"/>
<path d="M163.4,528.5 L165.6,532.3 L161.2,532.3 Z" fill="#e03030"/>
<path d="M172.1,537.5 L174.3,541.3 L169.9,541.3 Z" fill="#e03030"/>
<path d="M180.9,538.7 L183.1,542.5 L178.7,542.5 Z" fill="#e03030"/>
<path d="M189.6,541.6 L191.8,545.4 L187.4,545.4 Z" fill="#e03030"/>
<path d="M198.4,539.8 L200.6,543.6 L196.2,543.6 Z" fill="#e03030"/>
<path d="M207.1,534.2 L209.3,538.0 L204.9,538.0 Z" fill="#e03030"/>
<path d="M215.8,543.9 L218.0,547.7 L213.6,547.7 Z" fill="#e03030"/>
<path d="M224.6,519.5 L226.8,523.3 L222.4,523.3 Z" fill="#e03030"/>
<rect x="30.3" y="475.5" width="4" height="4" fill="#111"/>
<rect x="39.0" y="467.4" width="4" height="4" fill="#111"/>
<rect x="47.8" y="477.6" width="4" height="4" fill="#111"/>
<rect x="56.5" y="476.8" width="4" height="4" fill="#111"/>
<rect x="65.3" y="475.5" width="4" height="4" fill="#111"/>
<rect x="74.0" y="435.5" width="4" height="4" fill="#111"/>
<rect x="82.7" y="489.5" width="4" height="4" fill="#111"/>
<rect x="91.5" y="512.4" width="4" height="4" fill="#111"/>
<rect x="100.2" y="522.2" width="4" height="4" fill="#111"/>
<rect x="109.0" y="529.7" width="4" height="4" fill="#111"/>
<rect x="117.7" y="539.3" width="4" height="4" fill="#111"/>
<rect x="126.4" y="535.7" width="4" height="4" fill="#111"/>
<rect x="135.2" y="527.9" width="4" height="4" fill="#111"/>
<rect x="143.9" y="543.2" width="4" height="4" fill="#111"/>
<rect x="152.7" y="525.9" width="4" height="4" fill="#111"/>
<rect x="161.4" y="523.2" width="4" height="4" fill="#111"/>
<rect x="170.1" y="535.9" width="4" height="4" fill="#111"/>
<rect x="178.9" y="537.3" width="4" height="4" fill="#111"/>
<rect x="187.6" y="541.4" width="4" height="4" fill="#111"/>
<rect x="196.4" y="539.3" width="4" height="4" fill="#111"/>
<rect x="205.1" y="532.4" width="4" height="4" fill="#111"/>
<rect x="213.8" y="541.4" width="4" height="4" fill="#111"/>
<rect x="222.6" y="514.8" width="4" height="4" fill="#111"/>
<rect x="136.5" y="426" width="71.5" height="24" fill="#fff" stroke="#888" stroke-width="0.8"/>
<line x1="139" y1="432.2" x2="152" y2="432.2" stroke="#111" stroke-width="1" stroke-dasharray="1.5,2"/>
<rect x="144" y="430.2" width="4" height="4" fill="#111"/>
<text x="155.2" y="435.2" font-family="'Liberation Sans', sans-serif" font-size="8.2" font-weight="bold" fill="#000" text-anchor="start" >WBC</text>
<line x1="139" y1="444.2" x2="152" y2="444.2" stroke="#e03030" stroke-width="1"/>
<path d="M146,442 L148.2,445.8 L143.8,445.8 Z" fill="#e03030"/>
<text x="155.2" y="447.2" font-family="'Liberation Sans', sans-serif" font-size="8.2" font-weight="bold" fill="#000" text-anchor="start" >ABS BLASTS</text>
<text x="120.5" y="411.8" font-family="'Liberation Sans', sans-serif" font-size="9" font-weight="bold" fill="#000" text-anchor="middle" >Pt no. 3 (ALL)</text>
<text transform="translate(9.2,484) rotate(-90)" font-family="'Liberation Serif', serif" font-size="10.3" font-weight="bold" text-anchor="middle">WBC, ABC (10<tspan font-size="6.5" dy="-4">9</tspan><tspan dy="4">/L)</tspan></text>
<line x1="75.7" y1="572.0" x2="75.7" y2="576.3" stroke="#c83848" stroke-width="1.2"/>
<path d="M75.7,569.5 L77.5,572.7 L73.9,572.7 Z" fill="#c83848"/>
<line x1="145.6" y1="572.0" x2="145.6" y2="576.3" stroke="#c83848" stroke-width="1.2"/>
<path d="M145.6,569.5 L147.4,572.7 L143.8,572.7 Z" fill="#c83848"/>
<line x1="198.1" y1="572.0" x2="198.1" y2="576.3" stroke="#c83848" stroke-width="1.2"/>
<path d="M198.1,569.5 L199.9,572.7 L196.3,572.7 Z" fill="#c83848"/>
<text x="74.6" y="581.6" font-family="'Liberation Sans', sans-serif" font-size="6.3" font-weight="bold" fill="#222" text-anchor="middle" >C1d1</text>
<rect x="217" y="570.5" width="56" height="16" fill="#fff" stroke="#666" stroke-width="0.8"/>
<line x1="220.8" y1="577.0" x2="220.8" y2="581.3" stroke="#c83848" stroke-width="1.2"/>
<path d="M220.8,574.5 L222.6,577.7 L219.0,577.7 Z" fill="#c83848"/>
<text x="222.7" y="581.2" font-family="'Liberation Sans', sans-serif" font-size="8" font-weight="bold" fill="#111" textLength="44.6" lengthAdjust="spacingAndGlyphs">Temsirolimus</text>
<line x1="281" y1="410.8" x2="480.8" y2="410.8" stroke="#bbb" stroke-width="0.8"/>
<line x1="283.7" y1="410.5" x2="283.7" y2="554.6" stroke="#777" stroke-width="1"/>
<line x1="480.8" y1="410.5" x2="480.8" y2="554.6" stroke="#777" stroke-width="1"/>
<line x1="283.2" y1="554.3" x2="481.3" y2="554.3" stroke="#777" stroke-width="1"/>
<line x1="281" y1="431.2" x2="283.7" y2="431.2" stroke="#777" stroke-width="0.8"/>
<line x1="281" y1="452" x2="283.7" y2="452" stroke="#777" stroke-width="0.8"/>
<line x1="281" y1="472.5" x2="283.7" y2="472.5" stroke="#777" stroke-width="0.8"/>
<line x1="281" y1="493" x2="283.7" y2="493" stroke="#777" stroke-width="0.8"/>
<line x1="281" y1="513.5" x2="283.7" y2="513.5" stroke="#777" stroke-width="0.8"/>
<line x1="281" y1="534" x2="283.7" y2="534" stroke="#777" stroke-width="0.8"/>
<line x1="480.8" y1="554.3" x2="483.5" y2="554.3" stroke="#777" stroke-width="0.8"/>
<text x="488.8" y="558.0" font-family="'Liberation Sans', sans-serif" font-size="10.3" font-weight="normal" fill="#444" text-anchor="start" >0</text>
<line x1="480.8" y1="536.3" x2="483.5" y2="536.3" stroke="#777" stroke-width="0.8"/>
<text x="488.8" y="540.0" font-family="'Liberation Sans', sans-serif" font-size="10.3" font-weight="normal" fill="#444" text-anchor="start" >0.5</text>
<line x1="480.8" y1="518.4" x2="483.5" y2="518.4" stroke="#777" stroke-width="0.8"/>
<text x="488.8" y="522.1" font-family="'Liberation Sans', sans-serif" font-size="10.3" font-weight="normal" fill="#444" text-anchor="start" >1</text>
<line x1="480.8" y1="500.4" x2="483.5" y2="500.4" stroke="#777" stroke-width="0.8"/>
<text x="488.8" y="504.1" font-family="'Liberation Sans', sans-serif" font-size="10.3" font-weight="normal" fill="#444" text-anchor="start" >1.5</text>
<line x1="480.8" y1="482.5" x2="483.5" y2="482.5" stroke="#777" stroke-width="0.8"/>
<text x="488.8" y="486.2" font-family="'Liberation Sans', sans-serif" font-size="10.3" font-weight="normal" fill="#444" text-anchor="start" >2</text>
<line x1="480.8" y1="464.5" x2="483.5" y2="464.5" stroke="#777" stroke-width="0.8"/>
<text x="488.8" y="468.2" font-family="'Liberation Sans', sans-serif" font-size="10.3" font-weight="normal" fill="#444" text-anchor="start" >2.5</text>
<line x1="480.8" y1="446.6" x2="483.5" y2="446.6" stroke="#777" stroke-width="0.8"/>
<text x="488.8" y="450.3" font-family="'Liberation Sans', sans-serif" font-size="10.3" font-weight="normal" fill="#444" text-anchor="start" >3</text>
<line x1="480.8" y1="428.6" x2="483.5" y2="428.6" stroke="#777" stroke-width="0.8"/>
<text x="488.8" y="432.3" font-family="'Liberation Sans', sans-serif" font-size="10.3" font-weight="normal" fill="#444" text-anchor="start" >3.5</text>
<line x1="480.8" y1="410.7" x2="483.5" y2="410.7" stroke="#777" stroke-width="0.8"/>
<text x="488.8" y="414.4" font-family="'Liberation Sans', sans-serif" font-size="10.3" font-weight="normal" fill="#444" text-anchor="start" >4</text>
<line x1="283.7" y1="552.8" x2="283.7" y2="555.8" stroke="#555" stroke-width="0.8"/>
<text x="284.3" y="566.0" font-family="'Liberation Sans', sans-serif" font-size="6.4" font-weight="bold" fill="#222" text-anchor="middle" >1</text>
<line x1="292.7" y1="552.8" x2="292.7" y2="555.8" stroke="#555" stroke-width="0.8"/>
<text x="293.3" y="566.0" font-family="'Liberation Sans', sans-serif" font-size="6.4" font-weight="bold" fill="#222" text-anchor="middle" >6</text>
<line x1="301.7" y1="552.8" x2="301.7" y2="555.8" stroke="#555" stroke-width="0.8"/>
<text x="302.3" y="566.0" font-family="'Liberation Sans', sans-serif" font-size="6.4" font-weight="bold" fill="#222" text-anchor="middle" >11</text>
<line x1="310.7" y1="552.8" x2="310.7" y2="555.8" stroke="#555" stroke-width="0.8"/>
<text x="311.3" y="566.0" font-family="'Liberation Sans', sans-serif" font-size="6.4" font-weight="bold" fill="#222" text-anchor="middle" >16</text>
<line x1="319.7" y1="552.8" x2="319.7" y2="555.8" stroke="#555" stroke-width="0.8"/>
<text x="320.3" y="566.0" font-family="'Liberation Sans', sans-serif" font-size="6.4" font-weight="bold" fill="#222" text-anchor="middle" >21</text>
<line x1="328.7" y1="552.8" x2="328.7" y2="555.8" stroke="#555" stroke-width="0.8"/>
<text x="329.3" y="566.0" font-family="'Liberation Sans', sans-serif" font-size="6.4" font-weight="bold" fill="#222" text-anchor="middle" >26</text>
<line x1="337.7" y1="552.8" x2="337.7" y2="555.8" stroke="#555" stroke-width="0.8"/>
<text x="338.3" y="566.0" font-family="'Liberation Sans', sans-serif" font-size="6.4" font-weight="bold" fill="#222" text-anchor="middle" >31</text>
<line x1="346.7" y1="552.8" x2="346.7" y2="555.8" stroke="#555" stroke-width="0.8"/>
<text x="347.3" y="566.0" font-family="'Liberation Sans', sans-serif" font-size="6.4" font-weight="bold" fill="#222" text-anchor="middle" >36</text>
<line x1="355.7" y1="552.8" x2="355.7" y2="555.8" stroke="#555" stroke-width="0.8"/>
<text x="356.3" y="566.0" font-family="'Liberation Sans', sans-serif" font-size="6.4" font-weight="bold" fill="#222" text-anchor="middle" >41</text>
<line x1="364.7" y1="552.8" x2="364.7" y2="555.8" stroke="#555" stroke-width="0.8"/>
<text x="365.3" y="566.0" font-family="'Liberation Sans', sans-serif" font-size="6.4" font-weight="bold" fill="#222" text-anchor="middle" >46</text>
<line x1="373.7" y1="552.8" x2="373.7" y2="555.8" stroke="#555" stroke-width="0.8"/>
<text x="374.3" y="566.0" font-family="'Liberation Sans', sans-serif" font-size="6.4" font-weight="bold" fill="#222" text-anchor="middle" >51</text>
<line x1="382.7" y1="552.8" x2="382.7" y2="555.8" stroke="#555" stroke-width="0.8"/>
<text x="383.3" y="566.0" font-family="'Liberation Sans', sans-serif" font-size="6.4" font-weight="bold" fill="#222" text-anchor="middle" >56</text>
<line x1="391.7" y1="552.8" x2="391.7" y2="555.8" stroke="#555" stroke-width="0.8"/>
<text x="392.3" y="566.0" font-family="'Liberation Sans', sans-serif" font-size="6.4" font-weight="bold" fill="#222" text-anchor="middle" >61</text>
<line x1="400.7" y1="552.8" x2="400.7" y2="555.8" stroke="#555" stroke-width="0.8"/>
<text x="401.3" y="566.0" font-family="'Liberation Sans', sans-serif" font-size="6.4" font-weight="bold" fill="#222" text-anchor="middle" >66</text>
<line x1="409.7" y1="552.8" x2="409.7" y2="555.8" stroke="#555" stroke-width="0.8"/>
<text x="410.3" y="566.0" font-family="'Liberation Sans', sans-serif" font-size="6.4" font-weight="bold" fill="#222" text-anchor="middle" >71</text>
<line x1="418.7" y1="552.8" x2="418.7" y2="555.8" stroke="#555" stroke-width="0.8"/>
<text x="419.3" y="566.0" font-family="'Liberation Sans', sans-serif" font-size="6.4" font-weight="bold" fill="#222" text-anchor="middle" >76</text>
<line x1="427.7" y1="552.8" x2="427.7" y2="555.8" stroke="#555" stroke-width="0.8"/>
<text x="428.3" y="566.0" font-family="'Liberation Sans', sans-serif" font-size="6.4" font-weight="bold" fill="#222" text-anchor="middle" >81</text>
<line x1="436.7" y1="552.8" x2="436.7" y2="555.8" stroke="#555" stroke-width="0.8"/>
<text x="437.3" y="566.0" font-family="'Liberation Sans', sans-serif" font-size="6.4" font-weight="bold" fill="#222" text-anchor="middle" >86</text>
<line x1="445.7" y1="552.8" x2="445.7" y2="555.8" stroke="#555" stroke-width="0.8"/>
<text x="446.3" y="566.0" font-family="'Liberation Sans', sans-serif" font-size="6.4" font-weight="bold" fill="#222" text-anchor="middle" >91</text>
<line x1="454.7" y1="552.8" x2="454.7" y2="555.8" stroke="#555" stroke-width="0.8"/>
<text x="455.3" y="566.0" font-family="'Liberation Sans', sans-serif" font-size="6.4" font-weight="bold" fill="#222" text-anchor="middle" >96</text>
<line x1="463.7" y1="552.8" x2="463.7" y2="555.8" stroke="#555" stroke-width="0.8"/>
<text x="464.3" y="566.0" font-family="'Liberation Sans', sans-serif" font-size="6.4" font-weight="bold" fill="#222" text-anchor="middle" >101</text>
<line x1="472.7" y1="552.8" x2="472.7" y2="555.8" stroke="#555" stroke-width="0.8"/>
<text x="473.3" y="566.0" font-family="'Liberation Sans', sans-serif" font-size="6.4" font-weight="bold" fill="#222" text-anchor="middle" >106</text>
<path d="M284,468.3 L287.9,418.7 L290.4,487.7 L292.3,504 L293.3,514.6 L295.2,525.2 L298.1,528 L305.8,528 L311.5,527.1 L317.3,527.1 L322.1,537.3 L324,543.5 L330.8,541.2 L334.6,543 L345.2,541.2 L398.6,515.5 L402.8,499.6 L408.1,535.6 L414.4,532.4 L426.1,533 L429.2,544 L433,544 L436,545.5 L438,541 L440,544 L442,542 L444,546 L446,541 L448,542 L450,547 L452,543 L454,544 L456,546 L458,543 L461,545 L464,546 L467,547 L471.5,547.2 L473.7,541.9 L480,540.9" fill="none" stroke="#111" stroke-width="1.4"/>
<path d="M284,460.6 L287.9,432.3 L289.4,496.3 L291.3,506.5 L293.8,507.9 L295.2,527.1 L298.5,535.8 L305.8,531.5 L311.5,527.1 L316.3,528.5 L322.1,537.7 L324,546.3 L330.8,546.3 L334.6,547.7 L344.2,547.7 L346.2,542.5 L398.6,515.5 L402.8,504.9 L408.1,552.5 L413,551 L418,552 L423,553 L427,552 L430,550 L433,552.5 L436,551 L439,553 L442,550.5 L445,552 L448,553 L451,551 L454,552.5 L457,551 L460,553 L463,551.5 L466,552.5 L471.5,551.4 L475.8,545.1 L480,543" fill="none" stroke="#e03030" stroke-width="1.2"/>
<path d="M284.0,458.0 L286.5,462.4 L281.5,462.4 Z" fill="#e03030"/>
<path d="M287.9,429.7 L290.4,434.1 L285.4,434.1 Z" fill="#e03030"/>
<path d="M289.4,493.7 L291.9,498.1 L286.9,498.1 Z" fill="#e03030"/>
<path d="M291.3,503.9 L293.8,508.3 L288.8,508.3 Z" fill="#e03030"/>
<path d="M293.8,505.3 L296.3,509.7 L291.3,509.7 Z" fill="#e03030"/>
<path d="M295.2,524.5 L297.7,528.9 L292.7,528.9 Z" fill="#e03030"/>
<path d="M298.5,533.2 L301.0,537.6 L296.0,537.6 Z" fill="#e03030"/>
<path d="M305.8,528.9 L308.3,533.3 L303.3,533.3 Z" fill="#e03030"/>
<path d="M311.5,524.5 L314.0,528.9 L309.0,528.9 Z" fill="#e03030"/>
<path d="M316.3,525.9 L318.8,530.3 L313.8,530.3 Z" fill="#e03030"/>
<path d="M322.1,535.1 L324.6,539.5 L319.6,539.5 Z" fill="#e03030"/>
<path d="M324.0,543.7 L326.5,548.1 L321.5,548.1 Z" fill="#e03030"/>
<path d="M330.8,543.7 L333.3,548.1 L328.3,548.1 Z" fill="#e03030"/>
<path d="M334.6,545.1 L337.1,549.5 L332.1,549.5 Z" fill="#e03030"/>
<path d="M344.2,545.1 L346.7,549.5 L341.7,549.5 Z" fill="#e03030"/>
<path d="M346.2,539.9 L348.7,544.3 L343.7,544.3 Z" fill="#e03030"/>
<path d="M398.6,512.9 L401.1,517.3 L396.1,517.3 Z" fill="#e03030"/>
<path d="M402.8,502.3 L405.3,506.7 L400.3,506.7 Z" fill="#e03030"/>
<path d="M408.1,549.9 L410.6,554.3 L405.6,554.3 Z" fill="#e03030"/>
<path d="M413.0,548.4 L415.5,552.8 L410.5,552.8 Z" fill="#e03030"/>
<path d="M418.0,549.4 L420.5,553.8 L415.5,553.8 Z" fill="#e03030"/>
<path d="M423.0,550.4 L425.5,554.8 L420.5,554.8 Z" fill="#e03030"/>
<path d="M427.0,549.4 L429.5,553.8 L424.5,553.8 Z" fill="#e03030"/>
<path d="M430.0,547.4 L432.5,551.8 L427.5,551.8 Z" fill="#e03030"/>
<path d="M433.0,549.9 L435.5,554.3 L430.5,554.3 Z" fill="#e03030"/>
<path d="M436.0,548.4 L438.5,552.8 L433.5,552.8 Z" fill="#e03030"/>
<path d="M439.0,550.4 L441.5,554.8 L436.5,554.8 Z" fill="#e03030"/>
<path d="M442.0,547.9 L444.5,552.3 L439.5,552.3 Z" fill="#e03030"/>
<path d="M445.0,549.4 L447.5,553.8 L442.5,553.8 Z" fill="#e03030"/>
<path d="M448.0,550.4 L450.5,554.8 L445.5,554.8 Z" fill="#e03030"/>
<path d="M451.0,548.4 L453.5,552.8 L448.5,552.8 Z" fill="#e03030"/>
<path d="M454.0,549.9 L456.5,554.3 L451.5,554.3 Z" fill="#e03030"/>
<path d="M457.0,548.4 L459.5,552.8 L454.5,552.8 Z" fill="#e03030"/>
<path d="M460.0,550.4 L462.5,554.8 L457.5,554.8 Z" fill="#e03030"/>
<path d="M463.0,548.9 L465.5,553.3 L460.5,553.3 Z" fill="#e03030"/>
<path d="M466.0,549.9 L468.5,554.3 L463.5,554.3 Z" fill="#e03030"/>
<path d="M471.5,548.8 L474.0,553.2 L469.0,553.2 Z" fill="#e03030"/>
<path d="M475.8,542.5 L478.3,546.9 L473.3,546.9 Z" fill="#e03030"/>
<path d="M480.0,540.4 L482.5,544.8 L477.5,544.8 Z" fill="#e03030"/>
<rect x="283.0" y="467.3" width="2" height="2" fill="#111"/>
<rect x="286.9" y="417.7" width="2" height="2" fill="#111"/>
<rect x="289.4" y="486.7" width="2" height="2" fill="#111"/>
<rect x="291.3" y="503.0" width="2" height="2" fill="#111"/>
<rect x="292.3" y="513.6" width="2" height="2" fill="#111"/>
<rect x="294.2" y="524.2" width="2" height="2" fill="#111"/>
<rect x="297.1" y="527.0" width="2" height="2" fill="#111"/>
<rect x="304.8" y="527.0" width="2" height="2" fill="#111"/>
<rect x="310.5" y="526.1" width="2" height="2" fill="#111"/>
<rect x="316.3" y="526.1" width="2" height="2" fill="#111"/>
<rect x="321.1" y="536.3" width="2" height="2" fill="#111"/>
<rect x="323.0" y="542.5" width="2" height="2" fill="#111"/>
<rect x="329.8" y="540.2" width="2" height="2" fill="#111"/>
<rect x="333.6" y="542.0" width="2" height="2" fill="#111"/>
<rect x="344.2" y="540.2" width="2" height="2" fill="#111"/>
<rect x="397.6" y="514.5" width="2" height="2" fill="#111"/>
<rect x="401.8" y="498.6" width="2" height="2" fill="#111"/>
<rect x="407.1" y="534.6" width="2" height="2" fill="#111"/>
<rect x="413.4" y="531.4" width="2" height="2" fill="#111"/>
<rect x="425.1" y="532.0" width="2" height="2" fill="#111"/>
<rect x="428.2" y="543.0" width="2" height="2" fill="#111"/>
<rect x="432.0" y="543.0" width="2" height="2" fill="#111"/>
<rect x="435.0" y="544.5" width="2" height="2" fill="#111"/>
<rect x="437.0" y="540.0" width="2" height="2" fill="#111"/>
<rect x="439.0" y="543.0" width="2" height="2" fill="#111"/>
<rect x="441.0" y="541.0" width="2" height="2" fill="#111"/>
<rect x="443.0" y="545.0" width="2" height="2" fill="#111"/>
<rect x="445.0" y="540.0" width="2" height="2" fill="#111"/>
<rect x="447.0" y="541.0" width="2" height="2" fill="#111"/>
<rect x="449.0" y="546.0" width="2" height="2" fill="#111"/>
<rect x="451.0" y="542.0" width="2" height="2" fill="#111"/>
<rect x="453.0" y="543.0" width="2" height="2" fill="#111"/>
<rect x="455.0" y="545.0" width="2" height="2" fill="#111"/>
<rect x="457.0" y="542.0" width="2" height="2" fill="#111"/>
<rect x="460.0" y="544.0" width="2" height="2" fill="#111"/>
<rect x="463.0" y="545.0" width="2" height="2" fill="#111"/>
<rect x="466.0" y="546.0" width="2" height="2" fill="#111"/>
<rect x="470.5" y="546.2" width="2" height="2" fill="#111"/>
<rect x="472.7" y="540.9" width="2" height="2" fill="#111"/>
<rect x="479.0" y="539.9" width="2" height="2" fill="#111"/>
<rect x="362.5" y="413.2" width="82" height="27.6" fill="#fff" stroke="#888" stroke-width="0.8"/>
<line x1="364.6" y1="421.2" x2="379.6" y2="421.2" stroke="#111" stroke-width="1.4"/>
<rect x="371.7" y="420.2" width="2" height="2" fill="#111"/>
<text x="381.2" y="424.6" font-family="'Liberation Sans', sans-serif" font-size="9.5" font-weight="bold" fill="#111" text-anchor="start" >WBC</text>
<line x1="364.6" y1="433.8" x2="379.6" y2="433.8" stroke="#e03030" stroke-width="1.2"/>
<path d="M372.7,431.2 L375.2,435.6 L370.2,435.6 Z" fill="#e03030"/>
<text x="381.2" y="437.2" font-family="'Liberation Sans', sans-serif" font-size="9.5" font-weight="bold" fill="#111" text-anchor="start" >ABS BLASTS</text>
<text x="382.5" y="407.2" font-family="'Liberation Sans', sans-serif" font-size="9" font-weight="bold" fill="#000" text-anchor="middle" >Pt no. 5 (AML)</text>
<text transform="translate(510.6,471) rotate(90)" font-family="'Liberation Serif', serif" font-size="9.3" font-weight="bold" text-anchor="middle">WBC, ABC (10<tspan font-size="6.5" dy="-4">9</tspan><tspan dy="4">/L)</tspan></text>
<line x1="283.0" y1="572.1" x2="283.0" y2="576.4" stroke="#c83848" stroke-width="1.2"/>
<path d="M283.0,569.6 L284.8,572.8 L281.2,572.8 Z" fill="#c83848"/>
<line x1="293.7" y1="572.1" x2="293.7" y2="576.4" stroke="#c83848" stroke-width="1.2"/>
<path d="M293.7,569.6 L295.5,572.8 L291.9,572.8 Z" fill="#c83848"/>
<line x1="306.7" y1="572.1" x2="306.7" y2="576.4" stroke="#c83848" stroke-width="1.2"/>
<path d="M306.7,569.6 L308.5,572.8 L304.9,572.8 Z" fill="#c83848"/>
<line x1="318.3" y1="572.1" x2="318.3" y2="576.4" stroke="#c83848" stroke-width="1.2"/>
<path d="M318.3,569.6 L320.1,572.8 L316.5,572.8 Z" fill="#c83848"/>
<line x1="332.1" y1="572.1" x2="332.1" y2="576.4" stroke="#c83848" stroke-width="1.2"/>
<path d="M332.1,569.6 L333.9,572.8 L330.3,572.8 Z" fill="#c83848"/>
<line x1="342.7" y1="572.1" x2="342.7" y2="576.4" stroke="#c83848" stroke-width="1.2"/>
<path d="M342.7,569.6 L344.5,572.8 L340.9,572.8 Z" fill="#c83848"/>
<line x1="397.5" y1="572.1" x2="397.5" y2="576.4" stroke="#c83848" stroke-width="1.2"/>
<path d="M397.5,569.6 L399.3,572.8 L395.7,572.8 Z" fill="#c83848"/>
<line x1="414.4" y1="572.1" x2="414.4" y2="576.4" stroke="#c83848" stroke-width="1.2"/>
<path d="M414.4,569.6 L416.2,572.8 L412.6,572.8 Z" fill="#c83848"/>
<line x1="435.6" y1="572.1" x2="435.6" y2="576.4" stroke="#c83848" stroke-width="1.2"/>
<path d="M435.6,569.6 L437.4,572.8 L433.8,572.8 Z" fill="#c83848"/>
<line x1="447.9" y1="572.1" x2="447.9" y2="576.4" stroke="#c83848" stroke-width="1.2"/>
<path d="M447.9,569.6 L449.7,572.8 L446.1,572.8 Z" fill="#c83848"/>
<text x="284.0" y="583.7" font-family="'Liberation Sans', sans-serif" font-size="6.0" font-weight="bold" fill="#222" text-anchor="middle" >1d1</text>
<text x="332.7" y="583.7" font-family="'Liberation Sans', sans-serif" font-size="6.0" font-weight="bold" fill="#222" text-anchor="middle" >C2d1</text>
<text x="435.6" y="583.7" font-family="'Liberation Sans', sans-serif" font-size="6.0" font-weight="bold" fill="#222" text-anchor="middle" >C3d1</text>
</svg>
</body></html>
